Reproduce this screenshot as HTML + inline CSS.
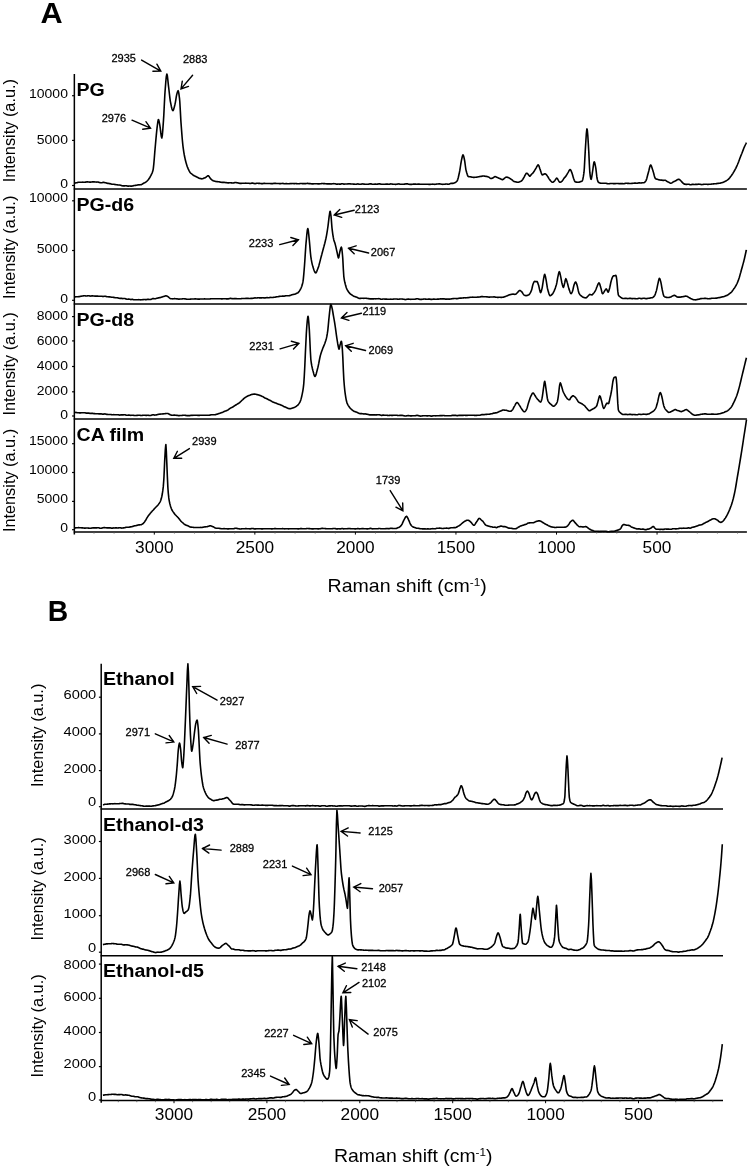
<!DOCTYPE html>
<html><head><meta charset="utf-8"><title>Raman spectra</title>
<style>html,body{margin:0;padding:0;background:#fff}svg{display:block}</style></head>
<body>
<svg width="749" height="1169" viewBox="0 0 749 1169" font-family="Liberation Sans, Arial, Helvetica, sans-serif">
<rect width="749" height="1169" fill="#fff"/>
<defs><filter id="soft" x="0" y="0" width="100%" height="100%" filterUnits="userSpaceOnUse"><feGaussianBlur stdDeviation="0.45"/></filter></defs>
<g filter="url(#soft)">
<text transform="translate(40.6 22.5) scale(1.05 1)" font-size="29.2" text-anchor="start" font-weight="bold" fill="#000">A</text>
<line x1="74.35" y1="74.1" x2="74.35" y2="534.4" stroke="#000" stroke-width="1.5"/>
<line x1="73.75" y1="188.9" x2="746.9" y2="188.9" stroke="#000" stroke-width="1.5"/>
<line x1="73.75" y1="304.0" x2="746.9" y2="304.0" stroke="#000" stroke-width="1.5"/>
<line x1="73.75" y1="418.9" x2="746.9" y2="418.9" stroke="#000" stroke-width="1.5"/>
<line x1="73.75" y1="532.0" x2="746.9" y2="532.0" stroke="#000" stroke-width="1.5"/>
<line x1="72.05" y1="95.7" x2="74.35" y2="95.7" stroke="#000" stroke-width="1.2"/>
<text transform="translate(67.9 98.3) scale(1.1 1)" font-size="12.7" text-anchor="end" fill="#000">10000</text>
<line x1="72.05" y1="140.4" x2="74.35" y2="140.4" stroke="#000" stroke-width="1.2"/>
<text transform="translate(67.9 143.8) scale(1.1 1)" font-size="12.7" text-anchor="end" fill="#000">5000</text>
<line x1="72.05" y1="185.5" x2="74.35" y2="185.5" stroke="#000" stroke-width="1.2"/>
<text transform="translate(67.9 188.1) scale(1.1 1)" font-size="12.7" text-anchor="end" fill="#000">0</text>
<line x1="72.05" y1="200.8" x2="74.35" y2="200.8" stroke="#000" stroke-width="1.2"/>
<text transform="translate(67.9 201.5) scale(1.1 1)" font-size="12.7" text-anchor="end" fill="#000">10000</text>
<line x1="72.05" y1="250.5" x2="74.35" y2="250.5" stroke="#000" stroke-width="1.2"/>
<text transform="translate(67.9 252.6) scale(1.1 1)" font-size="12.7" text-anchor="end" fill="#000">5000</text>
<line x1="72.05" y1="300.3" x2="74.35" y2="300.3" stroke="#000" stroke-width="1.2"/>
<text transform="translate(67.9 303.1) scale(1.1 1)" font-size="12.7" text-anchor="end" fill="#000">0</text>
<line x1="72.05" y1="316.6" x2="74.35" y2="316.6" stroke="#000" stroke-width="1.2"/>
<text transform="translate(67.9 319.5) scale(1.1 1)" font-size="12.7" text-anchor="end" fill="#000">8000</text>
<line x1="72.05" y1="340.9" x2="74.35" y2="340.9" stroke="#000" stroke-width="1.2"/>
<text transform="translate(67.9 344.5) scale(1.1 1)" font-size="12.7" text-anchor="end" fill="#000">6000</text>
<line x1="72.05" y1="366.5" x2="74.35" y2="366.5" stroke="#000" stroke-width="1.2"/>
<text transform="translate(67.9 369.5) scale(1.1 1)" font-size="12.7" text-anchor="end" fill="#000">4000</text>
<line x1="72.05" y1="391.8" x2="74.35" y2="391.8" stroke="#000" stroke-width="1.2"/>
<text transform="translate(67.9 394.6) scale(1.1 1)" font-size="12.7" text-anchor="end" fill="#000">2000</text>
<line x1="72.05" y1="416" x2="74.35" y2="416" stroke="#000" stroke-width="1.2"/>
<text transform="translate(67.9 418.9) scale(1.1 1)" font-size="12.7" text-anchor="end" fill="#000">0</text>
<line x1="72.05" y1="443.7" x2="74.35" y2="443.7" stroke="#000" stroke-width="1.2"/>
<text transform="translate(67.9 445.4) scale(1.1 1)" font-size="12.7" text-anchor="end" fill="#000">15000</text>
<line x1="72.05" y1="472.5" x2="74.35" y2="472.5" stroke="#000" stroke-width="1.2"/>
<text transform="translate(67.9 474.2) scale(1.1 1)" font-size="12.7" text-anchor="end" fill="#000">10000</text>
<line x1="72.05" y1="501.4" x2="74.35" y2="501.4" stroke="#000" stroke-width="1.2"/>
<text transform="translate(67.9 503.2) scale(1.1 1)" font-size="12.7" text-anchor="end" fill="#000">5000</text>
<line x1="72.05" y1="529.7" x2="74.35" y2="529.7" stroke="#000" stroke-width="1.2"/>
<text transform="translate(67.9 531.7) scale(1.1 1)" font-size="12.7" text-anchor="end" fill="#000">0</text>
<text transform="translate(14.8 130.7) scale(1.01 1) rotate(-90)" font-size="16.3" text-anchor="middle" fill="#000">Intensity (a.u.)</text>
<text transform="translate(14.8 247.3) scale(1.01 1) rotate(-90)" font-size="16.3" text-anchor="middle" fill="#000">Intensity (a.u.)</text>
<text transform="translate(14.8 363.9) scale(1.01 1) rotate(-90)" font-size="16.3" text-anchor="middle" fill="#000">Intensity (a.u.)</text>
<text transform="translate(14.8 480.5) scale(1.01 1) rotate(-90)" font-size="16.3" text-anchor="middle" fill="#000">Intensity (a.u.)</text>
<line x1="94.0" y1="532.0" x2="94.0" y2="533.6" stroke="#555" stroke-width="0.8"/>
<line x1="114.1" y1="532.0" x2="114.1" y2="533.6" stroke="#555" stroke-width="0.8"/>
<line x1="134.2" y1="532.0" x2="134.2" y2="533.6" stroke="#555" stroke-width="0.8"/>
<line x1="154.3" y1="532.0" x2="154.3" y2="534.6" stroke="#000" stroke-width="1.0"/>
<text transform="translate(154.3 552.6) scale(1.1 1)" font-size="15.7" text-anchor="middle" fill="#000">3000</text>
<line x1="174.4" y1="532.0" x2="174.4" y2="533.6" stroke="#555" stroke-width="0.8"/>
<line x1="194.5" y1="532.0" x2="194.5" y2="533.6" stroke="#555" stroke-width="0.8"/>
<line x1="214.6" y1="532.0" x2="214.6" y2="533.6" stroke="#555" stroke-width="0.8"/>
<line x1="234.7" y1="532.0" x2="234.7" y2="533.6" stroke="#555" stroke-width="0.8"/>
<line x1="254.85000000000002" y1="532.0" x2="254.85000000000002" y2="534.6" stroke="#000" stroke-width="1.0"/>
<text transform="translate(254.9 552.6) scale(1.1 1)" font-size="15.7" text-anchor="middle" fill="#000">2500</text>
<line x1="275.0" y1="532.0" x2="275.0" y2="533.6" stroke="#555" stroke-width="0.8"/>
<line x1="295.1" y1="532.0" x2="295.1" y2="533.6" stroke="#555" stroke-width="0.8"/>
<line x1="315.2" y1="532.0" x2="315.2" y2="533.6" stroke="#555" stroke-width="0.8"/>
<line x1="335.3" y1="532.0" x2="335.3" y2="533.6" stroke="#555" stroke-width="0.8"/>
<line x1="355.4" y1="532.0" x2="355.4" y2="534.6" stroke="#000" stroke-width="1.0"/>
<text transform="translate(355.4 552.6) scale(1.1 1)" font-size="15.7" text-anchor="middle" fill="#000">2000</text>
<line x1="375.5" y1="532.0" x2="375.5" y2="533.6" stroke="#555" stroke-width="0.8"/>
<line x1="395.6" y1="532.0" x2="395.6" y2="533.6" stroke="#555" stroke-width="0.8"/>
<line x1="415.7" y1="532.0" x2="415.7" y2="533.6" stroke="#555" stroke-width="0.8"/>
<line x1="435.8" y1="532.0" x2="435.8" y2="533.6" stroke="#555" stroke-width="0.8"/>
<line x1="455.95" y1="532.0" x2="455.95" y2="534.6" stroke="#000" stroke-width="1.0"/>
<text transform="translate(455.9 552.6) scale(1.1 1)" font-size="15.7" text-anchor="middle" fill="#000">1500</text>
<line x1="476.1" y1="532.0" x2="476.1" y2="533.6" stroke="#555" stroke-width="0.8"/>
<line x1="496.2" y1="532.0" x2="496.2" y2="533.6" stroke="#555" stroke-width="0.8"/>
<line x1="516.3" y1="532.0" x2="516.3" y2="533.6" stroke="#555" stroke-width="0.8"/>
<line x1="536.4" y1="532.0" x2="536.4" y2="533.6" stroke="#555" stroke-width="0.8"/>
<line x1="556.5" y1="532.0" x2="556.5" y2="534.6" stroke="#000" stroke-width="1.0"/>
<text transform="translate(556.5 552.6) scale(1.1 1)" font-size="15.7" text-anchor="middle" fill="#000">1000</text>
<line x1="576.6" y1="532.0" x2="576.6" y2="533.6" stroke="#555" stroke-width="0.8"/>
<line x1="596.7" y1="532.0" x2="596.7" y2="533.6" stroke="#555" stroke-width="0.8"/>
<line x1="616.8" y1="532.0" x2="616.8" y2="533.6" stroke="#555" stroke-width="0.8"/>
<line x1="636.9" y1="532.0" x2="636.9" y2="533.6" stroke="#555" stroke-width="0.8"/>
<line x1="657.05" y1="532.0" x2="657.05" y2="534.6" stroke="#000" stroke-width="1.0"/>
<text transform="translate(657.0 552.6) scale(1.1 1)" font-size="15.7" text-anchor="middle" fill="#000">500</text>
<line x1="677.2" y1="532.0" x2="677.2" y2="533.6" stroke="#555" stroke-width="0.8"/>
<line x1="697.3" y1="532.0" x2="697.3" y2="533.6" stroke="#555" stroke-width="0.8"/>
<line x1="717.4" y1="532.0" x2="717.4" y2="533.6" stroke="#555" stroke-width="0.8"/>
<line x1="737.5" y1="532.0" x2="737.5" y2="533.6" stroke="#555" stroke-width="0.8"/>
<text transform="translate(327.6 591.7) scale(1.117 1)" font-size="17.5" fill="#000">Raman shift (cm<tspan font-size="10.5" dy="-6">-1</tspan><tspan dy="6">)</tspan></text>
<path d="M74.8 183.1 L75.3 183.0 L75.8 182.9 L76.3 182.8 L76.8 182.7 L77.3 182.6 L77.8 182.4 L78.3 182.3 L78.8 182.3 L79.3 182.2 L79.8 182.2 L80.3 182.2 L80.8 182.2 L81.3 182.2 L81.8 182.2 L82.3 182.2 L82.8 182.1 L83.3 182.2 L83.8 182.2 L84.0 182.2 L84.3 182.2 L84.8 182.2 L85.3 182.1 L85.8 182.1 L86.3 182.0 L86.8 181.9 L87.3 181.9 L87.8 181.9 L88.3 182.0 L88.8 182.0 L89.0 182.0 L89.3 182.1 L89.8 182.1 L90.3 182.1 L90.8 182.1 L91.3 182.0 L91.8 182.0 L92.3 181.9 L92.8 181.9 L93.3 181.9 L93.8 181.9 L94.3 181.9 L94.8 182.0 L95.3 182.0 L95.8 182.0 L96.3 182.0 L96.8 182.1 L97.3 182.0 L97.8 182.0 L98.3 182.1 L98.8 182.2 L99.3 182.4 L99.8 182.6 L100.0 182.6 L100.3 182.7 L100.8 182.8 L101.3 182.7 L101.8 182.7 L102.3 182.6 L102.8 182.4 L103.3 182.4 L103.8 182.4 L104.3 182.5 L104.8 182.6 L105.3 182.7 L105.8 182.8 L106.3 183.0 L106.8 183.1 L107.3 183.2 L107.8 183.4 L108.3 183.4 L108.8 183.5 L109.3 183.6 L109.8 183.6 L110.3 183.8 L110.8 183.9 L111.3 184.1 L111.8 184.3 L112.3 184.3 L112.8 184.3 L113.3 184.3 L113.8 184.3 L114.3 184.4 L114.8 184.5 L115.0 184.5 L115.3 184.5 L115.8 184.6 L116.3 184.7 L116.8 184.7 L117.3 184.8 L117.8 185.0 L118.3 185.0 L118.8 185.0 L119.3 185.0 L119.8 185.0 L120.3 185.2 L120.8 185.3 L121.3 185.5 L121.8 185.7 L122.3 185.8 L122.8 185.9 L123.3 185.9 L123.8 185.9 L124.3 185.9 L124.8 185.9 L125.3 185.8 L125.8 185.7 L126.3 185.8 L126.8 185.9 L127.3 186.0 L127.8 186.1 L128.3 186.1 L128.8 186.1 L129.3 186.0 L129.8 186.0 L130.0 186.0 L130.3 186.1 L130.8 186.1 L131.3 186.1 L131.8 186.1 L132.3 186.0 L132.8 185.9 L133.3 185.7 L133.8 185.6 L134.3 185.5 L134.8 185.5 L135.3 185.4 L135.8 185.4 L136.3 185.3 L136.8 185.3 L137.3 185.1 L137.8 184.9 L138.3 184.9 L138.8 184.8 L139.3 184.8 L139.8 184.9 L140.0 184.8 L140.3 184.8 L140.8 184.8 L141.3 184.6 L141.8 184.5 L142.3 184.1 L142.8 183.8 L143.3 183.4 L143.8 183.0 L144.3 182.9 L144.8 182.7 L145.3 182.4 L145.8 182.1 L146.3 181.7 L146.8 181.2 L147.0 181.1 L147.3 180.8 L147.8 180.2 L148.3 179.7 L148.8 179.0 L149.3 178.3 L149.8 177.5 L150.3 176.6 L150.8 175.7 L151.0 175.3 L151.3 174.7 L151.8 173.7 L152.3 172.6 L152.8 171.0 L153.0 170.3 L153.3 168.6 L153.8 164.1 L154.3 158.2 L154.8 151.9 L155.3 146.2 L155.8 140.6 L156.3 135.1 L156.8 130.1 L157.0 128.4 L157.3 125.9 L157.8 122.0 L158.3 119.6 L158.4 119.5 L158.8 120.2 L159.3 122.5 L159.8 125.1 L160.3 128.6 L160.8 132.9 L161.3 136.5 L161.8 138.0 L162.3 135.6 L162.8 129.9 L163.3 122.9 L163.5 120.1 L163.8 115.2 L164.3 105.0 L164.8 95.2 L165.0 92.2 L165.3 88.2 L165.8 81.8 L166.3 76.6 L166.8 74.1 L166.9 74.0 L167.3 75.4 L167.8 79.5 L168.3 84.4 L168.5 86.1 L168.8 88.5 L169.3 93.0 L169.8 97.4 L170.3 101.1 L170.5 102.2 L170.8 103.7 L171.3 106.2 L171.8 108.3 L172.3 109.9 L172.8 110.6 L172.9 110.6 L173.3 110.2 L173.8 108.9 L174.3 107.1 L174.8 105.0 L175.0 104.2 L175.3 102.8 L175.8 99.8 L176.3 96.7 L176.8 94.2 L177.3 92.4 L177.8 91.0 L178.1 90.7 L178.3 90.9 L178.8 93.1 L179.3 96.8 L179.5 98.4 L179.8 101.8 L180.3 110.4 L180.8 119.6 L181.0 122.6 L181.3 126.7 L181.8 133.4 L182.3 139.5 L182.8 144.6 L183.0 146.4 L183.3 148.7 L183.8 152.1 L184.3 155.0 L184.8 157.5 L185.0 158.4 L185.3 159.7 L185.8 161.7 L186.3 163.6 L186.8 165.2 L187.3 166.7 L187.8 167.9 L188.3 169.1 L188.8 170.1 L189.3 171.1 L189.8 172.0 L190.3 172.7 L190.8 173.2 L191.0 173.4 L191.3 173.6 L191.8 174.0 L192.3 174.4 L192.8 174.8 L193.3 175.2 L193.8 175.5 L194.3 175.8 L194.8 176.0 L195.0 176.1 L195.3 176.3 L195.8 176.5 L196.3 176.8 L196.8 177.1 L197.3 177.3 L197.8 177.6 L198.3 177.8 L198.8 178.1 L199.3 178.2 L199.8 178.4 L200.3 178.5 L200.8 178.6 L201.3 178.8 L201.8 178.9 L202.0 178.8 L202.3 178.8 L202.8 178.7 L203.3 178.4 L203.8 178.1 L204.3 178.0 L204.8 177.9 L205.0 177.8 L205.3 177.7 L205.8 177.4 L206.3 176.9 L206.8 176.5 L207.3 176.1 L207.8 175.8 L208.2 175.7 L208.3 175.7 L208.8 176.1 L209.3 176.8 L209.8 177.6 L210.3 178.4 L210.5 178.6 L210.8 178.9 L211.3 179.4 L211.8 179.8 L212.3 180.2 L212.8 180.5 L213.3 180.8 L213.8 181.0 L214.0 181.0 L214.3 181.1 L214.8 181.3 L215.3 181.4 L215.8 181.5 L216.3 181.5 L216.8 181.6 L217.3 181.6 L217.8 181.7 L218.3 181.7 L218.8 181.8 L219.3 181.9 L219.8 182.0 L220.3 182.1 L220.8 182.2 L221.3 182.3 L221.8 182.4 L222.3 182.4 L222.8 182.4 L223.3 182.4 L223.8 182.3 L224.3 182.4 L224.8 182.5 L225.0 182.5 L225.3 182.5 L225.8 182.6 L226.3 182.6 L226.8 182.7 L227.3 182.8 L227.8 182.9 L228.3 182.9 L228.8 182.9 L229.3 182.8 L229.8 182.7 L230.3 182.8 L230.8 182.8 L231.3 182.9 L231.8 182.9 L232.3 183.0 L232.8 183.0 L233.3 183.0 L233.8 182.9 L234.3 182.8 L234.8 182.6 L235.3 182.5 L235.8 182.5 L236.3 182.6 L236.8 182.7 L237.3 182.8 L237.8 182.9 L238.3 183.0 L238.8 183.1 L239.3 183.3 L239.8 183.4 L240.3 183.4 L240.8 183.4 L241.3 183.4 L241.8 183.3 L242.3 183.3 L242.8 183.3 L243.3 183.3 L243.8 183.3 L244.3 183.2 L244.8 183.2 L245.3 183.2 L245.8 183.1 L246.3 183.2 L246.8 183.2 L247.3 183.3 L247.8 183.3 L248.3 183.3 L248.8 183.3 L249.3 183.4 L249.8 183.5 L250.0 183.5 L250.3 183.5 L250.8 183.4 L251.3 183.2 L251.8 183.1 L252.3 183.1 L252.8 183.1 L253.3 183.2 L253.8 183.4 L254.3 183.5 L254.8 183.6 L255.3 183.6 L255.8 183.5 L256.3 183.4 L256.8 183.3 L257.3 183.3 L257.8 183.3 L258.3 183.4 L258.8 183.4 L259.3 183.4 L259.8 183.4 L260.3 183.5 L260.8 183.5 L261.3 183.6 L261.8 183.6 L262.3 183.6 L262.8 183.6 L263.3 183.5 L263.8 183.4 L264.3 183.4 L264.8 183.4 L265.3 183.5 L265.8 183.5 L266.3 183.5 L266.8 183.5 L267.3 183.5 L267.8 183.5 L268.3 183.5 L268.8 183.5 L269.3 183.5 L269.8 183.5 L270.3 183.5 L270.8 183.6 L271.3 183.6 L271.8 183.6 L272.3 183.6 L272.8 183.6 L273.3 183.5 L273.8 183.4 L274.3 183.4 L274.8 183.4 L275.3 183.4 L275.8 183.4 L276.3 183.5 L276.8 183.5 L277.3 183.5 L277.8 183.5 L278.3 183.5 L278.8 183.5 L279.3 183.6 L279.8 183.6 L280.3 183.6 L280.8 183.6 L281.3 183.5 L281.8 183.5 L282.3 183.5 L282.8 183.4 L283.3 183.5 L283.8 183.6 L284.3 183.7 L284.8 183.7 L285.3 183.7 L285.8 183.6 L286.3 183.6 L286.8 183.6 L287.3 183.7 L287.8 183.7 L288.3 183.7 L288.8 183.7 L289.3 183.7 L289.8 183.6 L290.3 183.6 L290.8 183.5 L291.3 183.5 L291.8 183.6 L292.3 183.5 L292.8 183.5 L293.3 183.5 L293.8 183.6 L294.3 183.6 L294.8 183.6 L295.3 183.5 L295.8 183.5 L296.3 183.6 L296.8 183.6 L297.3 183.7 L297.8 183.7 L298.3 183.8 L298.8 183.8 L299.3 183.7 L299.8 183.6 L300.0 183.6 L300.3 183.5 L300.8 183.5 L301.3 183.5 L301.8 183.5 L302.3 183.6 L302.8 183.6 L303.3 183.6 L303.8 183.6 L304.3 183.6 L304.8 183.6 L305.3 183.6 L305.8 183.6 L306.3 183.5 L306.8 183.5 L307.3 183.4 L307.8 183.4 L308.3 183.5 L308.8 183.6 L309.3 183.6 L309.8 183.6 L310.3 183.6 L310.8 183.7 L311.3 183.8 L311.8 183.9 L312.3 183.9 L312.8 183.9 L313.3 183.9 L313.8 183.8 L314.3 183.8 L314.8 183.7 L315.3 183.7 L315.8 183.7 L316.3 183.8 L316.8 183.8 L317.3 183.8 L317.8 183.9 L318.3 183.9 L318.8 183.9 L319.3 183.9 L319.8 183.8 L320.3 183.8 L320.8 183.7 L321.3 183.6 L321.8 183.5 L322.3 183.5 L322.8 183.5 L323.3 183.6 L323.8 183.6 L324.3 183.6 L324.8 183.6 L325.3 183.7 L325.8 183.7 L326.3 183.8 L326.8 183.9 L327.3 183.9 L327.8 183.9 L328.3 183.9 L328.8 183.9 L329.3 183.9 L329.8 183.9 L330.3 183.9 L330.8 184.0 L331.3 184.0 L331.8 183.9 L332.3 183.8 L332.8 183.7 L333.3 183.7 L333.8 183.6 L334.3 183.7 L334.8 183.7 L335.3 183.8 L335.8 184.0 L336.3 184.1 L336.8 184.2 L337.3 184.1 L337.8 184.1 L338.3 184.0 L338.8 184.0 L339.3 184.1 L339.8 184.1 L340.3 184.1 L340.8 184.1 L341.3 183.9 L341.8 183.8 L342.3 183.8 L342.8 183.8 L343.3 184.0 L343.8 184.1 L344.3 184.1 L344.8 184.0 L345.3 184.0 L345.8 184.0 L346.3 184.0 L346.8 184.0 L347.3 184.0 L347.8 183.9 L348.3 183.9 L348.8 183.8 L349.3 183.8 L349.8 183.9 L350.0 183.9 L350.3 183.9 L350.8 184.0 L351.3 184.0 L351.8 184.0 L352.3 184.0 L352.8 184.0 L353.3 184.1 L353.8 184.1 L354.3 184.1 L354.8 184.2 L355.3 184.2 L355.8 184.3 L356.3 184.2 L356.8 184.1 L357.3 184.0 L357.8 183.9 L358.3 184.0 L358.8 184.1 L359.3 184.2 L359.8 184.2 L360.3 184.2 L360.8 184.2 L361.3 184.1 L361.8 184.0 L362.3 184.0 L362.8 183.9 L363.3 184.0 L363.8 184.1 L364.3 184.1 L364.8 184.2 L365.3 184.2 L365.8 184.2 L366.3 184.2 L366.8 184.3 L367.3 184.3 L367.8 184.3 L368.3 184.2 L368.8 184.1 L369.3 184.0 L369.8 183.9 L370.3 183.9 L370.8 183.8 L371.3 183.9 L371.8 184.1 L372.3 184.2 L372.8 184.3 L373.3 184.3 L373.8 184.2 L374.3 184.2 L374.8 184.1 L375.3 184.1 L375.8 184.1 L376.3 184.2 L376.8 184.2 L377.3 184.1 L377.8 184.1 L378.3 184.0 L378.8 183.9 L379.3 183.9 L379.8 183.9 L380.3 184.0 L380.8 184.1 L381.3 184.2 L381.8 184.2 L382.3 184.2 L382.8 184.2 L383.3 184.2 L383.8 184.2 L384.3 184.2 L384.8 184.3 L385.3 184.2 L385.8 184.1 L386.3 184.1 L386.8 184.0 L387.3 184.1 L387.8 184.1 L388.3 184.2 L388.8 184.2 L389.3 184.2 L389.8 184.1 L390.3 184.0 L390.8 183.9 L391.3 184.0 L391.8 184.0 L392.3 184.1 L392.8 184.2 L393.3 184.2 L393.8 184.2 L394.3 184.3 L394.8 184.3 L395.3 184.4 L395.8 184.4 L396.3 184.3 L396.8 184.3 L397.3 184.1 L397.8 184.0 L398.3 184.0 L398.8 183.9 L399.3 184.0 L399.8 184.1 L400.0 184.2 L400.3 184.2 L400.8 184.3 L401.3 184.3 L401.8 184.3 L402.3 184.3 L402.8 184.2 L403.3 184.2 L403.8 184.2 L404.3 184.1 L404.8 184.1 L405.3 184.0 L405.8 183.9 L406.3 183.9 L406.8 183.8 L407.3 183.9 L407.8 183.9 L408.3 184.1 L408.8 184.2 L409.3 184.3 L409.8 184.4 L410.3 184.4 L410.8 184.4 L411.3 184.4 L411.8 184.4 L412.3 184.3 L412.8 184.2 L413.3 184.1 L413.8 184.1 L414.3 184.1 L414.8 184.1 L415.3 184.1 L415.8 184.1 L416.3 184.2 L416.8 184.2 L417.3 184.2 L417.8 184.1 L418.3 184.1 L418.8 184.1 L419.3 184.1 L419.8 184.2 L420.3 184.2 L420.8 184.2 L421.3 184.2 L421.8 184.2 L422.3 184.2 L422.8 184.3 L423.3 184.2 L423.8 184.2 L424.3 184.2 L424.8 184.2 L425.3 184.2 L425.8 184.3 L426.3 184.3 L426.8 184.3 L427.3 184.3 L427.8 184.2 L428.3 184.3 L428.8 184.4 L429.3 184.4 L429.8 184.4 L430.3 184.4 L430.8 184.3 L431.3 184.3 L431.8 184.2 L432.3 184.2 L432.8 184.1 L433.3 184.2 L433.8 184.2 L434.3 184.3 L434.8 184.4 L435.3 184.3 L435.8 184.2 L436.3 184.1 L436.8 184.0 L437.3 184.0 L437.8 184.0 L438.3 184.0 L438.8 183.9 L439.3 183.9 L439.8 183.9 L440.0 183.9 L440.3 184.0 L440.8 184.0 L441.3 184.2 L441.8 184.3 L442.3 184.3 L442.8 184.4 L443.3 184.3 L443.8 184.3 L444.3 184.2 L444.8 184.2 L445.3 184.1 L445.8 184.0 L446.3 184.0 L446.8 184.0 L447.3 184.1 L447.8 184.2 L448.3 184.2 L448.8 184.2 L449.3 184.0 L449.8 183.9 L450.3 183.6 L450.8 183.4 L451.3 183.4 L451.8 183.3 L452.0 183.3 L452.3 183.4 L452.8 183.4 L453.3 183.2 L453.8 183.1 L454.3 182.9 L454.8 182.7 L455.3 182.5 L455.8 182.3 L456.3 181.8 L456.8 181.3 L457.0 181.1 L457.3 180.6 L457.8 179.3 L458.3 177.5 L458.8 175.3 L459.3 173.0 L459.5 172.1 L459.8 170.5 L460.3 167.4 L460.8 164.0 L461.3 161.1 L461.5 160.1 L461.8 158.8 L462.3 156.5 L462.8 155.1 L463.0 154.9 L463.3 155.2 L463.8 156.7 L464.3 159.0 L464.5 160.0 L464.8 161.7 L465.3 165.5 L465.8 169.1 L466.0 170.1 L466.3 171.2 L466.8 173.0 L467.3 174.6 L467.8 175.9 L468.3 176.5 L468.5 176.6 L468.8 176.6 L469.3 176.7 L469.8 176.7 L470.3 176.8 L470.8 176.9 L471.3 177.0 L471.8 177.1 L472.3 177.2 L472.8 177.3 L473.3 177.4 L473.8 177.4 L474.3 177.4 L474.8 177.3 L475.0 177.3 L475.3 177.3 L475.8 177.2 L476.3 177.2 L476.8 177.1 L477.3 177.0 L477.8 177.0 L478.3 176.8 L478.8 176.7 L479.3 176.6 L479.8 176.5 L480.3 176.5 L480.8 176.4 L481.3 176.4 L481.8 176.3 L482.3 176.1 L482.8 176.0 L483.0 176.0 L483.3 176.0 L483.8 176.0 L484.3 176.1 L484.8 176.3 L485.3 176.3 L485.8 176.4 L486.3 176.4 L486.8 176.5 L487.3 176.6 L487.8 176.7 L488.0 176.8 L488.3 176.9 L488.8 177.1 L489.3 177.5 L489.8 177.9 L490.3 178.2 L490.8 178.4 L491.3 178.5 L491.8 178.4 L492.3 178.3 L492.8 178.1 L493.3 177.7 L493.8 177.3 L494.3 176.9 L494.8 176.6 L495.3 176.6 L495.4 176.6 L495.8 176.8 L496.3 177.0 L496.8 177.3 L497.3 177.5 L497.8 177.6 L498.3 177.9 L498.8 178.2 L499.0 178.2 L499.3 178.4 L499.8 178.6 L500.3 178.8 L500.8 179.0 L501.3 179.3 L501.8 179.5 L502.0 179.6 L502.3 179.6 L502.8 179.6 L503.3 179.3 L503.8 178.9 L504.3 178.4 L504.8 178.0 L505.3 177.6 L505.8 177.3 L506.3 177.2 L506.8 177.1 L507.0 177.1 L507.3 177.2 L507.8 177.4 L508.3 177.6 L508.8 177.8 L509.3 178.1 L509.8 178.4 L510.3 178.7 L510.8 179.0 L511.0 179.1 L511.3 179.3 L511.8 179.7 L512.3 180.1 L512.8 180.6 L513.3 181.0 L513.8 181.4 L514.0 181.4 L514.3 181.5 L514.8 181.7 L515.3 181.8 L515.8 181.9 L516.3 182.0 L516.8 182.1 L517.3 182.2 L517.8 182.2 L518.3 182.2 L518.8 182.1 L519.3 181.9 L519.8 181.7 L520.3 181.5 L520.8 181.3 L521.0 181.2 L521.3 181.1 L521.8 180.7 L522.3 180.1 L522.8 179.4 L523.3 178.5 L523.8 177.6 L524.0 177.3 L524.3 176.8 L524.8 175.7 L525.3 174.8 L525.8 173.9 L526.3 173.3 L526.7 173.2 L526.8 173.2 L527.3 173.4 L527.8 173.9 L528.3 174.6 L528.5 174.8 L528.8 175.2 L529.3 175.9 L529.8 176.3 L530.3 175.9 L530.8 175.2 L531.3 174.5 L531.5 174.3 L531.8 174.0 L532.3 173.6 L532.8 173.2 L533.3 172.6 L533.4 172.4 L533.8 171.8 L534.3 171.0 L534.8 170.1 L535.3 169.3 L535.8 168.5 L536.0 168.2 L536.3 167.7 L536.8 166.7 L537.3 165.8 L537.8 165.0 L538.2 164.9 L538.3 164.9 L538.8 165.6 L539.3 167.0 L539.8 168.5 L540.0 169.1 L540.3 169.9 L540.8 171.5 L541.3 173.1 L541.8 174.3 L542.3 174.9 L542.8 174.8 L543.3 174.6 L543.8 174.2 L544.3 174.0 L544.8 173.8 L545.0 173.8 L545.3 173.8 L545.8 174.2 L546.3 174.6 L546.8 175.2 L547.3 175.9 L547.5 176.2 L547.8 176.6 L548.3 177.5 L548.8 178.4 L549.3 179.2 L549.8 179.8 L550.0 180.1 L550.3 180.4 L550.8 181.0 L551.3 181.5 L551.8 182.0 L552.3 182.2 L552.6 182.3 L552.8 182.3 L553.3 182.1 L553.8 181.6 L554.3 181.2 L554.5 181.0 L554.8 180.7 L555.3 179.9 L555.8 179.1 L556.3 178.4 L556.7 178.1 L556.8 178.1 L557.3 178.5 L557.8 179.4 L558.3 180.2 L558.8 181.1 L559.3 181.9 L559.8 182.2 L560.3 182.2 L560.8 182.0 L561.3 181.7 L561.8 181.4 L562.0 181.2 L562.3 180.9 L562.8 180.2 L563.3 179.4 L563.8 178.6 L564.0 178.3 L564.3 177.9 L564.8 177.4 L565.3 176.9 L565.8 176.3 L566.3 175.5 L566.8 174.7 L567.3 173.8 L567.8 172.9 L568.0 172.6 L568.3 172.1 L568.8 171.2 L569.3 170.3 L569.8 169.7 L570.2 169.5 L570.3 169.6 L570.8 170.2 L571.3 171.3 L571.8 172.6 L572.0 173.1 L572.3 174.0 L572.8 175.8 L573.3 177.6 L573.5 178.2 L573.8 179.0 L574.3 180.3 L574.8 181.4 L575.3 181.9 L575.4 182.0 L575.8 182.0 L576.3 182.1 L576.8 182.1 L577.3 182.2 L577.8 182.2 L578.3 182.3 L578.6 182.3 L578.8 182.3 L579.3 182.1 L579.8 182.0 L580.3 181.7 L580.8 181.5 L581.3 181.4 L581.8 181.2 L582.0 181.1 L582.3 180.8 L582.8 179.4 L583.3 176.9 L583.8 173.7 L584.0 172.2 L584.3 168.6 L584.8 159.2 L585.3 150.1 L585.8 142.0 L586.3 134.2 L586.8 129.4 L587.0 128.9 L587.3 130.0 L587.8 135.5 L588.3 143.6 L588.7 150.2 L588.8 151.9 L589.3 163.3 L589.8 172.2 L590.3 176.3 L590.8 178.9 L591.1 179.4 L591.3 179.1 L591.8 176.7 L592.3 173.3 L592.5 172.0 L592.8 170.0 L593.3 166.1 L593.8 162.9 L594.2 161.9 L594.3 161.9 L594.8 163.1 L595.3 165.4 L595.8 168.1 L596.3 172.1 L596.8 176.7 L597.0 178.0 L597.3 179.4 L597.8 181.2 L598.3 182.2 L598.8 182.6 L599.3 182.8 L599.8 183.0 L600.3 183.1 L600.8 183.2 L601.3 183.2 L601.8 183.2 L602.0 183.2 L602.3 183.2 L602.8 183.2 L603.3 183.3 L603.8 183.3 L604.3 183.3 L604.8 183.3 L605.3 183.3 L605.8 183.3 L606.3 183.4 L606.8 183.5 L607.3 183.6 L607.8 183.7 L608.3 183.7 L608.8 183.7 L609.3 183.7 L609.8 183.6 L610.3 183.5 L610.8 183.5 L611.3 183.5 L611.8 183.5 L612.3 183.5 L612.8 183.5 L613.3 183.6 L613.8 183.6 L614.3 183.6 L614.8 183.6 L615.3 183.6 L615.8 183.5 L616.3 183.5 L616.8 183.5 L617.3 183.5 L617.8 183.5 L618.3 183.5 L618.8 183.6 L619.3 183.6 L619.8 183.7 L620.0 183.7 L620.3 183.6 L620.8 183.6 L621.3 183.6 L621.8 183.5 L622.3 183.6 L622.8 183.6 L623.3 183.7 L623.8 183.7 L624.3 183.6 L624.8 183.5 L625.3 183.4 L625.8 183.3 L626.3 183.3 L626.8 183.3 L627.3 183.4 L627.8 183.4 L628.3 183.4 L628.8 183.4 L629.3 183.5 L629.8 183.5 L630.3 183.5 L630.8 183.5 L631.3 183.5 L631.8 183.4 L632.3 183.4 L632.8 183.3 L633.3 183.2 L633.8 183.2 L634.3 183.1 L634.8 183.0 L635.3 183.1 L635.8 183.1 L636.3 183.2 L636.8 183.3 L637.3 183.2 L637.8 183.1 L638.3 183.0 L638.8 182.9 L639.3 182.9 L639.8 182.9 L640.3 183.0 L640.8 183.0 L641.3 183.0 L641.8 182.9 L642.3 182.8 L642.8 182.7 L643.3 182.7 L643.5 182.7 L643.8 182.7 L644.3 182.5 L644.8 182.2 L645.3 181.6 L645.8 181.0 L646.0 180.6 L646.3 179.9 L646.8 178.4 L647.3 176.5 L647.8 174.5 L648.3 172.7 L648.5 172.0 L648.8 170.9 L649.3 168.8 L649.8 166.8 L650.3 165.3 L650.7 165.0 L650.8 165.0 L651.3 165.8 L651.8 167.3 L652.3 168.8 L652.5 169.4 L652.8 170.3 L653.3 171.9 L653.8 173.8 L654.3 175.8 L654.8 177.4 L655.3 178.5 L655.5 178.7 L655.8 178.9 L656.3 179.0 L656.8 179.2 L657.3 179.3 L657.8 179.4 L658.3 179.6 L658.8 179.7 L659.3 179.9 L659.8 180.0 L660.3 180.0 L660.8 180.1 L661.3 180.1 L661.8 180.1 L662.3 180.3 L662.8 180.4 L663.3 180.4 L663.8 180.4 L664.3 180.3 L664.8 180.2 L665.0 180.2 L665.3 180.3 L665.8 180.5 L666.3 180.9 L666.8 181.3 L667.3 181.6 L667.8 181.9 L668.0 182.0 L668.3 182.1 L668.8 182.3 L669.3 182.6 L669.8 182.9 L670.3 183.1 L670.8 183.2 L671.0 183.2 L671.3 183.1 L671.8 182.9 L672.3 182.6 L672.8 182.2 L673.3 181.9 L673.8 181.6 L674.3 181.4 L674.8 181.2 L675.0 181.2 L675.3 181.0 L675.8 180.8 L676.3 180.4 L676.8 180.0 L677.3 179.7 L677.8 179.5 L678.3 179.3 L678.8 179.3 L679.3 179.5 L679.8 179.8 L680.3 180.3 L680.8 180.8 L681.0 181.0 L681.3 181.3 L681.8 181.9 L682.3 182.4 L682.8 182.9 L683.3 183.4 L683.8 183.8 L684.3 184.0 L684.4 184.1 L684.8 184.1 L685.3 184.3 L685.8 184.4 L686.3 184.4 L686.8 184.4 L687.3 184.3 L687.8 184.2 L688.3 184.2 L688.8 184.3 L689.3 184.4 L689.8 184.6 L690.3 184.7 L690.8 184.7 L691.3 184.6 L691.8 184.5 L692.3 184.4 L692.8 184.4 L693.3 184.4 L693.8 184.5 L694.3 184.5 L694.8 184.5 L695.3 184.4 L695.8 184.4 L696.3 184.4 L696.8 184.4 L697.3 184.4 L697.8 184.3 L698.3 184.2 L698.8 184.1 L699.3 184.2 L699.8 184.2 L700.0 184.3 L700.3 184.3 L700.8 184.5 L701.3 184.5 L701.8 184.6 L702.3 184.5 L702.8 184.5 L703.3 184.4 L703.8 184.3 L704.3 184.3 L704.8 184.3 L705.3 184.2 L705.8 184.2 L706.3 184.2 L706.8 184.3 L707.3 184.4 L707.8 184.5 L708.3 184.4 L708.8 184.3 L709.3 184.2 L709.8 184.2 L710.3 184.2 L710.8 184.2 L711.3 184.1 L711.8 184.0 L712.3 184.0 L712.8 184.0 L713.3 183.9 L713.8 183.9 L714.3 183.8 L714.8 183.7 L715.3 183.7 L715.8 183.7 L716.3 183.6 L716.8 183.6 L717.3 183.5 L717.8 183.4 L718.0 183.4 L718.3 183.4 L718.8 183.3 L719.3 183.3 L719.8 183.2 L720.3 183.1 L720.8 183.0 L721.3 182.8 L721.8 182.7 L722.0 182.6 L722.3 182.6 L722.8 182.4 L723.3 182.2 L723.8 182.0 L724.3 181.7 L724.8 181.5 L725.3 181.2 L725.8 181.0 L726.3 180.7 L726.8 180.4 L727.3 180.1 L727.6 179.9 L727.8 179.7 L728.3 179.3 L728.8 178.9 L729.3 178.3 L729.8 177.7 L730.3 177.0 L730.8 176.3 L731.0 176.1 L731.3 175.7 L731.8 175.0 L732.3 174.3 L732.8 173.6 L733.3 172.7 L733.8 171.9 L734.3 171.0 L734.8 170.1 L735.3 169.2 L735.8 168.3 L736.3 167.2 L736.8 166.1 L737.3 165.0 L737.8 163.8 L738.0 163.3 L738.3 162.6 L738.8 161.3 L739.3 159.9 L739.8 158.5 L740.3 157.2 L740.8 155.9 L741.3 154.7 L741.8 153.5 L742.3 152.2 L742.8 150.9 L743.3 149.6 L743.8 148.3 L744.0 147.8 L744.3 147.1 L744.8 146.0 L745.3 145.0 L745.8 144.0 L746.3 142.9 L746.4 142.7" fill="none" stroke="#000" stroke-width="1.6" stroke-linejoin="round" stroke-linecap="butt"/>
<path d="M74.8 297.1 L75.3 296.9 L75.8 296.8 L76.3 296.7 L76.8 296.7 L77.3 296.7 L77.8 296.7 L78.3 296.7 L78.8 296.6 L79.3 296.6 L79.8 296.5 L80.3 296.4 L80.8 296.3 L81.3 296.2 L81.8 296.1 L82.3 296.0 L82.8 296.0 L83.3 295.9 L83.8 295.8 L84.0 295.8 L84.3 295.8 L84.8 295.8 L85.3 295.9 L85.8 296.0 L86.3 296.0 L86.8 296.0 L87.3 295.9 L87.8 295.8 L88.3 295.8 L88.8 295.8 L89.3 295.9 L89.8 296.0 L90.0 296.0 L90.3 296.0 L90.8 296.1 L91.3 296.0 L91.8 295.9 L92.3 295.9 L92.8 295.9 L93.3 296.0 L93.8 296.0 L94.3 296.0 L94.8 296.1 L95.3 296.1 L95.8 296.1 L96.3 296.1 L96.8 296.1 L97.3 296.1 L97.8 296.1 L98.3 296.2 L98.8 296.3 L99.3 296.3 L99.8 296.3 L100.3 296.2 L100.8 296.2 L101.3 296.3 L101.8 296.3 L102.3 296.4 L102.8 296.5 L103.3 296.5 L103.8 296.4 L104.3 296.3 L104.8 296.2 L105.0 296.3 L105.3 296.3 L105.8 296.4 L106.3 296.5 L106.8 296.7 L107.3 296.8 L107.8 296.8 L108.3 296.8 L108.8 296.9 L109.3 296.9 L109.8 296.9 L110.3 297.0 L110.8 297.0 L111.3 297.2 L111.8 297.3 L112.3 297.3 L112.8 297.3 L113.3 297.4 L113.8 297.4 L114.3 297.5 L114.8 297.6 L115.3 297.7 L115.8 297.7 L116.3 297.7 L116.8 297.8 L117.3 297.8 L117.8 297.9 L118.3 298.0 L118.8 298.2 L119.3 298.3 L119.8 298.4 L120.3 298.4 L120.8 298.3 L121.3 298.4 L121.8 298.4 L122.3 298.5 L122.8 298.6 L123.3 298.5 L123.8 298.5 L124.3 298.5 L124.8 298.5 L125.0 298.6 L125.3 298.7 L125.8 298.9 L126.3 299.0 L126.8 299.2 L127.3 299.2 L127.8 299.2 L128.3 299.1 L128.8 299.0 L129.3 299.2 L129.8 299.3 L130.3 299.4 L130.8 299.6 L131.3 299.5 L131.8 299.4 L132.3 299.4 L132.8 299.4 L133.3 299.6 L133.8 299.7 L134.3 299.7 L134.8 299.8 L135.3 299.8 L135.8 299.8 L136.3 299.8 L136.8 299.8 L137.3 299.8 L137.8 299.7 L138.3 299.7 L138.8 299.6 L139.3 299.7 L139.7 299.7 L139.8 299.7 L140.3 299.8 L140.8 299.9 L141.3 299.8 L141.8 299.8 L142.3 299.7 L142.8 299.6 L143.3 299.6 L143.8 299.5 L144.3 299.5 L144.8 299.5 L145.3 299.6 L145.8 299.6 L146.3 299.6 L146.8 299.5 L147.3 299.4 L147.8 299.3 L148.3 299.4 L148.8 299.4 L149.3 299.5 L149.8 299.5 L150.3 299.5 L150.8 299.4 L151.3 299.2 L151.8 299.0 L152.0 298.9 L152.3 298.7 L152.8 298.5 L153.3 298.6 L153.8 298.6 L154.3 298.7 L154.8 298.7 L155.3 298.7 L155.8 298.6 L156.3 298.4 L156.8 298.3 L157.3 298.2 L157.8 298.0 L158.3 297.9 L158.8 297.9 L159.3 297.8 L159.8 297.6 L160.0 297.6 L160.3 297.6 L160.8 297.4 L161.3 297.3 L161.8 297.1 L162.3 296.9 L162.8 296.7 L163.3 296.5 L163.5 296.5 L163.8 296.4 L164.3 296.2 L164.8 296.1 L165.3 295.9 L165.6 295.8 L165.8 295.8 L166.3 295.9 L166.8 296.1 L167.3 296.3 L167.5 296.4 L167.8 296.5 L168.3 296.9 L168.8 297.3 L169.3 297.8 L169.8 298.2 L170.3 298.5 L170.8 298.7 L171.0 298.7 L171.3 298.8 L171.8 298.8 L172.3 298.8 L172.8 298.9 L173.3 298.8 L173.8 298.7 L174.3 298.6 L174.8 298.6 L175.3 298.7 L175.8 298.8 L176.3 298.8 L176.8 298.9 L177.3 298.9 L177.8 299.0 L178.0 299.0 L178.3 299.1 L178.8 299.1 L179.3 299.1 L179.8 299.0 L180.3 299.0 L180.8 299.0 L181.3 299.0 L181.8 299.0 L182.3 298.9 L182.8 298.8 L183.3 298.8 L183.8 298.8 L184.3 298.8 L184.8 298.9 L185.3 298.9 L185.8 299.0 L186.3 299.1 L186.8 299.2 L187.3 299.2 L187.8 299.2 L188.3 299.2 L188.8 299.2 L189.3 299.2 L189.8 299.2 L190.3 299.1 L190.8 299.1 L191.3 299.0 L191.8 299.0 L192.3 299.0 L192.8 299.0 L193.3 299.0 L193.8 299.0 L194.3 299.0 L194.8 298.9 L195.3 298.9 L195.8 298.9 L196.3 299.0 L196.8 299.0 L197.3 299.0 L197.8 299.1 L198.3 299.1 L198.8 299.1 L199.3 299.1 L199.8 299.1 L200.0 299.0 L200.3 299.0 L200.8 299.0 L201.3 299.0 L201.8 299.0 L202.3 299.0 L202.8 299.0 L203.3 299.0 L203.8 299.0 L204.3 298.9 L204.8 298.9 L205.3 299.0 L205.8 299.0 L206.3 299.0 L206.8 299.0 L207.3 299.0 L207.8 299.0 L208.3 299.0 L208.8 299.0 L209.3 299.0 L209.8 299.0 L210.3 298.9 L210.8 298.8 L211.3 298.8 L211.8 298.7 L212.3 298.7 L212.8 298.7 L213.3 298.7 L213.8 298.7 L214.3 298.8 L214.8 298.8 L215.3 298.8 L215.8 298.8 L216.3 298.8 L216.8 298.8 L217.3 298.8 L217.8 298.8 L218.3 298.8 L218.8 298.8 L219.3 298.8 L219.8 298.8 L220.3 298.8 L220.8 298.8 L221.3 298.9 L221.8 298.9 L222.3 298.9 L222.8 298.8 L223.3 298.8 L223.8 298.7 L224.3 298.7 L224.8 298.8 L225.3 298.8 L225.8 298.8 L226.3 298.9 L226.8 298.9 L227.3 298.9 L227.8 298.9 L228.3 298.9 L228.8 298.8 L229.3 298.6 L229.8 298.5 L230.3 298.4 L230.8 298.4 L231.3 298.5 L231.8 298.6 L232.3 298.6 L232.8 298.7 L233.3 298.7 L233.8 298.6 L234.3 298.6 L234.8 298.5 L235.3 298.6 L235.8 298.6 L236.3 298.6 L236.8 298.7 L237.3 298.7 L237.8 298.7 L238.3 298.8 L238.8 298.8 L239.3 298.8 L239.8 298.8 L240.0 298.8 L240.3 298.7 L240.8 298.7 L241.3 298.6 L241.8 298.5 L242.3 298.5 L242.8 298.5 L243.3 298.5 L243.8 298.5 L244.3 298.5 L244.8 298.5 L245.3 298.5 L245.8 298.4 L246.3 298.4 L246.8 298.4 L247.3 298.4 L247.8 298.4 L248.3 298.4 L248.8 298.5 L249.3 298.5 L249.8 298.5 L250.3 298.5 L250.8 298.4 L251.3 298.4 L251.8 298.4 L252.3 298.4 L252.8 298.3 L253.3 298.2 L253.8 298.1 L254.3 298.0 L254.8 297.9 L255.3 297.9 L255.8 298.0 L256.3 298.0 L256.8 298.0 L257.3 297.9 L257.8 297.8 L258.3 297.8 L258.8 297.8 L259.3 297.9 L259.8 297.9 L260.3 297.9 L260.8 297.9 L261.3 297.9 L261.8 297.9 L262.3 297.8 L262.8 297.8 L263.3 297.8 L263.8 297.9 L264.3 297.9 L264.8 298.0 L265.0 298.0 L265.3 297.9 L265.8 297.8 L266.3 297.7 L266.8 297.6 L267.3 297.6 L267.8 297.7 L268.3 297.7 L268.8 297.7 L269.3 297.6 L269.8 297.5 L270.3 297.5 L270.8 297.4 L271.3 297.5 L271.8 297.5 L272.3 297.5 L272.8 297.5 L273.3 297.4 L273.8 297.3 L274.3 297.2 L274.8 297.2 L275.3 297.1 L275.8 297.0 L276.3 296.9 L276.8 296.8 L277.3 296.7 L277.8 296.7 L278.3 296.6 L278.8 296.5 L279.3 296.4 L279.8 296.4 L280.3 296.3 L280.8 296.3 L281.3 296.3 L281.8 296.2 L282.3 296.1 L282.8 296.1 L283.3 296.1 L283.8 296.2 L284.3 296.1 L284.8 296.0 L285.3 295.9 L285.8 295.8 L286.3 295.8 L286.8 295.8 L287.3 295.8 L287.8 295.8 L288.0 295.8 L288.3 295.8 L288.8 295.7 L289.3 295.6 L289.8 295.6 L290.3 295.4 L290.8 295.2 L291.3 295.0 L291.8 294.8 L292.3 294.7 L292.8 294.5 L293.3 294.5 L293.8 294.4 L294.3 294.3 L294.8 294.2 L295.3 294.0 L295.8 293.8 L296.3 293.5 L296.8 293.3 L297.3 293.1 L297.7 292.9 L297.8 292.9 L298.3 292.4 L298.8 291.9 L299.3 291.2 L299.8 290.3 L300.3 289.5 L300.8 288.6 L301.0 288.2 L301.3 287.5 L301.8 286.2 L302.3 284.6 L302.8 282.5 L303.0 281.4 L303.3 279.3 L303.8 274.2 L304.3 268.0 L304.5 265.5 L304.8 261.3 L305.3 253.4 L305.8 245.9 L306.0 243.5 L306.3 240.2 L306.8 234.7 L307.3 230.3 L307.8 228.5 L308.3 230.5 L308.8 235.1 L309.3 240.2 L309.8 245.6 L310.3 251.6 L310.8 256.5 L310.9 257.2 L311.3 259.7 L311.8 262.3 L312.3 264.6 L312.8 266.4 L313.0 267.1 L313.3 268.0 L313.8 269.6 L314.3 271.0 L314.8 272.1 L315.3 272.7 L315.7 272.9 L315.8 272.9 L316.3 272.3 L316.8 271.3 L317.3 270.0 L317.8 268.7 L318.0 268.2 L318.3 267.4 L318.8 265.9 L319.3 264.0 L319.8 262.1 L320.3 260.1 L320.8 258.1 L321.3 256.2 L321.7 254.7 L321.8 254.4 L322.3 252.5 L322.8 250.6 L323.3 248.8 L323.8 246.9 L324.0 246.2 L324.3 245.0 L324.8 243.2 L325.3 241.1 L325.8 239.0 L326.3 236.6 L326.5 235.6 L326.8 233.9 L327.3 230.9 L327.8 227.5 L328.0 226.1 L328.3 223.7 L328.8 219.3 L329.2 216.2 L329.3 215.5 L329.8 212.1 L330.1 211.2 L330.3 211.6 L330.8 214.6 L331.0 216.1 L331.3 219.3 L331.8 225.9 L332.0 228.1 L332.3 230.6 L332.8 234.3 L333.3 237.4 L333.7 239.4 L333.8 239.9 L334.3 241.4 L334.8 242.8 L335.0 243.5 L335.3 244.6 L335.8 246.6 L336.1 247.9 L336.3 248.8 L336.8 251.1 L337.3 253.3 L337.8 255.8 L338.3 257.7 L338.5 257.9 L338.8 257.3 L339.3 254.7 L339.8 252.0 L340.3 250.0 L340.8 248.1 L341.3 247.1 L341.4 247.1 L341.8 248.5 L342.3 253.0 L342.6 256.2 L342.8 258.9 L343.3 268.6 L343.8 276.3 L344.3 279.8 L344.8 282.3 L345.2 283.9 L345.3 284.3 L345.8 286.1 L346.3 287.7 L346.8 288.9 L347.0 289.3 L347.3 289.9 L347.8 290.8 L348.3 291.5 L348.8 292.2 L349.3 292.9 L349.8 293.4 L350.0 293.6 L350.3 293.9 L350.8 294.3 L351.3 294.6 L351.8 294.9 L352.3 295.3 L352.8 295.6 L353.0 295.7 L353.3 295.9 L353.8 296.2 L354.3 296.4 L354.8 296.5 L355.3 296.7 L355.8 296.9 L356.3 297.1 L356.8 297.3 L357.3 297.5 L357.8 297.8 L358.3 298.0 L358.8 298.2 L359.3 298.4 L359.8 298.5 L360.0 298.4 L360.3 298.4 L360.8 298.4 L361.3 298.3 L361.8 298.2 L362.3 298.2 L362.8 298.3 L363.3 298.3 L363.8 298.4 L364.3 298.3 L364.8 298.2 L365.3 298.2 L365.8 298.2 L366.3 298.3 L366.8 298.4 L367.3 298.5 L367.8 298.5 L368.3 298.6 L368.8 298.6 L369.3 298.8 L369.8 298.9 L370.0 298.9 L370.3 298.9 L370.8 298.9 L371.3 298.9 L371.8 298.9 L372.3 298.9 L372.8 298.9 L373.3 298.9 L373.8 298.9 L374.3 298.8 L374.8 298.8 L375.3 298.8 L375.8 298.9 L376.3 298.8 L376.8 298.8 L377.3 298.7 L377.8 298.7 L378.3 298.7 L378.8 298.6 L379.3 298.7 L379.8 298.8 L380.3 299.0 L380.8 299.2 L381.3 299.3 L381.8 299.3 L382.3 299.2 L382.8 299.0 L383.3 299.0 L383.8 299.0 L384.3 299.0 L384.8 299.1 L385.3 299.1 L385.8 299.1 L386.3 299.1 L386.8 299.1 L387.3 299.2 L387.8 299.2 L388.3 299.3 L388.8 299.3 L389.3 299.3 L389.8 299.2 L390.3 299.2 L390.8 299.1 L391.3 299.2 L391.8 299.2 L392.3 299.2 L392.8 299.2 L393.3 299.1 L393.8 299.0 L394.3 299.0 L394.8 299.0 L395.3 299.0 L395.8 299.0 L396.3 299.0 L396.8 299.0 L397.3 299.1 L397.8 299.2 L398.3 299.2 L398.8 299.2 L399.3 299.1 L399.8 299.0 L400.0 299.0 L400.3 299.0 L400.8 299.0 L401.3 299.0 L401.8 299.0 L402.3 299.0 L402.8 299.1 L403.3 299.2 L403.8 299.3 L404.3 299.4 L404.8 299.5 L405.3 299.5 L405.8 299.6 L406.3 299.4 L406.8 299.3 L407.3 299.2 L407.8 299.1 L408.3 299.1 L408.8 299.1 L409.3 299.2 L409.8 299.2 L410.3 299.3 L410.8 299.4 L411.3 299.3 L411.8 299.3 L412.3 299.3 L412.8 299.2 L413.3 299.2 L413.8 299.2 L414.3 299.2 L414.8 299.2 L415.3 299.1 L415.8 299.0 L416.3 298.9 L416.8 298.8 L417.3 298.8 L417.8 298.8 L418.3 299.0 L418.8 299.1 L419.3 299.3 L419.8 299.4 L420.3 299.4 L420.8 299.5 L421.3 299.4 L421.8 299.4 L422.3 299.3 L422.8 299.2 L423.3 299.1 L423.8 299.0 L424.3 299.0 L424.8 299.0 L425.3 299.1 L425.8 299.1 L426.3 299.2 L426.8 299.2 L427.3 299.2 L427.8 299.2 L428.3 299.1 L428.8 299.1 L429.3 299.1 L429.8 299.1 L430.3 299.3 L430.8 299.4 L431.3 299.4 L431.8 299.5 L432.3 299.3 L432.8 299.2 L433.3 299.1 L433.8 299.1 L434.3 299.1 L434.8 299.2 L435.3 299.2 L435.8 299.2 L436.3 299.2 L436.8 299.2 L437.3 299.1 L437.8 299.1 L438.3 299.1 L438.8 299.1 L439.3 299.0 L439.8 299.0 L440.3 298.9 L440.8 298.9 L441.3 298.9 L441.8 299.0 L442.3 298.9 L442.8 298.9 L443.3 298.9 L443.8 298.8 L444.3 298.9 L444.8 299.0 L445.3 299.1 L445.8 299.1 L446.3 299.1 L446.8 299.1 L447.3 299.1 L447.8 299.0 L448.0 299.0 L448.3 299.1 L448.8 299.1 L449.3 299.1 L449.8 299.1 L450.3 299.0 L450.8 299.0 L451.3 298.9 L451.8 298.8 L452.3 298.7 L452.8 298.6 L453.3 298.6 L453.8 298.5 L454.3 298.5 L454.8 298.5 L455.3 298.5 L455.8 298.5 L456.3 298.6 L456.8 298.6 L457.3 298.6 L457.8 298.5 L458.3 298.4 L458.8 298.2 L459.3 298.2 L459.8 298.1 L460.3 298.1 L460.8 298.1 L461.3 298.1 L461.8 298.0 L462.3 298.0 L462.8 298.0 L463.3 297.9 L463.8 297.9 L464.3 297.8 L464.8 297.8 L465.0 297.8 L465.3 297.8 L465.8 297.9 L466.3 297.8 L466.8 297.8 L467.3 297.7 L467.8 297.6 L468.3 297.6 L468.8 297.5 L469.3 297.5 L469.8 297.4 L470.3 297.3 L470.8 297.3 L471.3 297.2 L471.8 297.2 L472.3 297.2 L472.8 297.1 L473.3 297.2 L473.8 297.2 L474.3 297.2 L474.8 297.2 L475.3 297.3 L475.8 297.3 L476.3 297.2 L476.8 297.2 L477.3 297.1 L477.8 297.0 L478.3 297.0 L478.8 297.1 L479.3 297.0 L479.8 297.0 L480.3 296.9 L480.8 296.8 L481.3 296.6 L481.8 296.5 L482.3 296.6 L482.8 296.6 L483.3 296.7 L483.8 296.8 L484.3 296.8 L484.8 296.8 L485.3 296.8 L485.8 296.8 L486.3 296.8 L486.8 296.9 L487.3 296.9 L487.8 297.0 L488.3 297.0 L488.8 297.1 L489.3 297.1 L489.8 297.1 L490.0 297.1 L490.3 297.0 L490.8 297.0 L491.3 297.0 L491.8 297.0 L492.3 297.0 L492.8 297.0 L493.3 297.0 L493.8 296.9 L494.3 296.9 L494.8 297.0 L495.3 297.1 L495.8 297.2 L496.3 297.3 L496.8 297.3 L497.3 297.4 L497.8 297.4 L498.3 297.4 L498.8 297.3 L499.3 297.3 L499.8 297.2 L500.3 297.3 L500.8 297.4 L501.3 297.4 L501.8 297.4 L502.3 297.3 L502.8 297.2 L503.3 297.1 L503.8 297.1 L504.3 296.9 L504.8 296.8 L505.3 296.5 L505.8 296.3 L506.0 296.2 L506.3 296.1 L506.8 295.9 L507.3 295.7 L507.8 295.5 L508.3 295.2 L508.8 295.0 L509.3 294.9 L509.8 294.8 L510.3 294.6 L510.8 294.5 L511.3 294.4 L511.8 294.3 L512.0 294.2 L512.3 294.2 L512.8 294.1 L513.3 294.1 L513.8 294.2 L514.3 294.3 L514.8 294.4 L515.3 294.3 L515.4 294.3 L515.8 294.2 L516.3 293.7 L516.8 293.2 L517.3 292.7 L517.5 292.5 L517.8 292.3 L518.3 291.6 L518.8 291.0 L519.3 290.6 L519.7 290.5 L519.8 290.5 L520.3 290.6 L520.8 291.0 L521.3 291.4 L521.8 291.9 L522.0 292.1 L522.3 292.5 L522.8 293.3 L523.3 294.1 L523.8 294.8 L524.0 294.9 L524.3 295.1 L524.8 295.4 L525.3 295.5 L525.8 295.6 L526.2 295.6 L526.3 295.6 L526.8 295.5 L527.3 295.4 L527.8 295.2 L528.3 295.0 L528.8 294.8 L529.0 294.7 L529.3 294.4 L529.8 293.7 L530.3 292.9 L530.8 291.8 L531.3 290.7 L531.5 290.2 L531.8 289.3 L532.3 287.0 L532.8 284.9 L533.0 284.3 L533.3 283.5 L533.8 282.3 L534.3 281.5 L534.6 281.4 L534.8 281.4 L535.3 281.5 L535.8 281.6 L536.3 281.6 L536.8 281.6 L537.0 281.5 L537.3 281.7 L537.8 282.9 L538.3 284.5 L538.5 285.1 L538.8 286.1 L539.3 288.4 L539.8 290.6 L540.3 292.3 L540.6 292.6 L540.8 292.5 L541.3 291.3 L541.8 289.4 L542.0 288.6 L542.3 287.1 L542.8 283.8 L543.3 280.5 L543.5 279.4 L543.8 277.7 L544.3 275.1 L544.7 274.3 L544.8 274.4 L545.3 275.9 L545.8 278.4 L546.0 279.4 L546.3 281.1 L546.8 284.4 L547.3 287.5 L547.5 288.5 L547.8 289.7 L548.3 291.6 L548.8 293.3 L549.3 294.7 L549.8 295.6 L550.2 295.8 L550.3 295.7 L550.8 295.5 L551.3 295.1 L551.8 294.6 L552.3 294.1 L552.5 293.9 L552.8 293.5 L553.3 292.7 L553.8 291.7 L554.3 290.6 L554.8 289.3 L555.0 288.9 L555.3 288.1 L555.8 286.6 L556.3 285.0 L556.5 284.2 L556.8 282.9 L557.3 280.0 L557.8 277.2 L558.0 276.3 L558.3 274.9 L558.8 272.7 L559.3 271.7 L559.8 272.7 L560.3 274.9 L560.6 276.2 L560.8 277.1 L561.3 279.8 L561.8 282.5 L562.0 283.3 L562.3 284.5 L562.8 286.3 L563.3 287.3 L563.4 287.4 L563.8 286.6 L564.3 284.6 L564.6 283.3 L564.8 282.5 L565.3 280.0 L565.8 278.7 L566.3 279.4 L566.8 281.0 L567.2 282.3 L567.3 282.6 L567.8 284.5 L568.3 286.6 L568.8 288.4 L569.0 289.1 L569.3 289.9 L569.8 291.3 L570.3 292.6 L570.8 293.5 L571.1 293.6 L571.3 293.6 L571.8 292.9 L572.3 291.7 L572.5 291.2 L572.8 290.3 L573.3 288.0 L573.8 285.8 L574.0 285.1 L574.3 284.3 L574.8 282.9 L575.3 282.1 L575.5 282.0 L575.8 282.1 L576.3 283.1 L576.8 284.4 L577.0 285.0 L577.3 286.0 L577.8 288.3 L578.3 290.7 L578.8 292.6 L579.0 293.1 L579.3 293.7 L579.8 294.5 L580.3 295.1 L580.8 295.6 L581.0 295.7 L581.3 295.9 L581.8 296.3 L582.3 296.7 L582.8 297.0 L583.3 297.3 L583.8 297.5 L584.3 297.6 L584.8 297.7 L585.3 297.8 L585.8 297.9 L586.3 297.8 L586.8 297.4 L587.3 296.8 L587.8 296.3 L588.0 296.1 L588.3 295.8 L588.8 295.2 L589.3 294.7 L589.8 294.4 L590.1 294.4 L590.3 294.5 L590.8 294.7 L591.3 294.8 L591.8 294.9 L592.0 294.9 L592.3 294.8 L592.8 294.2 L593.3 293.6 L593.5 293.3 L593.8 293.0 L594.3 292.4 L594.8 291.6 L595.3 290.8 L595.4 290.7 L595.8 289.8 L596.3 288.5 L596.8 287.1 L597.2 286.2 L597.3 285.9 L597.8 284.7 L598.3 283.6 L598.8 282.9 L599.0 282.9 L599.3 283.1 L599.8 284.3 L600.3 285.9 L600.7 287.2 L600.8 287.5 L601.3 289.6 L601.8 291.8 L602.3 293.4 L602.6 293.7 L602.8 293.6 L603.3 293.1 L603.8 292.3 L604.3 291.4 L604.5 291.2 L604.8 290.7 L605.3 289.9 L605.8 289.2 L606.3 288.9 L606.8 289.5 L607.3 290.7 L607.8 291.8 L608.2 292.1 L608.3 292.1 L608.8 291.0 L609.3 289.3 L609.6 288.2 L609.8 287.4 L610.3 285.0 L610.8 282.5 L611.0 281.7 L611.3 280.6 L611.8 278.9 L612.3 277.6 L612.8 276.5 L613.3 275.9 L613.5 275.8 L613.8 275.9 L614.3 275.8 L614.8 275.7 L615.3 275.5 L615.8 275.4 L615.9 275.4 L616.3 276.6 L616.8 280.0 L617.3 285.6 L617.6 289.1 L617.8 291.2 L618.3 294.9 L618.8 295.7 L619.3 296.3 L619.8 296.6 L620.3 297.0 L620.5 297.1 L620.8 297.4 L621.3 297.7 L621.8 298.0 L622.3 298.3 L622.8 298.5 L623.3 298.5 L623.8 298.5 L624.3 298.5 L624.8 298.4 L625.3 298.4 L625.8 298.4 L626.3 298.4 L626.8 298.5 L627.3 298.5 L627.8 298.6 L628.3 298.5 L628.8 298.5 L629.3 298.4 L629.8 298.4 L630.3 298.4 L630.8 298.4 L631.3 298.5 L631.8 298.6 L632.3 298.6 L632.8 298.6 L633.3 298.5 L633.8 298.5 L634.3 298.5 L634.8 298.6 L635.3 298.6 L635.8 298.7 L636.3 298.7 L636.8 298.8 L637.3 298.7 L637.8 298.6 L638.3 298.5 L638.8 298.3 L639.3 298.3 L639.8 298.3 L640.0 298.3 L640.3 298.4 L640.8 298.6 L641.3 298.6 L641.8 298.6 L642.3 298.5 L642.8 298.4 L643.3 298.3 L643.8 298.3 L644.3 298.3 L644.8 298.4 L645.3 298.5 L645.8 298.6 L646.3 298.6 L646.8 298.6 L647.3 298.5 L647.8 298.4 L648.3 298.3 L648.8 298.2 L649.3 298.2 L649.8 298.1 L650.3 298.0 L650.8 297.9 L651.3 297.8 L651.8 297.7 L651.9 297.7 L652.3 297.7 L652.8 297.5 L653.3 297.1 L653.8 296.7 L654.3 296.1 L654.5 295.8 L654.8 295.3 L655.3 294.1 L655.8 292.6 L656.3 291.0 L656.5 290.3 L656.8 289.1 L657.3 286.6 L657.8 284.2 L658.0 283.3 L658.3 282.0 L658.8 279.7 L659.3 278.4 L659.4 278.4 L659.8 278.7 L660.3 280.1 L660.8 281.9 L661.3 284.3 L661.8 287.3 L662.3 290.0 L662.8 292.4 L663.3 294.6 L663.8 296.0 L663.9 296.1 L664.3 296.5 L664.8 296.9 L665.3 297.1 L665.8 297.3 L666.3 297.4 L666.8 297.4 L667.0 297.4 L667.3 297.5 L667.8 297.5 L668.3 297.5 L668.8 297.5 L669.3 297.4 L669.8 297.3 L670.0 297.3 L670.3 297.1 L670.8 296.9 L671.3 296.7 L671.8 296.4 L672.3 296.1 L672.8 295.9 L673.3 295.6 L673.8 295.5 L674.0 295.4 L674.3 295.4 L674.8 295.4 L675.3 295.7 L675.8 296.0 L676.3 296.4 L676.8 296.8 L677.0 296.9 L677.3 297.0 L677.8 297.1 L678.3 297.1 L678.8 297.1 L679.3 297.2 L679.6 297.1 L679.8 297.1 L680.3 297.1 L680.8 297.0 L681.3 296.9 L681.8 296.9 L682.3 296.8 L682.5 296.8 L682.8 296.8 L683.3 296.6 L683.8 296.5 L684.3 296.4 L684.8 296.2 L685.1 296.2 L685.3 296.1 L685.8 296.1 L686.3 296.2 L686.8 296.3 L687.3 296.5 L687.8 296.8 L688.0 296.9 L688.3 297.0 L688.8 297.4 L689.3 297.7 L689.8 298.1 L690.3 298.3 L690.8 298.6 L691.0 298.7 L691.3 298.8 L691.8 299.0 L692.3 299.2 L692.8 299.4 L693.3 299.6 L693.8 299.7 L694.0 299.7 L694.3 299.8 L694.8 299.8 L695.3 299.9 L695.8 299.8 L696.3 299.7 L696.8 299.6 L697.3 299.5 L697.8 299.4 L698.0 299.4 L698.3 299.3 L698.8 299.3 L699.3 299.1 L699.8 299.0 L700.3 298.8 L700.8 298.6 L701.3 298.6 L701.8 298.5 L702.3 298.5 L702.4 298.5 L702.8 298.5 L703.3 298.5 L703.8 298.5 L704.3 298.4 L704.8 298.3 L705.3 298.4 L705.8 298.4 L706.3 298.5 L706.8 298.5 L707.3 298.6 L707.8 298.7 L708.3 298.7 L708.8 298.7 L709.3 298.7 L709.8 298.6 L710.0 298.6 L710.3 298.6 L710.8 298.5 L711.3 298.4 L711.8 298.3 L712.3 298.3 L712.8 298.3 L713.3 298.3 L713.8 298.3 L714.3 298.3 L714.8 298.3 L715.3 298.2 L715.8 298.1 L716.3 298.1 L716.8 298.1 L717.3 298.0 L717.8 297.8 L718.0 297.8 L718.3 297.7 L718.8 297.6 L719.3 297.6 L719.8 297.5 L720.3 297.4 L720.8 297.2 L721.3 297.1 L721.8 297.0 L722.3 296.9 L722.8 296.8 L723.0 296.8 L723.3 296.7 L723.8 296.6 L724.3 296.4 L724.8 296.2 L725.3 296.0 L725.8 295.8 L726.3 295.6 L726.8 295.5 L727.3 295.2 L727.6 295.1 L727.8 295.0 L728.3 294.6 L728.8 294.2 L729.3 293.8 L729.8 293.4 L730.3 293.0 L730.8 292.7 L731.0 292.5 L731.3 292.2 L731.8 291.7 L732.3 291.0 L732.8 290.3 L733.3 289.6 L733.8 288.8 L734.3 288.2 L734.8 287.5 L735.3 286.7 L735.8 285.8 L736.3 285.0 L736.8 284.0 L737.3 282.9 L737.8 281.7 L738.0 281.2 L738.3 280.4 L738.8 278.9 L739.3 277.4 L739.8 275.7 L740.3 273.9 L740.8 272.2 L741.3 270.3 L741.8 268.5 L742.3 266.7 L742.8 264.9 L743.3 263.1 L743.8 261.2 L744.0 260.4 L744.3 259.2 L744.8 257.0 L745.3 254.8 L745.8 252.5 L746.3 250.3 L746.4 249.8" fill="none" stroke="#000" stroke-width="1.6" stroke-linejoin="round" stroke-linecap="butt"/>
<path d="M74.8 412.6 L75.3 412.5 L75.8 412.4 L76.3 412.5 L76.8 412.6 L77.3 412.7 L77.8 412.8 L78.3 412.8 L78.8 412.8 L79.3 412.9 L79.8 412.9 L80.3 412.9 L80.8 412.9 L81.3 412.8 L81.8 412.7 L82.3 412.7 L82.8 412.7 L83.3 412.7 L83.8 412.7 L84.3 412.7 L84.8 412.8 L85.3 412.9 L85.8 413.0 L86.3 413.1 L86.8 413.1 L87.3 413.1 L87.8 413.0 L88.3 413.1 L88.8 413.1 L89.3 413.3 L89.8 413.4 L90.0 413.4 L90.3 413.4 L90.8 413.5 L91.3 413.4 L91.8 413.4 L92.3 413.4 L92.8 413.4 L93.3 413.5 L93.8 413.6 L94.3 413.6 L94.8 413.6 L95.3 413.7 L95.8 413.7 L96.3 413.7 L96.8 413.7 L97.3 413.7 L97.8 413.7 L98.3 413.8 L98.8 413.9 L99.3 413.9 L99.8 413.9 L100.3 413.9 L100.8 413.9 L101.3 413.9 L101.8 414.0 L102.3 414.1 L102.8 414.2 L103.3 414.1 L103.8 414.1 L104.3 414.0 L104.8 413.9 L105.3 414.0 L105.8 414.1 L106.3 414.2 L106.8 414.4 L107.3 414.4 L107.8 414.5 L108.3 414.5 L108.8 414.5 L109.3 414.5 L109.8 414.5 L110.3 414.5 L110.8 414.5 L111.3 414.6 L111.8 414.7 L112.3 414.7 L112.8 414.7 L113.3 414.7 L113.8 414.6 L114.3 414.7 L114.8 414.8 L115.3 414.8 L115.8 414.7 L116.3 414.7 L116.8 414.7 L117.3 414.7 L117.8 414.7 L118.0 414.7 L118.3 414.8 L118.8 414.9 L119.3 415.0 L119.8 415.1 L120.3 415.0 L120.8 414.9 L121.3 414.9 L121.8 414.9 L122.3 414.9 L122.8 414.9 L123.3 414.9 L123.8 414.8 L124.3 414.8 L124.8 414.8 L125.3 414.9 L125.8 415.0 L126.3 415.2 L126.8 415.3 L127.3 415.3 L127.8 415.2 L128.3 415.1 L128.8 415.0 L129.3 415.1 L129.8 415.2 L130.3 415.3 L130.8 415.4 L131.3 415.3 L131.8 415.2 L132.3 415.2 L132.8 415.2 L133.3 415.3 L133.8 415.4 L134.3 415.5 L134.8 415.5 L135.3 415.5 L135.8 415.5 L136.3 415.5 L136.8 415.4 L137.3 415.4 L137.8 415.3 L138.3 415.3 L138.8 415.2 L139.3 415.3 L139.8 415.3 L140.3 415.4 L140.8 415.5 L141.3 415.5 L141.8 415.5 L142.0 415.4 L142.3 415.4 L142.8 415.3 L143.3 415.2 L143.8 415.2 L144.3 415.2 L144.8 415.3 L145.3 415.3 L145.8 415.4 L146.3 415.4 L146.8 415.4 L147.3 415.3 L147.8 415.3 L148.3 415.3 L148.8 415.4 L149.3 415.5 L149.8 415.5 L150.3 415.5 L150.8 415.5 L151.3 415.3 L151.8 415.1 L152.3 414.9 L152.8 414.7 L153.3 414.8 L153.8 414.9 L154.3 415.0 L154.8 415.1 L155.0 415.1 L155.3 415.0 L155.8 415.0 L156.3 414.9 L156.8 414.7 L157.3 414.6 L157.8 414.5 L158.3 414.4 L158.8 414.3 L159.3 414.2 L159.8 414.1 L160.3 414.1 L160.8 414.0 L161.3 414.0 L161.8 414.0 L162.0 414.0 L162.3 414.0 L162.8 413.9 L163.3 413.9 L163.8 413.8 L164.3 413.7 L164.8 413.7 L165.0 413.6 L165.3 413.6 L165.8 413.5 L166.3 413.5 L166.8 413.5 L167.3 413.5 L167.8 413.5 L168.0 413.6 L168.3 413.7 L168.8 413.9 L169.3 414.2 L169.8 414.5 L170.3 414.8 L170.8 415.0 L171.3 415.1 L171.8 415.2 L172.0 415.2 L172.3 415.2 L172.8 415.3 L173.3 415.2 L173.8 415.1 L174.3 415.1 L174.8 415.1 L175.3 415.2 L175.8 415.3 L176.3 415.3 L176.8 415.4 L177.3 415.4 L177.8 415.5 L178.0 415.5 L178.3 415.6 L178.8 415.6 L179.3 415.6 L179.8 415.5 L180.3 415.5 L180.8 415.5 L181.3 415.5 L181.8 415.5 L182.3 415.4 L182.8 415.3 L183.3 415.2 L183.8 415.2 L184.3 415.3 L184.8 415.3 L185.3 415.4 L185.8 415.4 L186.3 415.5 L186.8 415.6 L187.3 415.6 L187.8 415.6 L188.3 415.6 L188.8 415.6 L189.3 415.6 L189.8 415.6 L190.3 415.5 L190.8 415.4 L191.3 415.4 L191.8 415.3 L192.3 415.3 L192.8 415.4 L193.3 415.3 L193.8 415.3 L194.3 415.3 L194.8 415.3 L195.3 415.3 L195.8 415.3 L196.3 415.3 L196.8 415.3 L197.3 415.3 L197.8 415.4 L198.3 415.4 L198.8 415.4 L199.3 415.4 L199.8 415.4 L200.0 415.3 L200.3 415.3 L200.8 415.3 L201.3 415.3 L201.8 415.2 L202.3 415.3 L202.8 415.3 L203.3 415.3 L203.8 415.2 L204.3 415.2 L204.8 415.2 L205.3 415.2 L205.8 415.2 L206.3 415.2 L206.8 415.3 L207.3 415.2 L207.8 415.2 L208.3 415.2 L208.8 415.2 L209.3 415.2 L209.8 415.1 L210.3 415.0 L210.8 414.9 L211.3 414.8 L211.8 414.8 L212.3 414.7 L212.8 414.7 L213.3 414.7 L213.8 414.7 L214.0 414.7 L214.3 414.7 L214.8 414.7 L215.3 414.6 L215.8 414.6 L216.3 414.4 L216.8 414.3 L217.3 414.1 L217.8 414.0 L218.3 413.8 L218.8 413.6 L219.3 413.4 L219.8 413.2 L220.3 413.1 L220.8 412.9 L221.3 412.8 L221.8 412.6 L222.0 412.5 L222.3 412.4 L222.8 412.2 L223.3 411.9 L223.8 411.6 L224.3 411.5 L224.8 411.3 L225.3 411.1 L225.8 410.9 L226.3 410.7 L226.8 410.5 L227.3 410.2 L227.8 410.0 L228.3 409.7 L228.8 409.3 L229.3 408.9 L229.8 408.5 L230.3 408.2 L230.8 407.8 L231.0 407.8 L231.3 407.7 L231.8 407.5 L232.3 407.3 L232.8 407.1 L233.3 406.7 L233.8 406.3 L234.3 406.0 L234.8 405.6 L235.3 405.3 L235.8 405.0 L236.3 404.7 L236.8 404.4 L237.3 404.1 L237.8 403.8 L238.3 403.5 L238.8 403.2 L239.3 402.8 L239.8 402.5 L240.0 402.3 L240.3 402.0 L240.8 401.5 L241.3 401.0 L241.8 400.5 L242.3 400.0 L242.8 399.6 L243.3 399.1 L243.8 398.6 L244.3 398.2 L244.8 397.8 L245.3 397.4 L245.8 397.1 L246.0 397.0 L246.3 396.8 L246.8 396.5 L247.3 396.3 L247.8 396.0 L248.3 395.8 L248.8 395.6 L249.3 395.4 L249.8 395.2 L250.3 395.0 L250.8 394.7 L251.3 394.6 L251.8 394.4 L252.3 394.4 L252.8 394.3 L253.2 394.2 L253.3 394.2 L253.8 394.1 L254.3 394.1 L254.8 394.0 L255.3 394.2 L255.8 394.3 L256.3 394.4 L256.8 394.6 L257.3 394.6 L257.8 394.7 L258.3 394.9 L258.8 395.0 L259.3 395.2 L259.8 395.4 L260.0 395.4 L260.3 395.5 L260.8 395.7 L261.3 395.9 L261.8 396.2 L262.3 396.4 L262.8 396.6 L263.3 396.9 L263.8 397.3 L264.3 397.6 L264.8 398.0 L265.3 398.2 L265.8 398.3 L266.0 398.4 L266.3 398.5 L266.8 398.7 L267.3 399.0 L267.8 399.3 L268.3 399.6 L268.8 399.9 L269.3 400.1 L269.8 400.3 L270.3 400.6 L270.8 400.8 L271.3 401.1 L271.8 401.4 L272.3 401.7 L272.8 401.9 L273.3 402.2 L273.6 402.3 L273.8 402.4 L274.3 402.5 L274.8 402.7 L275.3 402.9 L275.8 403.1 L276.3 403.3 L276.8 403.5 L277.3 403.7 L277.8 403.9 L278.3 404.1 L278.8 404.2 L279.3 404.4 L279.8 404.6 L280.3 404.8 L280.8 405.1 L281.3 405.3 L281.8 405.4 L282.0 405.5 L282.3 405.6 L282.8 405.9 L283.3 406.2 L283.8 406.5 L284.3 406.7 L284.8 406.9 L285.3 407.0 L285.8 407.2 L286.3 407.5 L286.8 407.7 L287.3 408.0 L287.8 408.2 L288.3 408.4 L288.8 408.6 L289.3 408.6 L289.8 408.7 L290.3 408.7 L290.5 408.6 L290.8 408.6 L291.3 408.4 L291.8 408.2 L292.3 408.1 L292.8 407.9 L293.3 407.7 L293.8 407.6 L294.3 407.4 L294.8 407.2 L295.3 406.9 L295.8 406.6 L296.0 406.5 L296.3 406.3 L296.8 405.9 L297.3 405.5 L297.8 405.1 L298.3 404.6 L298.8 403.9 L299.3 403.1 L299.8 402.3 L300.0 402.0 L300.3 401.3 L300.8 399.9 L301.3 398.1 L301.8 396.0 L302.0 395.1 L302.3 393.7 L302.8 391.1 L303.3 387.8 L303.7 384.4 L303.8 383.3 L304.3 375.7 L304.7 368.3 L304.8 366.3 L305.3 354.9 L305.6 348.3 L305.8 344.2 L306.3 334.0 L306.8 326.2 L307.3 320.6 L307.8 316.8 L308.0 316.3 L308.3 317.4 L308.8 322.7 L309.2 328.0 L309.3 329.4 L309.8 339.2 L310.3 350.5 L310.8 359.0 L310.9 360.0 L311.3 363.0 L311.8 365.9 L312.3 368.2 L312.8 370.2 L313.0 370.9 L313.3 372.0 L313.8 373.9 L314.3 375.5 L314.8 376.4 L315.0 376.5 L315.3 376.2 L315.8 375.2 L316.3 373.5 L316.8 371.6 L317.3 369.7 L317.5 368.9 L317.8 367.8 L318.3 365.6 L318.8 363.2 L319.3 360.5 L319.8 358.0 L320.3 355.8 L320.5 355.1 L320.8 354.0 L321.3 352.5 L321.8 351.1 L322.3 349.7 L322.8 348.3 L323.0 347.8 L323.3 347.1 L323.8 345.9 L324.3 344.7 L324.8 343.5 L325.3 342.0 L325.8 340.5 L326.3 338.7 L326.5 337.9 L326.8 336.5 L327.3 333.7 L327.7 331.1 L327.8 330.3 L328.3 325.4 L328.8 319.9 L329.2 316.0 L329.3 315.1 L329.8 310.3 L330.3 306.1 L330.8 304.3 L331.3 305.1 L331.8 307.0 L332.0 307.9 L332.3 309.2 L332.8 312.0 L333.3 315.0 L333.5 316.2 L333.8 317.9 L334.3 320.7 L334.8 323.7 L334.9 324.3 L335.3 327.0 L335.8 330.7 L336.0 332.2 L336.3 334.3 L336.8 337.8 L337.3 341.0 L337.8 344.0 L338.2 346.0 L338.3 346.5 L338.8 348.8 L339.0 349.2 L339.3 348.6 L339.8 346.1 L340.2 344.3 L340.3 344.0 L340.8 342.3 L341.3 341.2 L341.4 341.2 L341.8 343.1 L342.3 348.7 L342.4 350.0 L342.8 357.1 L343.3 369.1 L343.8 379.1 L344.3 385.5 L344.8 390.6 L345.2 393.7 L345.3 394.4 L345.8 397.6 L346.3 400.3 L346.8 402.3 L347.0 402.9 L347.3 403.7 L347.8 404.7 L348.3 405.6 L348.8 406.3 L349.3 407.0 L349.8 407.7 L350.0 407.9 L350.3 408.3 L350.8 408.8 L351.3 409.2 L351.8 409.6 L352.3 410.1 L352.8 410.5 L353.0 410.6 L353.3 410.8 L353.8 411.2 L354.3 411.4 L354.8 411.5 L355.3 411.7 L355.8 411.9 L356.3 412.1 L356.8 412.3 L357.3 412.5 L357.8 412.7 L358.0 412.8 L358.3 413.0 L358.8 413.2 L359.3 413.4 L359.8 413.6 L360.3 413.6 L360.8 413.6 L361.3 413.6 L361.8 413.6 L362.3 413.7 L362.8 413.8 L363.3 413.9 L363.8 414.0 L364.3 414.0 L364.8 413.9 L365.0 413.9 L365.3 413.9 L365.8 414.0 L366.3 414.1 L366.8 414.3 L367.3 414.3 L367.8 414.4 L368.3 414.5 L368.8 414.6 L369.3 414.7 L369.8 414.9 L370.3 414.9 L370.8 414.9 L371.3 414.9 L371.8 414.9 L372.3 414.9 L372.8 414.9 L373.3 414.9 L373.8 414.9 L374.3 414.9 L374.8 414.9 L375.3 414.9 L375.8 415.0 L376.3 414.9 L376.8 414.9 L377.3 414.8 L377.8 414.8 L378.3 414.8 L378.8 414.8 L379.3 414.8 L379.8 414.9 L380.0 415.0 L380.3 415.1 L380.8 415.3 L381.3 415.4 L381.8 415.5 L382.3 415.3 L382.8 415.1 L383.3 415.1 L383.8 415.1 L384.3 415.2 L384.8 415.3 L385.3 415.3 L385.8 415.3 L386.3 415.3 L386.8 415.3 L387.3 415.4 L387.8 415.4 L388.3 415.5 L388.8 415.5 L389.3 415.4 L389.8 415.4 L390.3 415.3 L390.8 415.3 L391.3 415.4 L391.8 415.4 L392.3 415.4 L392.8 415.4 L393.3 415.3 L393.8 415.2 L394.3 415.3 L394.8 415.3 L395.3 415.3 L395.8 415.3 L396.3 415.3 L396.8 415.3 L397.3 415.4 L397.8 415.5 L398.3 415.5 L398.8 415.5 L399.3 415.5 L399.8 415.4 L400.3 415.4 L400.8 415.3 L401.3 415.4 L401.8 415.4 L402.3 415.4 L402.8 415.5 L403.3 415.6 L403.8 415.7 L404.3 415.8 L404.8 416.0 L405.3 416.0 L405.8 416.0 L406.3 415.9 L406.8 415.8 L407.3 415.7 L407.8 415.6 L408.3 415.6 L408.8 415.6 L409.3 415.7 L409.8 415.8 L410.3 415.9 L410.8 415.9 L411.3 415.9 L411.8 415.9 L412.3 415.8 L412.8 415.8 L413.3 415.8 L413.8 415.8 L414.3 415.8 L414.8 415.8 L415.3 415.7 L415.8 415.6 L416.3 415.5 L416.8 415.4 L417.3 415.4 L417.8 415.5 L418.3 415.6 L418.8 415.8 L419.3 415.9 L419.8 416.0 L420.0 416.0 L420.3 416.1 L420.8 416.1 L421.3 416.0 L421.8 416.0 L422.3 415.9 L422.8 415.8 L423.3 415.7 L423.8 415.7 L424.3 415.7 L424.8 415.7 L425.3 415.7 L425.8 415.8 L426.3 415.8 L426.8 415.9 L427.3 415.9 L427.8 415.9 L428.3 415.8 L428.8 415.7 L429.3 415.7 L429.8 415.8 L430.3 415.9 L430.8 416.1 L431.3 416.1 L431.8 416.1 L432.3 416.0 L432.8 415.9 L433.3 415.8 L433.8 415.7 L434.3 415.8 L434.8 415.8 L435.3 415.8 L435.8 415.9 L436.3 415.8 L436.8 415.8 L437.3 415.8 L437.8 415.8 L438.3 415.8 L438.8 415.7 L439.3 415.7 L439.8 415.6 L440.3 415.6 L440.8 415.6 L441.3 415.6 L441.8 415.6 L442.3 415.6 L442.8 415.5 L443.3 415.5 L443.8 415.5 L444.3 415.6 L444.8 415.7 L445.3 415.7 L445.8 415.8 L446.3 415.8 L446.8 415.7 L447.3 415.7 L447.8 415.7 L448.3 415.7 L448.8 415.7 L449.3 415.7 L449.8 415.7 L450.3 415.7 L450.8 415.7 L451.3 415.6 L451.8 415.5 L452.3 415.4 L452.8 415.4 L453.3 415.4 L453.8 415.3 L454.3 415.4 L454.8 415.4 L455.3 415.4 L455.8 415.4 L456.3 415.5 L456.8 415.6 L457.3 415.6 L457.8 415.6 L458.3 415.5 L458.8 415.4 L459.3 415.4 L459.8 415.3 L460.3 415.4 L460.8 415.4 L461.3 415.4 L461.8 415.4 L462.3 415.4 L462.8 415.4 L463.3 415.4 L463.8 415.3 L464.3 415.3 L464.8 415.3 L465.3 415.4 L465.8 415.4 L466.3 415.4 L466.8 415.4 L467.3 415.4 L467.8 415.3 L468.3 415.3 L468.8 415.3 L469.3 415.3 L469.8 415.2 L470.3 415.2 L470.8 415.2 L471.3 415.2 L471.8 415.2 L472.3 415.2 L472.8 415.2 L473.3 415.3 L473.8 415.3 L474.3 415.4 L474.8 415.4 L475.3 415.4 L475.8 415.5 L476.3 415.4 L476.8 415.4 L477.3 415.3 L477.8 415.3 L478.3 415.3 L478.8 415.3 L479.3 415.2 L479.8 415.2 L480.3 415.1 L480.8 414.9 L481.3 414.7 L481.8 414.6 L482.3 414.6 L482.8 414.6 L483.3 414.6 L483.8 414.7 L484.3 414.6 L484.8 414.5 L485.3 414.5 L485.8 414.4 L486.3 414.4 L486.8 414.4 L487.3 414.3 L487.8 414.3 L488.3 414.3 L488.8 414.2 L489.3 414.2 L489.8 414.1 L490.0 414.1 L490.3 414.0 L490.8 413.9 L491.3 413.8 L491.8 413.7 L492.3 413.6 L492.8 413.5 L493.3 413.3 L493.8 413.1 L494.3 413.1 L494.8 413.0 L495.3 412.9 L495.8 412.9 L496.0 412.9 L496.3 412.8 L496.8 412.7 L497.3 412.5 L497.8 412.3 L498.3 412.0 L498.8 411.8 L499.3 411.5 L499.8 411.3 L500.0 411.2 L500.3 411.1 L500.8 411.0 L501.3 410.8 L501.8 410.6 L502.3 410.3 L502.8 410.1 L503.3 410.0 L503.8 410.0 L504.3 410.1 L504.8 410.2 L505.3 410.2 L505.8 410.2 L506.3 410.3 L506.8 410.4 L507.0 410.5 L507.3 410.6 L507.8 410.7 L508.3 410.9 L508.8 411.1 L509.3 411.2 L509.8 411.3 L510.3 411.3 L510.5 411.3 L510.8 411.3 L511.3 411.0 L511.8 410.5 L512.3 410.0 L512.5 409.8 L512.8 409.3 L513.3 408.4 L513.8 407.3 L514.3 406.4 L514.5 406.1 L514.8 405.6 L515.3 404.7 L515.8 403.7 L516.3 403.0 L516.8 402.6 L517.0 402.5 L517.3 402.6 L517.8 403.0 L518.3 403.6 L518.8 404.3 L519.3 405.1 L519.5 405.4 L519.8 405.8 L520.3 406.7 L520.8 407.6 L521.3 408.4 L521.8 409.2 L522.0 409.4 L522.3 409.8 L522.8 410.5 L523.3 411.1 L523.8 411.6 L524.3 411.8 L524.5 411.8 L524.8 411.8 L525.3 411.3 L525.8 410.6 L526.3 409.8 L526.5 409.5 L526.8 408.8 L527.3 407.3 L527.8 405.4 L528.3 403.6 L528.5 403.0 L528.8 402.1 L529.3 400.5 L529.8 398.9 L530.3 397.5 L530.8 396.3 L531.0 395.9 L531.3 395.3 L531.8 394.3 L532.3 393.4 L532.8 393.0 L532.9 393.0 L533.3 393.1 L533.8 393.6 L534.3 394.4 L534.8 395.2 L535.0 395.5 L535.3 396.0 L535.8 396.8 L536.3 397.6 L536.8 398.3 L537.3 399.0 L537.8 399.5 L538.2 399.9 L538.3 400.0 L538.8 400.6 L539.3 401.1 L539.8 401.6 L540.3 402.0 L540.6 402.1 L540.8 402.0 L541.3 401.0 L541.8 399.2 L542.0 398.4 L542.3 396.8 L542.8 393.3 L543.3 389.6 L543.5 388.2 L543.8 386.0 L544.3 382.4 L544.7 381.2 L544.8 381.3 L545.3 383.8 L545.8 387.6 L545.9 388.2 L546.3 391.0 L546.8 394.7 L547.3 398.2 L547.8 400.3 L548.3 401.3 L548.8 402.2 L549.3 402.8 L549.8 403.4 L550.3 403.8 L550.8 404.2 L551.0 404.4 L551.3 404.7 L551.8 405.1 L552.3 405.6 L552.8 406.0 L553.3 406.2 L553.8 406.2 L554.3 406.0 L554.8 405.6 L555.3 405.0 L555.8 404.5 L556.3 403.8 L556.8 402.9 L557.3 401.7 L557.4 401.4 L557.8 399.6 L558.3 396.3 L558.6 394.1 L558.8 392.4 L559.3 387.5 L559.5 386.1 L559.8 384.4 L560.3 382.8 L560.8 383.6 L561.3 385.4 L561.5 386.1 L561.8 387.1 L562.3 388.9 L562.8 390.6 L563.0 391.2 L563.3 391.9 L563.8 393.0 L564.3 394.0 L564.8 395.0 L565.3 395.8 L565.8 396.6 L566.3 397.4 L566.8 398.1 L567.3 398.7 L567.5 398.9 L567.8 399.1 L568.3 399.4 L568.8 399.7 L569.3 399.8 L569.4 399.8 L569.8 399.5 L570.3 398.6 L570.8 397.7 L571.0 397.4 L571.3 397.1 L571.8 396.6 L572.3 396.1 L572.8 395.8 L573.0 395.8 L573.3 395.8 L573.8 396.1 L574.3 396.5 L574.8 396.9 L575.0 397.0 L575.3 397.3 L575.8 397.8 L576.3 398.6 L576.8 399.3 L577.3 400.2 L577.8 401.0 L578.3 401.7 L578.8 402.3 L579.0 402.4 L579.3 402.6 L579.8 402.8 L580.3 403.0 L580.8 403.2 L581.3 403.4 L581.8 403.7 L582.3 404.0 L582.8 404.4 L583.3 404.7 L583.4 404.7 L583.8 405.1 L584.3 405.5 L584.8 405.9 L585.3 406.5 L585.8 407.2 L586.3 407.7 L586.5 408.0 L586.8 408.3 L587.3 408.9 L587.8 409.5 L588.3 410.1 L588.8 410.5 L589.3 410.8 L589.4 410.8 L589.8 410.8 L590.3 410.6 L590.8 410.2 L591.3 409.8 L591.5 409.7 L591.8 409.6 L592.3 409.3 L592.8 409.0 L593.3 408.8 L593.5 408.6 L593.8 408.5 L594.3 408.2 L594.8 407.8 L595.3 407.5 L595.8 407.0 L596.3 406.5 L596.6 406.1 L596.8 405.7 L597.3 404.1 L597.8 402.1 L598.0 401.4 L598.3 400.3 L598.8 398.3 L599.3 396.5 L599.8 395.8 L600.3 396.6 L600.8 398.3 L601.3 400.0 L601.8 401.8 L602.3 404.1 L602.8 406.2 L603.3 407.8 L603.8 408.4 L604.3 408.0 L604.8 407.0 L605.3 405.9 L605.5 405.5 L605.8 404.9 L606.3 403.9 L606.8 403.2 L607.0 403.1 L607.3 403.2 L607.8 403.4 L608.3 403.6 L608.5 403.6 L608.8 403.2 L609.3 401.3 L609.8 398.8 L610.0 397.9 L610.3 396.7 L610.8 394.5 L611.3 392.0 L611.8 389.2 L612.3 385.6 L612.8 382.0 L613.0 381.0 L613.3 379.8 L613.8 378.1 L614.2 377.4 L614.3 377.4 L614.8 377.3 L615.3 377.1 L615.8 377.0 L615.9 377.0 L616.3 379.1 L616.8 384.8 L617.3 394.1 L617.6 399.9 L617.8 403.4 L618.3 409.7 L618.8 410.9 L619.3 411.8 L619.8 412.3 L620.3 412.8 L620.5 412.9 L620.8 413.2 L621.3 413.6 L621.8 414.0 L622.3 414.2 L622.8 414.4 L623.3 414.5 L623.8 414.5 L624.3 414.5 L624.8 414.4 L625.3 414.4 L625.8 414.4 L626.3 414.4 L626.8 414.5 L627.3 414.5 L627.8 414.6 L628.3 414.5 L628.8 414.5 L629.3 414.4 L629.8 414.4 L630.3 414.4 L630.8 414.4 L631.3 414.5 L631.8 414.6 L632.3 414.6 L632.8 414.6 L633.3 414.5 L633.8 414.5 L634.3 414.5 L634.8 414.6 L635.0 414.6 L635.3 414.6 L635.8 414.7 L636.3 414.7 L636.8 414.8 L637.3 414.7 L637.8 414.6 L638.3 414.4 L638.8 414.3 L639.3 414.2 L639.8 414.2 L640.3 414.4 L640.8 414.5 L641.3 414.5 L641.8 414.5 L642.3 414.3 L642.8 414.2 L643.3 414.2 L643.8 414.1 L644.3 414.2 L644.8 414.2 L645.3 414.3 L645.8 414.4 L646.3 414.4 L646.8 414.4 L647.3 414.3 L647.8 414.1 L648.3 414.0 L648.8 413.9 L649.3 413.7 L649.8 413.4 L650.3 413.1 L650.8 412.8 L651.3 412.4 L651.8 412.1 L652.0 412.0 L652.3 411.8 L652.8 411.5 L653.3 411.2 L653.8 410.8 L654.3 410.3 L654.8 409.6 L655.3 408.9 L655.5 408.6 L655.8 408.0 L656.3 406.7 L656.8 405.1 L657.3 403.3 L657.5 402.6 L657.8 401.4 L658.3 398.9 L658.8 396.6 L659.0 395.8 L659.3 394.8 L659.8 393.2 L660.3 392.6 L660.8 393.3 L661.3 394.8 L661.6 395.8 L661.8 396.5 L662.3 398.7 L662.8 401.3 L663.3 403.8 L663.8 405.8 L663.9 406.1 L664.3 407.1 L664.8 408.3 L665.3 409.1 L665.8 409.8 L666.0 410.0 L666.3 410.3 L666.8 410.8 L667.3 411.4 L667.8 411.8 L668.3 412.2 L668.7 412.3 L668.8 412.4 L669.3 412.3 L669.8 412.2 L670.3 412.0 L670.8 411.7 L671.3 411.5 L671.8 411.2 L672.0 411.2 L672.3 411.1 L672.8 410.8 L673.3 410.5 L673.8 410.2 L674.3 409.9 L674.8 409.6 L675.3 409.6 L675.5 409.6 L675.8 409.6 L676.3 409.9 L676.8 410.2 L677.3 410.4 L677.8 410.6 L678.3 410.8 L678.5 410.8 L678.8 410.8 L679.3 411.0 L679.8 411.2 L680.3 411.4 L680.8 411.5 L681.3 411.6 L681.8 411.5 L682.3 411.3 L682.8 411.1 L683.3 410.9 L683.5 410.8 L683.8 410.7 L684.3 410.4 L684.8 410.1 L685.3 409.8 L685.8 409.7 L686.0 409.6 L686.3 409.6 L686.8 409.8 L687.3 410.1 L687.8 410.4 L688.3 410.9 L688.8 411.3 L689.0 411.4 L689.3 411.6 L689.8 412.0 L690.3 412.5 L690.8 412.9 L691.3 413.4 L691.8 413.8 L692.3 414.2 L692.8 414.6 L693.3 414.8 L693.8 415.0 L694.0 415.0 L694.3 415.1 L694.8 415.2 L695.3 415.2 L695.8 415.2 L696.3 415.1 L696.8 415.0 L697.3 415.0 L697.8 414.9 L698.3 414.9 L698.8 414.8 L699.0 414.8 L699.3 414.7 L699.8 414.6 L700.3 414.5 L700.8 414.3 L701.3 414.2 L701.8 414.2 L702.3 414.1 L702.8 414.1 L703.3 414.0 L703.8 414.0 L704.0 413.9 L704.3 413.9 L704.8 413.8 L705.3 413.9 L705.8 413.9 L706.3 414.0 L706.8 414.1 L707.3 414.2 L707.8 414.3 L708.3 414.3 L708.8 414.3 L709.3 414.3 L709.8 414.3 L710.3 414.2 L710.8 414.2 L711.3 414.1 L711.8 414.1 L712.0 414.1 L712.3 414.1 L712.8 414.1 L713.3 414.1 L713.8 414.2 L714.3 414.2 L714.8 414.2 L715.3 414.2 L715.8 414.2 L716.3 414.2 L716.8 414.2 L717.3 414.1 L717.8 414.0 L718.0 414.0 L718.3 414.0 L718.8 413.9 L719.3 413.8 L719.8 413.7 L720.3 413.6 L720.8 413.4 L721.3 413.2 L721.8 413.1 L722.3 413.0 L722.8 412.8 L723.3 412.7 L723.8 412.5 L724.0 412.4 L724.3 412.3 L724.8 412.0 L725.3 411.8 L725.8 411.6 L726.3 411.4 L726.8 411.2 L727.3 410.9 L727.8 410.6 L728.3 410.2 L728.8 409.8 L729.3 409.3 L729.8 408.8 L730.3 408.3 L730.8 407.8 L731.3 407.1 L731.8 406.4 L732.3 405.4 L732.5 405.1 L732.8 404.4 L733.3 403.5 L733.8 402.4 L734.3 401.4 L734.8 400.3 L735.3 399.2 L735.8 398.0 L736.0 397.5 L736.3 396.8 L736.8 395.5 L737.3 394.0 L737.8 392.4 L738.3 390.7 L738.5 390.0 L738.8 388.9 L739.3 387.1 L739.8 385.1 L740.3 383.0 L740.8 381.0 L741.3 378.8 L741.8 376.6 L742.3 374.6 L742.8 372.5 L743.3 370.5 L743.5 369.7 L743.8 368.5 L744.3 366.4 L744.8 364.4 L745.3 362.2 L745.8 360.2 L746.3 358.2 L746.4 357.8" fill="none" stroke="#000" stroke-width="1.6" stroke-linejoin="round" stroke-linecap="butt"/>
<path d="M74.8 527.9 L75.3 527.9 L75.8 527.9 L76.3 527.8 L76.8 527.8 L77.3 527.7 L77.8 527.7 L78.3 527.6 L78.8 527.6 L79.3 527.7 L79.8 527.7 L80.3 527.8 L80.8 527.8 L81.3 527.8 L81.8 527.9 L82.3 527.9 L82.8 527.9 L83.3 528.0 L83.8 528.0 L84.3 528.1 L84.8 528.1 L85.3 528.1 L85.8 528.0 L86.3 528.0 L86.8 528.0 L87.3 528.0 L87.8 528.0 L88.3 528.1 L88.8 528.1 L89.3 528.2 L89.8 528.2 L90.3 528.2 L90.8 528.2 L91.3 528.1 L91.8 528.0 L92.3 528.0 L92.8 527.9 L93.3 527.9 L93.8 527.9 L94.3 527.9 L94.8 527.9 L95.3 527.9 L95.8 527.9 L96.3 527.9 L96.8 527.9 L97.3 527.8 L97.8 527.7 L98.3 527.8 L98.8 527.8 L99.3 528.0 L99.8 528.2 L100.0 528.2 L100.3 528.3 L100.8 528.3 L101.3 528.2 L101.8 528.1 L102.3 528.0 L102.8 527.8 L103.3 527.7 L103.8 527.6 L104.3 527.6 L104.8 527.6 L105.3 527.7 L105.8 527.7 L106.3 527.8 L106.8 527.9 L107.3 527.9 L107.8 527.9 L108.3 527.9 L108.8 527.9 L109.3 527.9 L109.8 527.9 L110.3 527.9 L110.8 528.0 L111.3 528.1 L111.8 528.2 L112.3 528.1 L112.8 528.1 L113.3 528.0 L113.8 527.9 L114.3 528.0 L114.8 528.0 L115.3 527.9 L115.8 527.9 L116.3 527.9 L116.8 527.9 L117.3 528.0 L117.8 528.0 L118.0 528.0 L118.3 527.9 L118.8 527.9 L119.3 527.8 L119.8 527.8 L120.3 527.8 L120.8 527.9 L121.3 528.0 L121.8 528.1 L122.3 528.0 L122.8 528.0 L123.3 527.9 L123.8 527.9 L124.3 527.8 L124.8 527.7 L125.3 527.5 L125.8 527.4 L126.3 527.3 L126.8 527.3 L127.3 527.3 L127.8 527.3 L128.0 527.3 L128.3 527.3 L128.8 527.2 L129.3 527.1 L129.8 527.0 L130.3 526.9 L130.8 526.9 L131.3 526.8 L131.8 526.7 L132.3 526.5 L132.8 526.4 L133.3 526.2 L133.8 526.0 L134.3 525.9 L134.8 525.8 L135.0 525.7 L135.3 525.7 L135.8 525.7 L136.3 525.5 L136.8 525.4 L137.3 525.2 L137.8 525.1 L138.3 525.0 L138.8 524.9 L139.3 524.9 L139.8 524.9 L140.0 524.8 L140.3 524.8 L140.8 524.7 L141.3 524.6 L141.8 524.5 L142.3 524.1 L142.8 523.8 L143.3 523.4 L143.8 522.8 L144.3 522.2 L144.8 521.5 L145.3 520.7 L145.5 520.4 L145.8 520.0 L146.3 519.1 L146.8 518.2 L147.3 517.4 L147.8 516.6 L148.1 516.1 L148.3 515.9 L148.8 515.2 L149.3 514.6 L149.8 514.0 L150.3 513.3 L150.8 512.7 L151.0 512.5 L151.3 512.1 L151.8 511.6 L152.3 511.0 L152.8 510.5 L153.3 510.0 L153.8 509.4 L154.1 509.1 L154.3 508.8 L154.8 508.2 L155.3 507.8 L155.8 507.3 L156.3 506.8 L156.8 506.3 L157.0 506.1 L157.3 505.8 L157.8 505.3 L158.3 504.6 L158.8 503.9 L159.3 503.2 L159.8 502.4 L160.1 501.9 L160.3 501.5 L160.8 500.3 L161.3 498.6 L161.8 496.5 L162.3 494.0 L162.8 490.7 L163.2 487.4 L163.3 486.4 L163.8 479.7 L164.0 476.3 L164.3 469.6 L164.7 460.4 L164.8 458.7 L165.3 449.9 L165.8 444.7 L165.9 444.6 L166.3 450.7 L166.6 458.2 L166.8 462.9 L167.3 475.3 L167.8 486.1 L168.0 489.3 L168.3 493.1 L168.8 497.9 L169.0 499.3 L169.3 501.1 L169.8 503.5 L170.3 505.4 L170.8 507.1 L171.3 508.5 L171.8 509.7 L172.1 510.3 L172.3 510.6 L172.8 511.4 L173.3 512.1 L173.8 512.8 L174.3 513.5 L174.8 514.2 L175.0 514.4 L175.3 514.8 L175.8 515.3 L176.3 515.8 L176.8 516.3 L177.3 516.7 L177.8 517.3 L178.1 517.6 L178.3 517.8 L178.8 518.4 L179.3 519.0 L179.8 519.7 L180.3 520.4 L180.8 521.1 L181.3 521.5 L181.5 521.7 L181.8 522.0 L182.3 522.4 L182.8 522.8 L183.3 523.3 L183.8 523.8 L184.3 524.2 L184.8 524.6 L185.3 524.8 L185.4 524.9 L185.8 525.0 L186.3 525.2 L186.8 525.4 L187.3 525.6 L187.8 525.8 L188.3 526.1 L188.8 526.3 L189.3 526.6 L189.8 526.9 L190.0 526.9 L190.3 527.0 L190.8 527.1 L191.3 527.1 L191.8 527.2 L192.3 527.2 L192.8 527.3 L193.3 527.4 L193.8 527.5 L194.3 527.5 L194.8 527.5 L195.0 527.5 L195.3 527.5 L195.8 527.5 L196.3 527.5 L196.8 527.5 L197.3 527.5 L197.8 527.5 L198.3 527.5 L198.8 527.5 L199.3 527.5 L199.8 527.5 L200.3 527.5 L200.8 527.4 L201.3 527.5 L201.8 527.5 L202.3 527.4 L202.8 527.3 L203.0 527.3 L203.3 527.2 L203.8 527.0 L204.3 527.0 L204.8 526.9 L205.3 526.9 L205.8 526.8 L206.3 526.8 L206.8 526.7 L207.0 526.7 L207.3 526.6 L207.8 526.5 L208.3 526.3 L208.8 526.2 L209.3 526.0 L209.8 525.8 L210.1 525.8 L210.3 525.8 L210.8 525.9 L211.3 526.1 L211.8 526.3 L212.3 526.5 L212.8 526.6 L213.0 526.7 L213.3 526.8 L213.8 527.1 L214.3 527.4 L214.8 527.7 L215.3 527.9 L215.8 528.1 L216.3 528.2 L216.6 528.3 L216.8 528.3 L217.3 528.3 L217.8 528.2 L218.3 528.3 L218.8 528.3 L219.3 528.4 L219.8 528.5 L220.3 528.5 L220.8 528.6 L221.3 528.7 L221.8 528.8 L222.3 528.8 L222.8 528.7 L223.3 528.7 L223.8 528.6 L224.3 528.6 L224.8 528.7 L225.0 528.7 L225.3 528.7 L225.8 528.7 L226.3 528.8 L226.8 528.8 L227.3 528.9 L227.8 529.0 L228.3 528.9 L228.8 528.9 L229.3 528.8 L229.8 528.7 L230.3 528.7 L230.8 528.7 L231.3 528.8 L231.8 528.8 L232.3 528.8 L232.8 528.8 L233.3 528.8 L233.8 528.7 L234.3 528.5 L234.8 528.4 L235.3 528.3 L235.8 528.2 L236.3 528.3 L236.8 528.4 L237.3 528.5 L237.8 528.6 L238.3 528.7 L238.8 528.8 L239.3 528.9 L239.8 529.0 L240.3 529.0 L240.8 529.0 L241.3 528.9 L241.8 528.8 L242.3 528.8 L242.8 528.8 L243.3 528.8 L243.8 528.8 L244.3 528.7 L244.8 528.7 L245.3 528.6 L245.8 528.6 L246.3 528.6 L246.8 528.7 L247.3 528.7 L247.8 528.7 L248.3 528.7 L248.8 528.8 L249.3 528.8 L249.8 528.9 L250.0 528.9 L250.3 528.9 L250.8 528.8 L251.3 528.6 L251.8 528.5 L252.3 528.5 L252.8 528.5 L253.3 528.6 L253.8 528.8 L254.3 528.9 L254.8 529.0 L255.3 528.9 L255.8 528.9 L256.3 528.8 L256.8 528.7 L257.3 528.7 L257.8 528.7 L258.3 528.7 L258.8 528.8 L259.3 528.8 L259.8 528.8 L260.3 528.8 L260.8 528.8 L261.3 528.9 L261.8 528.9 L262.3 528.9 L262.8 528.9 L263.3 528.8 L263.8 528.7 L264.3 528.7 L264.8 528.7 L265.3 528.7 L265.8 528.8 L266.3 528.8 L266.8 528.8 L267.3 528.8 L267.8 528.8 L268.3 528.8 L268.8 528.7 L269.3 528.7 L269.8 528.7 L270.3 528.8 L270.8 528.8 L271.3 528.9 L271.8 528.9 L272.3 528.9 L272.8 528.8 L273.3 528.7 L273.8 528.7 L274.3 528.6 L274.8 528.6 L275.3 528.6 L275.8 528.6 L276.3 528.7 L276.8 528.7 L277.3 528.8 L277.8 528.8 L278.3 528.7 L278.8 528.7 L279.3 528.8 L279.8 528.8 L280.3 528.8 L280.8 528.8 L281.3 528.7 L281.8 528.7 L282.3 528.6 L282.8 528.6 L283.3 528.7 L283.8 528.8 L284.3 528.8 L284.8 528.9 L285.3 528.8 L285.8 528.8 L286.3 528.8 L286.8 528.8 L287.3 528.8 L287.8 528.8 L288.3 528.9 L288.8 528.9 L289.3 528.8 L289.8 528.8 L290.3 528.7 L290.8 528.7 L291.3 528.7 L291.8 528.7 L292.3 528.7 L292.8 528.7 L293.3 528.7 L293.8 528.7 L294.3 528.7 L294.8 528.7 L295.3 528.7 L295.8 528.7 L296.3 528.7 L296.8 528.7 L297.3 528.8 L297.8 528.9 L298.3 528.9 L298.8 528.9 L299.3 528.8 L299.8 528.7 L300.0 528.7 L300.3 528.6 L300.8 528.5 L301.3 528.6 L301.8 528.6 L302.3 528.7 L302.8 528.7 L303.3 528.7 L303.8 528.7 L304.3 528.7 L304.8 528.7 L305.3 528.7 L305.8 528.7 L306.3 528.6 L306.8 528.5 L307.3 528.5 L307.8 528.5 L308.3 528.5 L308.8 528.6 L309.3 528.6 L309.8 528.6 L310.3 528.7 L310.8 528.7 L311.3 528.8 L311.8 528.9 L312.3 528.9 L312.8 528.9 L313.3 528.9 L313.8 528.8 L314.3 528.8 L314.8 528.7 L315.3 528.7 L315.8 528.7 L316.3 528.7 L316.8 528.8 L317.3 528.8 L317.8 528.9 L318.3 528.9 L318.8 528.9 L319.3 528.8 L319.8 528.8 L320.3 528.7 L320.8 528.6 L321.3 528.5 L321.8 528.4 L322.3 528.4 L322.8 528.4 L323.3 528.5 L323.8 528.5 L324.3 528.5 L324.8 528.5 L325.3 528.6 L325.8 528.6 L326.3 528.7 L326.8 528.8 L327.3 528.8 L327.8 528.8 L328.3 528.8 L328.8 528.7 L329.3 528.8 L329.8 528.8 L330.3 528.8 L330.8 528.8 L331.3 528.8 L331.8 528.8 L332.3 528.7 L332.8 528.6 L333.3 528.5 L333.8 528.5 L334.3 528.5 L334.8 528.5 L335.3 528.6 L335.8 528.8 L336.3 528.9 L336.8 529.0 L337.3 528.9 L337.8 528.9 L338.3 528.8 L338.8 528.8 L339.3 528.8 L339.8 528.9 L340.3 528.9 L340.8 528.8 L341.3 528.7 L341.8 528.5 L342.3 528.5 L342.8 528.6 L343.3 528.7 L343.8 528.9 L344.3 528.8 L344.8 528.8 L345.3 528.7 L345.8 528.7 L346.3 528.7 L346.8 528.7 L347.3 528.7 L347.8 528.6 L348.3 528.6 L348.8 528.5 L349.3 528.5 L349.8 528.6 L350.3 528.6 L350.8 528.7 L351.3 528.7 L351.8 528.7 L352.3 528.7 L352.8 528.7 L353.3 528.7 L353.8 528.8 L354.3 528.8 L354.8 528.9 L355.3 528.9 L355.8 528.9 L356.3 528.8 L356.8 528.7 L357.3 528.6 L357.8 528.5 L358.3 528.6 L358.8 528.7 L359.3 528.8 L359.8 528.9 L360.3 528.8 L360.8 528.8 L361.3 528.7 L361.8 528.6 L362.3 528.6 L362.8 528.6 L363.3 528.6 L363.8 528.7 L364.3 528.7 L364.8 528.8 L365.3 528.8 L365.8 528.8 L366.3 528.8 L366.8 528.9 L367.3 528.9 L367.8 528.9 L368.3 528.8 L368.8 528.7 L369.3 528.6 L369.8 528.5 L370.3 528.4 L370.8 528.4 L371.3 528.5 L371.8 528.7 L372.3 528.8 L372.8 528.9 L373.3 528.8 L373.8 528.8 L374.3 528.7 L374.8 528.7 L375.3 528.7 L375.8 528.7 L376.3 528.7 L376.8 528.8 L377.3 528.7 L377.8 528.7 L378.3 528.6 L378.8 528.5 L379.3 528.5 L379.8 528.5 L380.0 528.5 L380.3 528.6 L380.8 528.7 L381.3 528.7 L381.8 528.8 L382.3 528.7 L382.8 528.7 L383.3 528.7 L383.8 528.7 L384.3 528.8 L384.8 528.8 L385.3 528.7 L385.8 528.6 L386.3 528.6 L386.8 528.5 L387.3 528.5 L387.8 528.6 L388.3 528.6 L388.8 528.7 L389.3 528.6 L389.8 528.5 L390.3 528.4 L390.8 528.3 L391.3 528.3 L391.8 528.4 L392.3 528.4 L392.8 528.5 L393.3 528.5 L393.8 528.5 L394.3 528.5 L394.8 528.5 L395.0 528.5 L395.3 528.5 L395.8 528.5 L396.3 528.4 L396.8 528.2 L397.3 528.0 L397.8 527.8 L398.3 527.6 L398.6 527.5 L398.8 527.4 L399.3 527.2 L399.8 526.8 L400.3 526.4 L400.8 525.9 L401.3 525.3 L401.5 525.0 L401.8 524.6 L402.3 523.6 L402.8 522.4 L403.3 521.3 L403.8 520.2 L404.0 519.9 L404.3 519.3 L404.8 518.4 L405.3 517.5 L405.8 516.7 L406.3 516.4 L406.4 516.3 L406.8 516.5 L407.3 517.2 L407.8 518.1 L408.3 519.2 L408.6 519.9 L408.8 520.3 L409.3 521.4 L409.8 522.7 L410.3 523.9 L410.8 524.8 L411.0 525.1 L411.3 525.5 L411.8 526.0 L412.3 526.4 L412.8 526.7 L413.3 527.1 L413.5 527.1 L413.8 527.3 L414.3 527.4 L414.8 527.6 L415.3 527.8 L415.8 527.9 L416.3 528.1 L416.8 528.2 L417.3 528.3 L417.8 528.3 L418.0 528.3 L418.3 528.3 L418.8 528.4 L419.3 528.5 L419.8 528.6 L420.3 528.7 L420.8 528.7 L421.3 528.8 L421.8 528.8 L422.3 528.9 L422.8 528.9 L423.3 528.9 L423.8 528.9 L424.0 528.9 L424.3 528.9 L424.8 528.9 L425.3 528.9 L425.8 529.0 L426.3 529.0 L426.8 529.0 L427.3 528.9 L427.8 528.9 L428.3 528.9 L428.8 529.0 L429.3 529.0 L429.8 529.0 L430.3 529.0 L430.8 528.9 L431.3 528.8 L431.8 528.8 L432.3 528.7 L432.8 528.6 L433.3 528.7 L433.8 528.7 L434.3 528.7 L434.8 528.8 L435.3 528.7 L435.8 528.6 L436.3 528.4 L436.8 528.3 L437.3 528.3 L437.8 528.3 L438.3 528.2 L438.8 528.2 L439.3 528.1 L439.8 528.1 L440.0 528.1 L440.3 528.2 L440.8 528.2 L441.3 528.3 L441.8 528.5 L442.3 528.5 L442.8 528.5 L443.3 528.5 L443.8 528.4 L444.3 528.3 L444.8 528.3 L445.3 528.2 L445.8 528.2 L446.3 528.1 L446.8 528.1 L447.3 528.2 L447.8 528.3 L448.3 528.4 L448.8 528.5 L449.3 528.3 L449.8 528.1 L450.3 527.9 L450.8 527.7 L451.3 527.7 L451.8 527.7 L452.3 527.7 L452.8 527.8 L453.3 527.7 L453.8 527.6 L454.3 527.6 L454.8 527.6 L455.3 527.6 L455.8 527.5 L456.3 527.3 L456.8 527.0 L457.3 526.7 L457.8 526.4 L458.3 526.1 L458.8 525.9 L459.0 525.8 L459.3 525.6 L459.8 525.2 L460.3 524.9 L460.8 524.4 L461.3 524.0 L461.8 523.5 L462.3 523.1 L462.8 522.7 L463.0 522.5 L463.3 522.3 L463.8 521.9 L464.3 521.6 L464.8 521.3 L465.3 521.0 L465.8 520.8 L466.3 520.5 L466.8 520.3 L467.3 520.2 L467.8 520.2 L468.3 520.3 L468.8 520.5 L469.3 520.8 L469.8 521.2 L470.3 521.6 L470.8 522.1 L471.0 522.3 L471.3 522.6 L471.8 523.2 L472.3 523.9 L472.8 524.5 L473.3 525.0 L473.8 525.3 L474.0 525.3 L474.3 525.2 L474.8 524.7 L475.3 523.9 L475.8 523.0 L476.3 522.2 L476.5 522.0 L476.8 521.6 L477.3 520.8 L477.8 520.0 L478.3 519.2 L478.8 518.6 L479.3 518.4 L479.8 518.6 L480.3 518.9 L480.8 519.5 L481.3 520.0 L481.8 520.5 L482.0 520.6 L482.3 520.8 L482.8 521.2 L483.3 521.9 L483.8 522.6 L484.3 523.4 L484.8 524.1 L485.3 524.6 L485.8 525.1 L486.3 525.4 L486.5 525.5 L486.8 525.6 L487.3 525.8 L487.8 525.9 L488.3 526.0 L488.8 526.2 L489.3 526.3 L489.8 526.5 L490.3 526.6 L490.8 526.7 L491.0 526.7 L491.3 526.7 L491.8 526.8 L492.3 527.0 L492.8 527.2 L493.3 527.2 L493.8 527.2 L494.3 527.2 L494.8 527.1 L495.3 527.3 L495.8 527.5 L496.0 527.5 L496.3 527.6 L496.8 527.6 L497.3 527.3 L497.8 527.0 L498.3 526.8 L498.8 526.7 L499.0 526.6 L499.3 526.6 L499.8 526.5 L500.3 526.3 L500.8 526.1 L501.3 526.1 L501.8 526.2 L502.0 526.3 L502.3 526.4 L502.8 526.5 L503.3 526.6 L503.8 526.6 L504.3 526.6 L504.8 526.6 L505.3 526.8 L505.8 526.9 L506.0 527.0 L506.3 527.1 L506.8 527.3 L507.3 527.6 L507.8 527.8 L508.3 528.0 L508.8 528.1 L509.3 528.1 L509.8 528.2 L510.0 528.2 L510.3 528.2 L510.8 528.3 L511.3 528.3 L511.8 528.4 L512.3 528.5 L512.8 528.6 L513.3 528.7 L513.8 528.7 L514.3 528.8 L514.8 528.8 L515.3 528.8 L515.4 528.8 L515.8 528.8 L516.3 528.5 L516.8 528.2 L517.3 527.9 L517.8 527.6 L518.3 527.2 L518.5 527.1 L518.8 527.0 L519.3 526.7 L519.8 526.4 L520.3 526.1 L520.8 525.9 L521.3 525.7 L521.8 525.6 L522.3 525.4 L522.6 525.4 L522.8 525.3 L523.3 525.2 L523.8 525.0 L524.3 524.8 L524.8 524.6 L525.3 524.5 L525.8 524.4 L526.0 524.3 L526.3 524.2 L526.8 523.9 L527.3 523.5 L527.8 523.2 L528.3 523.0 L528.5 523.0 L528.8 523.0 L529.3 522.9 L529.8 522.9 L530.3 522.8 L530.8 522.7 L531.0 522.7 L531.3 522.8 L531.8 522.8 L532.3 522.8 L532.8 522.8 L533.3 522.7 L533.8 522.6 L534.0 522.5 L534.3 522.4 L534.8 522.1 L535.3 521.9 L535.8 521.6 L536.3 521.4 L536.5 521.4 L536.8 521.3 L537.3 521.2 L537.8 521.0 L538.3 520.9 L538.8 520.9 L539.3 520.9 L539.4 520.9 L539.8 520.9 L540.3 521.1 L540.8 521.3 L541.3 521.6 L541.8 521.8 L542.0 522.0 L542.3 522.2 L542.8 522.5 L543.3 522.8 L543.8 523.1 L544.3 523.4 L544.8 523.8 L545.3 524.0 L545.4 524.1 L545.8 524.3 L546.3 524.5 L546.8 524.7 L547.3 525.0 L547.8 525.3 L548.0 525.4 L548.3 525.6 L548.8 525.9 L549.3 526.1 L549.8 526.3 L550.3 526.6 L550.8 526.8 L551.3 526.9 L551.4 526.9 L551.8 527.0 L552.3 527.0 L552.8 527.1 L553.3 527.2 L553.8 527.3 L554.3 527.4 L554.8 527.5 L555.3 527.5 L555.8 527.5 L556.3 527.4 L556.8 527.3 L557.3 527.2 L557.8 527.2 L558.0 527.2 L558.3 527.2 L558.8 527.3 L559.3 527.2 L559.8 527.2 L560.3 527.2 L560.8 527.2 L561.3 527.2 L561.8 527.2 L562.3 527.2 L562.8 527.2 L563.3 527.2 L563.8 527.2 L564.3 527.2 L564.8 527.1 L565.3 527.1 L565.8 527.0 L566.3 526.8 L566.8 526.5 L567.3 526.1 L567.8 525.6 L568.3 525.0 L568.5 524.7 L568.8 524.4 L569.3 523.6 L569.8 522.7 L570.3 522.0 L570.8 521.5 L571.3 521.1 L571.8 520.7 L572.3 520.3 L572.8 520.2 L573.3 520.5 L573.8 521.0 L574.3 521.7 L574.8 522.4 L575.0 522.6 L575.3 522.9 L575.8 523.4 L576.3 524.0 L576.8 524.6 L577.3 525.1 L577.5 525.3 L577.8 525.5 L578.3 526.0 L578.8 526.4 L579.3 526.7 L579.8 526.8 L580.0 526.8 L580.3 526.7 L580.8 526.6 L581.3 526.7 L581.8 526.8 L582.3 526.9 L582.8 527.0 L583.0 527.0 L583.3 527.0 L583.8 526.9 L584.3 526.8 L584.8 526.7 L585.3 526.6 L585.8 526.6 L586.3 526.7 L586.8 527.0 L587.3 527.4 L587.8 527.8 L588.3 528.2 L588.8 528.6 L589.0 528.7 L589.3 528.9 L589.8 529.2 L590.3 529.5 L590.8 529.8 L591.3 530.0 L591.8 530.2 L592.0 530.3 L592.3 530.4 L592.8 530.5 L593.3 530.8 L593.8 531.0 L594.3 531.2 L594.8 531.3 L595.3 531.3 L595.4 531.3 L595.8 531.3 L596.3 531.2 L596.8 531.2 L597.3 531.3 L597.8 531.3 L598.3 531.4 L598.8 531.4 L599.3 531.4 L599.8 531.5 L600.3 531.4 L600.8 531.4 L601.3 531.4 L601.8 531.3 L602.3 531.3 L602.8 531.3 L603.3 531.3 L603.8 531.4 L604.3 531.3 L604.8 531.3 L605.0 531.3 L605.3 531.3 L605.8 531.3 L606.3 531.4 L606.8 531.5 L607.3 531.6 L607.8 531.7 L608.3 531.7 L608.8 531.7 L609.3 531.6 L609.8 531.6 L610.3 531.5 L610.8 531.4 L611.3 531.4 L611.8 531.4 L612.3 531.4 L612.8 531.4 L613.3 531.4 L613.8 531.3 L614.3 531.2 L614.8 531.1 L615.3 531.0 L615.8 530.8 L616.3 530.6 L616.8 530.4 L617.0 530.4 L617.3 530.3 L617.8 530.1 L618.3 530.0 L618.8 529.8 L619.3 529.6 L619.8 529.3 L620.3 528.9 L620.7 528.5 L620.8 528.4 L621.3 527.4 L621.8 526.3 L622.0 526.0 L622.3 525.6 L622.8 525.1 L623.3 524.6 L623.8 524.5 L624.3 524.5 L624.8 524.7 L625.3 524.9 L625.8 525.0 L626.0 525.0 L626.3 525.1 L626.8 525.2 L627.3 525.2 L627.8 525.3 L628.3 525.4 L628.8 525.4 L629.1 525.5 L629.3 525.6 L629.8 525.8 L630.3 526.2 L630.8 526.6 L631.3 526.9 L631.8 527.2 L632.0 527.2 L632.3 527.3 L632.8 527.5 L633.3 527.7 L633.8 527.9 L634.3 528.0 L634.8 528.2 L635.3 528.4 L635.8 528.6 L636.3 528.8 L636.8 529.0 L637.3 529.0 L637.8 528.9 L638.3 528.9 L638.8 528.8 L639.3 528.9 L639.8 529.0 L640.3 529.1 L640.8 529.2 L641.3 529.2 L641.8 529.2 L642.0 529.1 L642.3 529.1 L642.8 529.1 L643.3 529.1 L643.8 529.2 L644.3 529.4 L644.8 529.6 L645.3 529.6 L645.8 529.7 L646.3 529.6 L646.8 529.4 L647.3 529.3 L647.8 529.1 L648.3 529.1 L648.8 529.0 L649.3 528.9 L649.8 528.6 L650.3 528.4 L650.5 528.3 L650.8 528.2 L651.3 527.8 L651.8 527.4 L652.3 526.9 L652.8 526.6 L653.1 526.5 L653.3 526.5 L653.8 526.8 L654.3 527.5 L654.8 528.1 L655.3 528.5 L655.8 529.0 L656.3 529.2 L656.7 529.3 L656.8 529.3 L657.3 529.3 L657.8 529.2 L658.3 529.3 L658.8 529.3 L659.3 529.4 L659.8 529.5 L660.3 529.4 L660.8 529.4 L661.3 529.3 L661.8 529.3 L662.3 529.4 L662.8 529.5 L663.3 529.4 L663.8 529.4 L664.3 529.2 L664.8 529.0 L665.0 529.0 L665.3 529.0 L665.8 529.0 L666.3 529.1 L666.8 529.1 L667.3 529.1 L667.8 529.1 L668.3 529.1 L668.8 529.1 L669.3 529.2 L669.8 529.2 L670.0 529.2 L670.3 529.2 L670.8 529.3 L671.3 529.2 L671.8 529.1 L672.3 528.9 L672.8 528.8 L673.3 528.7 L673.8 528.7 L674.3 528.8 L674.8 528.8 L675.3 528.9 L675.8 528.9 L676.3 528.9 L676.8 528.8 L677.3 528.8 L677.8 528.7 L678.3 528.6 L678.8 528.5 L679.3 528.4 L679.8 528.3 L680.0 528.3 L680.3 528.3 L680.8 528.3 L681.3 528.3 L681.8 528.4 L682.3 528.3 L682.8 528.2 L683.3 528.2 L683.8 528.1 L684.3 528.2 L684.8 528.2 L685.3 528.3 L685.8 528.3 L686.3 528.3 L686.8 528.3 L687.3 528.1 L687.8 528.0 L688.3 527.9 L688.8 527.9 L689.2 528.0 L689.3 528.0 L689.8 528.1 L690.3 528.1 L690.8 528.0 L691.3 527.8 L691.8 527.5 L692.3 527.3 L692.8 527.2 L693.3 527.1 L693.8 527.0 L694.3 526.9 L694.8 526.7 L695.0 526.7 L695.3 526.6 L695.8 526.4 L696.3 526.3 L696.8 526.1 L697.3 525.9 L697.8 525.7 L698.3 525.5 L698.8 525.3 L699.3 525.1 L699.8 525.0 L700.3 525.0 L700.8 524.9 L701.2 524.8 L701.3 524.8 L701.8 524.7 L702.3 524.4 L702.8 524.1 L703.3 523.8 L703.8 523.5 L704.3 523.2 L704.8 522.9 L705.3 522.7 L705.8 522.4 L706.0 522.3 L706.3 522.2 L706.8 522.0 L707.3 521.8 L707.8 521.6 L708.3 521.3 L708.8 520.9 L709.3 520.6 L709.8 520.3 L710.0 520.3 L710.3 520.1 L710.8 519.9 L711.3 519.6 L711.8 519.3 L712.3 519.1 L712.8 518.9 L713.3 518.8 L713.8 518.8 L713.9 518.7 L714.3 518.7 L714.8 518.8 L715.3 519.0 L715.8 519.3 L716.3 519.5 L716.8 519.8 L717.0 519.9 L717.3 520.0 L717.8 520.4 L718.3 520.9 L718.8 521.4 L719.3 521.8 L719.5 521.9 L719.8 522.1 L720.3 522.3 L720.8 522.4 L720.9 522.4 L721.3 522.3 L721.8 522.1 L722.3 521.7 L722.8 521.3 L723.0 521.1 L723.3 520.8 L723.8 520.2 L724.3 519.5 L724.8 518.8 L725.3 518.1 L725.8 517.3 L726.3 516.5 L726.4 516.3 L726.8 515.6 L727.3 514.7 L727.8 513.7 L728.3 512.6 L728.8 511.5 L729.3 510.4 L729.5 509.9 L729.8 509.2 L730.3 507.9 L730.8 506.5 L731.3 505.2 L731.8 503.7 L732.3 502.1 L732.4 501.8 L732.8 500.4 L733.3 498.5 L733.8 496.4 L734.3 494.2 L734.8 491.8 L735.0 490.8 L735.3 489.3 L735.8 486.5 L736.3 483.5 L736.8 480.4 L737.2 478.0 L737.3 477.4 L737.8 474.5 L738.3 471.6 L738.8 468.7 L739.3 465.7 L739.5 464.4 L739.8 462.6 L740.3 459.5 L740.8 456.5 L741.3 453.4 L741.8 450.3 L742.0 449.0 L742.3 447.1 L742.8 443.8 L743.3 440.5 L743.8 437.2 L744.3 434.0 L744.8 430.8 L745.3 427.6 L745.8 424.4 L746.3 421.0 L746.5 419.7" fill="none" stroke="#000" stroke-width="1.6" stroke-linejoin="round" stroke-linecap="butt"/>
<text transform="translate(76.5 95.6) scale(1.02 1)" font-size="19.2" text-anchor="start" font-weight="bold" fill="#000">PG</text>
<text transform="translate(76.5 211) scale(1.02 1)" font-size="19.2" text-anchor="start" font-weight="bold" fill="#000">PG-d6</text>
<text transform="translate(76.5 326.1) scale(1.02 1)" font-size="19.2" text-anchor="start" font-weight="bold" fill="#000">PG-d8</text>
<text transform="translate(76.5 441) scale(1.02 1)" font-size="19.2" text-anchor="start" font-weight="bold" fill="#000">CA film</text>
<text transform="translate(123.7 62.1) scale(1.08 1)" font-size="10.2" text-anchor="middle" fill="#000" stroke="#000" stroke-width="0.25">2935</text>
<path d="M141.6 60.1 L160.8 71.1 M152.9 71.3 L160.8 71.1 L156.9 64.2" fill="none" stroke="#000" stroke-width="1.4" stroke-linecap="round" stroke-linejoin="miter"/>
<text transform="translate(195.2 63.3) scale(1.08 1)" font-size="10.2" text-anchor="middle" fill="#000" stroke="#000" stroke-width="0.25">2883</text>
<path d="M192.6 75.2 L181.0 88.9 M182.3 81.1 L181.0 88.9 L188.5 86.4" fill="none" stroke="#000" stroke-width="1.4" stroke-linecap="round" stroke-linejoin="miter"/>
<text transform="translate(113.9 121.5) scale(1.08 1)" font-size="10.2" text-anchor="middle" fill="#000" stroke="#000" stroke-width="0.25">2976</text>
<path d="M132.0 120.2 L150.5 128.1 M142.7 129.2 L150.5 128.1 L145.9 121.7" fill="none" stroke="#000" stroke-width="1.4" stroke-linecap="round" stroke-linejoin="miter"/>
<text transform="translate(261 247.1) scale(1.08 1)" font-size="10.2" text-anchor="middle" fill="#000" stroke="#000" stroke-width="0.25">2233</text>
<path d="M279.7 244.6 L298.4 239.8 M292.9 245.4 L298.4 239.8 L290.8 237.5" fill="none" stroke="#000" stroke-width="1.4" stroke-linecap="round" stroke-linejoin="miter"/>
<text transform="translate(367.1 212.7) scale(1.08 1)" font-size="10.2" text-anchor="middle" fill="#000" stroke="#000" stroke-width="0.25">2123</text>
<path d="M354.2 210.2 L334.2 215.0 M339.8 209.5 L334.2 215.0 L341.7 217.4" fill="none" stroke="#000" stroke-width="1.4" stroke-linecap="round" stroke-linejoin="miter"/>
<text transform="translate(383 256.0) scale(1.08 1)" font-size="10.2" text-anchor="middle" fill="#000" stroke="#000" stroke-width="0.25">2067</text>
<path d="M368.6 253.0 L348.6 248.2 M356.1 245.8 L348.6 248.2 L354.2 253.7" fill="none" stroke="#000" stroke-width="1.4" stroke-linecap="round" stroke-linejoin="miter"/>
<text transform="translate(261.6 349.8) scale(1.08 1)" font-size="10.2" text-anchor="middle" fill="#000" stroke="#000" stroke-width="0.25">2231</text>
<path d="M280.1 348.8 L298.9 343.3 M293.5 349.1 L298.9 343.3 L291.3 341.3" fill="none" stroke="#000" stroke-width="1.4" stroke-linecap="round" stroke-linejoin="miter"/>
<text transform="translate(374.3 315.0) scale(1.08 1)" font-size="10.2" text-anchor="middle" fill="#000" stroke="#000" stroke-width="0.25">2119</text>
<path d="M361.4 313.2 L341.4 318.0 M347.0 312.5 L341.4 318.0 L348.9 320.4" fill="none" stroke="#000" stroke-width="1.4" stroke-linecap="round" stroke-linejoin="miter"/>
<text transform="translate(380.8 353.7) scale(1.08 1)" font-size="10.2" text-anchor="middle" fill="#000" stroke="#000" stroke-width="0.25">2069</text>
<path d="M365.5 350.5 L345.7 345.7 M353.2 343.3 L345.7 345.7 L351.3 351.2" fill="none" stroke="#000" stroke-width="1.4" stroke-linecap="round" stroke-linejoin="miter"/>
<text transform="translate(204.3 445.1) scale(1.08 1)" font-size="10.2" text-anchor="middle" fill="#000" stroke="#000" stroke-width="0.25">2939</text>
<path d="M189.4 448.6 L173.8 458.3 M177.4 451.3 L173.8 458.3 L181.7 458.2" fill="none" stroke="#000" stroke-width="1.4" stroke-linecap="round" stroke-linejoin="miter"/>
<text transform="translate(388.1 483.5) scale(1.08 1)" font-size="10.2" text-anchor="middle" fill="#000" stroke="#000" stroke-width="0.25">1739</text>
<path d="M390.2 490.6 L402.9 510.8 M395.9 507.2 L402.9 510.8 L402.7 502.9" fill="none" stroke="#000" stroke-width="1.4" stroke-linecap="round" stroke-linejoin="miter"/>
<text transform="translate(47.7 621.2) scale(0.95 1)" font-size="29.8" text-anchor="start" font-weight="bold" fill="#000">B</text>
<line x1="101.2" y1="663.7" x2="101.2" y2="1102.8" stroke="#000" stroke-width="1.5"/>
<line x1="100.60000000000001" y1="808.9" x2="723.0" y2="808.9" stroke="#000" stroke-width="1.5"/>
<line x1="100.60000000000001" y1="955.7" x2="723.0" y2="955.7" stroke="#000" stroke-width="1.5"/>
<line x1="100.60000000000001" y1="1100.6" x2="723.0" y2="1100.6" stroke="#000" stroke-width="1.5"/>
<line x1="98.9" y1="697.2" x2="101.2" y2="697.2" stroke="#000" stroke-width="1.2"/>
<text transform="translate(96.2 699.4) scale(1.155 1)" font-size="12.7" text-anchor="end" fill="#000">6000</text>
<line x1="98.9" y1="733.9" x2="101.2" y2="733.9" stroke="#000" stroke-width="1.2"/>
<text transform="translate(96.2 735.9) scale(1.155 1)" font-size="12.7" text-anchor="end" fill="#000">4000</text>
<line x1="98.9" y1="770.6" x2="101.2" y2="770.6" stroke="#000" stroke-width="1.2"/>
<text transform="translate(96.2 772.6) scale(1.155 1)" font-size="12.7" text-anchor="end" fill="#000">2000</text>
<line x1="98.9" y1="806.7" x2="101.2" y2="806.7" stroke="#000" stroke-width="1.2"/>
<text transform="translate(96.2 805.5) scale(1.155 1)" font-size="12.7" text-anchor="end" fill="#000">0</text>
<line x1="98.9" y1="841.5" x2="101.2" y2="841.5" stroke="#000" stroke-width="1.2"/>
<text transform="translate(96.2 843.9) scale(1.155 1)" font-size="12.7" text-anchor="end" fill="#000">3000</text>
<line x1="98.9" y1="878.4" x2="101.2" y2="878.4" stroke="#000" stroke-width="1.2"/>
<text transform="translate(96.2 880.7) scale(1.155 1)" font-size="12.7" text-anchor="end" fill="#000">2000</text>
<line x1="98.9" y1="915.7" x2="101.2" y2="915.7" stroke="#000" stroke-width="1.2"/>
<text transform="translate(96.2 917.8) scale(1.155 1)" font-size="12.7" text-anchor="end" fill="#000">1000</text>
<line x1="98.9" y1="952.2" x2="101.2" y2="952.2" stroke="#000" stroke-width="1.2"/>
<text transform="translate(96.2 951.7) scale(1.155 1)" font-size="12.7" text-anchor="end" fill="#000">0</text>
<line x1="98.9" y1="964.1" x2="101.2" y2="964.1" stroke="#000" stroke-width="1.2"/>
<text transform="translate(96.2 968.8) scale(1.155 1)" font-size="12.7" text-anchor="end" fill="#000">8000</text>
<line x1="98.9" y1="998.3" x2="101.2" y2="998.3" stroke="#000" stroke-width="1.2"/>
<text transform="translate(96.2 1001.4) scale(1.155 1)" font-size="12.7" text-anchor="end" fill="#000">6000</text>
<line x1="98.9" y1="1032.5" x2="101.2" y2="1032.5" stroke="#000" stroke-width="1.2"/>
<text transform="translate(96.2 1034.9) scale(1.155 1)" font-size="12.7" text-anchor="end" fill="#000">4000</text>
<line x1="98.9" y1="1066.6" x2="101.2" y2="1066.6" stroke="#000" stroke-width="1.2"/>
<text transform="translate(96.2 1068.4) scale(1.155 1)" font-size="12.7" text-anchor="end" fill="#000">2000</text>
<line x1="98.9" y1="1100" x2="101.2" y2="1100" stroke="#000" stroke-width="1.2"/>
<text transform="translate(96.2 1101.3) scale(1.155 1)" font-size="12.7" text-anchor="end" fill="#000">0</text>
<text transform="translate(42.8 735.3) scale(1.01 1) rotate(-90)" font-size="16.3" text-anchor="middle" fill="#000">Intensity (a.u.)</text>
<text transform="translate(42.8 889) scale(1.01 1) rotate(-90)" font-size="16.3" text-anchor="middle" fill="#000">Intensity (a.u.)</text>
<text transform="translate(42.8 1026) scale(1.01 1) rotate(-90)" font-size="16.3" text-anchor="middle" fill="#000">Intensity (a.u.)</text>
<line x1="118.3" y1="1100.6" x2="118.3" y2="1102.1999999999998" stroke="#555" stroke-width="0.8"/>
<line x1="136.8" y1="1100.6" x2="136.8" y2="1102.1999999999998" stroke="#555" stroke-width="0.8"/>
<line x1="155.4" y1="1100.6" x2="155.4" y2="1102.1999999999998" stroke="#555" stroke-width="0.8"/>
<line x1="174.0" y1="1100.6" x2="174.0" y2="1103.1999999999998" stroke="#000" stroke-width="1.0"/>
<text transform="translate(174.0 1119.8) scale(1.1 1)" font-size="15.7" text-anchor="middle" fill="#000">3000</text>
<line x1="192.6" y1="1100.6" x2="192.6" y2="1102.1999999999998" stroke="#555" stroke-width="0.8"/>
<line x1="211.2" y1="1100.6" x2="211.2" y2="1102.1999999999998" stroke="#555" stroke-width="0.8"/>
<line x1="229.7" y1="1100.6" x2="229.7" y2="1102.1999999999998" stroke="#555" stroke-width="0.8"/>
<line x1="248.3" y1="1100.6" x2="248.3" y2="1102.1999999999998" stroke="#555" stroke-width="0.8"/>
<line x1="266.9" y1="1100.6" x2="266.9" y2="1103.1999999999998" stroke="#000" stroke-width="1.0"/>
<text transform="translate(266.9 1119.8) scale(1.1 1)" font-size="15.7" text-anchor="middle" fill="#000">2500</text>
<line x1="285.5" y1="1100.6" x2="285.5" y2="1102.1999999999998" stroke="#555" stroke-width="0.8"/>
<line x1="304.1" y1="1100.6" x2="304.1" y2="1102.1999999999998" stroke="#555" stroke-width="0.8"/>
<line x1="322.6" y1="1100.6" x2="322.6" y2="1102.1999999999998" stroke="#555" stroke-width="0.8"/>
<line x1="341.2" y1="1100.6" x2="341.2" y2="1102.1999999999998" stroke="#555" stroke-width="0.8"/>
<line x1="359.79999999999995" y1="1100.6" x2="359.79999999999995" y2="1103.1999999999998" stroke="#000" stroke-width="1.0"/>
<text transform="translate(359.8 1119.8) scale(1.1 1)" font-size="15.7" text-anchor="middle" fill="#000">2000</text>
<line x1="378.4" y1="1100.6" x2="378.4" y2="1102.1999999999998" stroke="#555" stroke-width="0.8"/>
<line x1="397.0" y1="1100.6" x2="397.0" y2="1102.1999999999998" stroke="#555" stroke-width="0.8"/>
<line x1="415.5" y1="1100.6" x2="415.5" y2="1102.1999999999998" stroke="#555" stroke-width="0.8"/>
<line x1="434.1" y1="1100.6" x2="434.1" y2="1102.1999999999998" stroke="#555" stroke-width="0.8"/>
<line x1="452.7" y1="1100.6" x2="452.7" y2="1103.1999999999998" stroke="#000" stroke-width="1.0"/>
<text transform="translate(452.7 1119.8) scale(1.1 1)" font-size="15.7" text-anchor="middle" fill="#000">1500</text>
<line x1="471.3" y1="1100.6" x2="471.3" y2="1102.1999999999998" stroke="#555" stroke-width="0.8"/>
<line x1="489.9" y1="1100.6" x2="489.9" y2="1102.1999999999998" stroke="#555" stroke-width="0.8"/>
<line x1="508.4" y1="1100.6" x2="508.4" y2="1102.1999999999998" stroke="#555" stroke-width="0.8"/>
<line x1="527.0" y1="1100.6" x2="527.0" y2="1102.1999999999998" stroke="#555" stroke-width="0.8"/>
<line x1="545.5999999999999" y1="1100.6" x2="545.5999999999999" y2="1103.1999999999998" stroke="#000" stroke-width="1.0"/>
<text transform="translate(545.6 1119.8) scale(1.1 1)" font-size="15.7" text-anchor="middle" fill="#000">1000</text>
<line x1="564.2" y1="1100.6" x2="564.2" y2="1102.1999999999998" stroke="#555" stroke-width="0.8"/>
<line x1="582.8" y1="1100.6" x2="582.8" y2="1102.1999999999998" stroke="#555" stroke-width="0.8"/>
<line x1="601.3" y1="1100.6" x2="601.3" y2="1102.1999999999998" stroke="#555" stroke-width="0.8"/>
<line x1="619.9" y1="1100.6" x2="619.9" y2="1102.1999999999998" stroke="#555" stroke-width="0.8"/>
<line x1="638.5" y1="1100.6" x2="638.5" y2="1103.1999999999998" stroke="#000" stroke-width="1.0"/>
<text transform="translate(638.5 1119.8) scale(1.1 1)" font-size="15.7" text-anchor="middle" fill="#000">500</text>
<line x1="657.1" y1="1100.6" x2="657.1" y2="1102.1999999999998" stroke="#555" stroke-width="0.8"/>
<line x1="675.7" y1="1100.6" x2="675.7" y2="1102.1999999999998" stroke="#555" stroke-width="0.8"/>
<line x1="694.2" y1="1100.6" x2="694.2" y2="1102.1999999999998" stroke="#555" stroke-width="0.8"/>
<line x1="712.8" y1="1100.6" x2="712.8" y2="1102.1999999999998" stroke="#555" stroke-width="0.8"/>
<text transform="translate(334.0 1162.3) scale(1.112 1)" font-size="17.5" fill="#000">Raman shift (cm<tspan font-size="10.5" dy="-6">-1</tspan><tspan dy="6">)</tspan></text>
<path d="M102.9 804.7 L103.4 804.7 L103.9 804.6 L104.4 804.4 L104.9 804.3 L105.4 804.3 L105.9 804.2 L106.4 804.2 L106.9 804.2 L107.4 804.1 L107.9 804.1 L108.4 804.0 L108.9 804.0 L109.4 803.9 L109.9 803.9 L110.4 803.9 L110.9 803.8 L111.4 803.8 L111.9 803.8 L112.0 803.8 L112.4 803.8 L112.9 803.9 L113.4 803.8 L113.9 803.8 L114.4 803.7 L114.9 803.6 L115.4 803.7 L115.9 803.7 L116.4 803.8 L116.9 803.8 L117.4 803.8 L117.9 803.8 L118.4 803.7 L118.9 803.7 L119.4 803.6 L119.9 803.5 L120.4 803.5 L120.9 803.5 L121.0 803.5 L121.4 803.5 L121.9 803.4 L122.4 803.4 L122.9 803.4 L123.4 803.5 L123.9 803.7 L124.4 803.8 L124.9 803.9 L125.4 803.9 L125.9 804.0 L126.4 804.0 L126.9 804.0 L127.4 804.0 L127.9 804.0 L128.4 804.0 L128.9 804.0 L129.4 804.2 L129.9 804.4 L130.4 804.4 L130.9 804.5 L131.4 804.4 L131.9 804.3 L132.0 804.3 L132.4 804.4 L132.9 804.4 L133.4 804.5 L133.9 804.6 L134.4 804.7 L134.9 804.7 L135.4 804.8 L135.9 804.9 L136.4 805.0 L136.9 805.2 L137.4 805.2 L137.9 805.3 L138.4 805.3 L138.9 805.4 L139.4 805.5 L139.9 805.5 L140.4 805.6 L140.9 805.7 L141.4 805.8 L141.9 805.8 L142.4 805.9 L142.9 806.0 L143.4 806.1 L143.9 806.3 L144.4 806.3 L144.9 806.2 L145.4 806.2 L145.9 806.1 L146.4 806.1 L146.9 806.1 L147.4 806.1 L147.9 806.2 L148.4 806.1 L148.9 806.1 L149.4 806.1 L149.9 806.1 L150.4 806.2 L150.9 806.2 L151.4 806.2 L151.9 806.1 L152.4 806.0 L152.9 805.9 L153.4 805.9 L153.9 805.8 L154.4 805.8 L154.9 805.7 L155.4 805.6 L155.9 805.5 L156.0 805.4 L156.4 805.4 L156.9 805.3 L157.4 805.1 L157.9 805.0 L158.4 804.9 L158.9 804.7 L159.4 804.6 L159.9 804.5 L160.4 804.3 L160.9 804.1 L161.4 803.9 L161.9 803.6 L162.0 803.6 L162.4 803.5 L162.9 803.4 L163.4 803.3 L163.9 803.2 L164.4 802.9 L164.9 802.5 L165.4 802.3 L165.9 802.0 L166.4 801.8 L166.9 801.6 L167.0 801.5 L167.4 801.3 L167.9 801.0 L168.4 800.7 L168.9 800.5 L169.4 800.1 L169.9 799.7 L170.4 799.3 L170.9 798.7 L171.4 798.1 L171.9 797.3 L172.0 797.1 L172.4 796.4 L172.9 795.0 L173.4 793.4 L173.9 791.6 L174.4 789.5 L174.5 789.0 L174.9 786.9 L175.4 783.3 L175.9 779.2 L176.0 778.4 L176.4 774.5 L176.9 768.8 L177.2 765.1 L177.4 762.4 L177.9 754.7 L178.3 749.9 L178.4 749.1 L178.9 745.2 L179.4 743.1 L179.5 743.1 L179.9 744.1 L180.4 747.5 L180.6 749.0 L180.9 752.2 L181.4 759.1 L181.6 761.2 L181.9 763.6 L182.4 767.0 L182.7 767.7 L182.9 767.1 L183.4 761.3 L183.8 755.1 L183.9 753.5 L184.4 743.7 L184.9 732.2 L185.0 730.0 L185.4 720.6 L185.9 708.4 L186.0 705.9 L186.4 695.8 L186.8 686.0 L186.9 683.7 L187.4 670.6 L187.9 663.7 L188.4 672.1 L188.8 684.1 L188.9 687.2 L189.4 706.6 L189.5 710.0 L189.9 721.9 L190.4 734.0 L190.5 735.9 L190.9 743.0 L191.4 749.8 L191.7 751.2 L191.9 750.9 L192.4 748.7 L192.9 745.4 L193.0 744.8 L193.4 742.0 L193.9 737.7 L194.4 733.2 L194.8 730.0 L194.9 729.3 L195.4 725.7 L195.9 722.9 L196.0 722.6 L196.4 721.3 L196.9 720.2 L197.1 720.1 L197.4 721.0 L197.9 725.0 L198.2 728.0 L198.4 730.4 L198.9 739.3 L199.4 749.8 L199.9 759.3 L200.1 762.2 L200.4 765.8 L200.9 771.0 L201.4 775.3 L201.5 776.1 L201.9 779.1 L202.4 782.5 L202.9 785.4 L203.1 786.2 L203.4 787.4 L203.9 789.1 L204.4 790.5 L204.9 791.7 L205.4 792.8 L205.5 793.0 L205.9 793.8 L206.4 794.8 L206.9 795.6 L207.4 796.4 L207.9 797.1 L208.1 797.3 L208.4 797.6 L208.9 798.1 L209.4 798.5 L209.9 798.8 L210.4 799.1 L210.9 799.4 L211.0 799.4 L211.4 799.7 L211.9 800.0 L212.4 800.3 L212.9 800.5 L213.4 800.6 L213.9 800.7 L214.1 800.6 L214.4 800.6 L214.9 800.4 L215.4 800.3 L215.9 800.2 L216.4 800.1 L216.9 800.1 L217.0 800.1 L217.4 800.0 L217.9 799.9 L218.4 799.7 L218.9 799.5 L219.4 799.4 L219.9 799.3 L220.1 799.3 L220.4 799.3 L220.9 799.3 L221.4 799.2 L221.9 799.1 L222.4 798.9 L222.9 798.8 L223.4 798.7 L223.5 798.7 L223.9 798.6 L224.4 798.4 L224.9 798.3 L225.4 798.0 L225.9 797.8 L226.4 797.6 L226.9 797.6 L227.1 797.6 L227.4 797.7 L227.9 798.0 L228.4 798.6 L228.9 799.2 L229.4 799.8 L229.9 800.3 L230.0 800.4 L230.4 800.8 L230.9 801.3 L231.4 802.1 L231.9 802.7 L232.4 803.4 L232.9 803.8 L233.1 803.9 L233.4 804.0 L233.9 804.2 L234.4 804.3 L234.9 804.3 L235.4 804.3 L235.9 804.3 L236.4 804.3 L236.9 804.3 L237.4 804.3 L237.9 804.3 L238.4 804.3 L238.9 804.4 L239.4 804.5 L239.9 804.6 L240.0 804.6 L240.4 804.7 L240.9 804.7 L241.4 804.6 L241.9 804.5 L242.4 804.6 L242.9 804.6 L243.4 804.8 L243.9 804.9 L244.4 804.9 L244.9 804.9 L245.4 804.8 L245.9 804.8 L246.4 804.8 L246.9 804.8 L247.4 804.8 L247.9 804.7 L248.4 804.7 L248.9 804.7 L249.4 804.8 L249.9 804.8 L250.0 804.8 L250.4 804.8 L250.9 804.9 L251.4 804.9 L251.9 805.0 L252.4 805.1 L252.9 805.2 L253.4 805.3 L253.9 805.3 L254.4 805.2 L254.9 805.1 L255.4 805.0 L255.9 805.0 L256.4 805.0 L256.9 805.1 L257.4 805.1 L257.9 805.1 L258.4 805.1 L258.9 805.1 L259.4 805.2 L259.9 805.3 L260.4 805.3 L260.9 805.3 L261.4 805.2 L261.9 805.0 L262.4 805.1 L262.9 805.1 L263.4 805.2 L263.9 805.3 L264.4 805.3 L264.9 805.3 L265.4 805.4 L265.9 805.4 L266.4 805.4 L266.9 805.4 L267.4 805.4 L267.9 805.4 L268.4 805.3 L268.9 805.3 L269.4 805.3 L269.9 805.2 L270.4 805.2 L270.9 805.3 L271.4 805.3 L271.9 805.3 L272.4 805.3 L272.9 805.4 L273.4 805.5 L273.9 805.6 L274.4 805.6 L274.9 805.6 L275.4 805.6 L275.9 805.5 L276.4 805.6 L276.9 805.6 L277.4 805.7 L277.9 805.7 L278.4 805.7 L278.9 805.6 L279.4 805.6 L279.9 805.6 L280.4 805.6 L280.9 805.6 L281.4 805.6 L281.9 805.5 L282.4 805.5 L282.9 805.6 L283.4 805.7 L283.9 805.7 L284.4 805.7 L284.9 805.7 L285.4 805.7 L285.9 805.7 L286.4 805.7 L286.9 805.8 L287.4 805.8 L287.9 805.8 L288.4 805.9 L288.9 806.1 L289.4 806.1 L289.9 806.1 L290.4 806.0 L290.9 805.8 L291.4 805.7 L291.9 805.6 L292.4 805.6 L292.9 805.6 L293.4 805.6 L293.9 805.6 L294.4 805.7 L294.9 805.8 L295.4 805.9 L295.9 806.0 L296.4 806.0 L296.9 806.0 L297.4 806.0 L297.9 806.0 L298.4 805.9 L298.9 805.9 L299.4 805.8 L299.9 805.7 L300.0 805.7 L300.4 805.8 L300.9 805.8 L301.4 805.8 L301.9 805.8 L302.4 805.7 L302.9 805.7 L303.4 805.7 L303.9 805.7 L304.4 805.7 L304.9 805.8 L305.4 805.9 L305.9 805.9 L306.4 805.8 L306.9 805.6 L307.4 805.6 L307.9 805.5 L308.4 805.7 L308.9 805.8 L309.4 805.9 L309.9 805.9 L310.4 805.9 L310.9 805.8 L311.4 805.7 L311.9 805.7 L312.4 805.6 L312.9 805.6 L313.4 805.7 L313.9 805.8 L314.4 805.8 L314.9 805.9 L315.4 805.9 L315.9 805.9 L316.4 805.8 L316.9 805.8 L317.4 805.8 L317.9 805.8 L318.4 805.9 L318.9 806.0 L319.4 806.1 L319.9 806.2 L320.4 806.1 L320.9 806.1 L321.4 805.9 L321.9 805.8 L322.4 805.8 L322.9 805.8 L323.4 805.8 L323.9 805.8 L324.4 805.8 L324.9 805.8 L325.4 805.9 L325.9 806.1 L326.4 806.2 L326.9 806.3 L327.4 806.2 L327.9 806.1 L328.4 806.0 L328.9 805.9 L329.4 805.9 L329.9 805.9 L330.4 805.9 L330.9 805.8 L331.4 805.8 L331.9 805.8 L332.4 805.9 L332.9 805.9 L333.4 806.0 L333.9 806.0 L334.4 806.0 L334.9 805.9 L335.4 806.1 L335.9 806.2 L336.4 806.2 L336.9 806.2 L337.4 806.1 L337.9 806.0 L338.4 806.0 L338.9 805.9 L339.4 805.9 L339.9 805.9 L340.4 805.9 L340.9 805.9 L341.4 805.9 L341.9 806.0 L342.4 806.0 L342.9 805.9 L343.4 805.8 L343.9 805.7 L344.4 805.7 L344.9 805.7 L345.4 805.7 L345.9 805.8 L346.4 805.7 L346.9 805.7 L347.4 805.7 L347.9 805.7 L348.4 805.7 L348.9 805.8 L349.4 805.8 L349.9 805.9 L350.4 806.0 L350.9 806.1 L351.4 806.1 L351.9 806.1 L352.4 806.0 L352.9 806.0 L353.4 806.0 L353.9 805.9 L354.4 805.9 L354.9 805.8 L355.4 805.9 L355.9 805.9 L356.4 806.1 L356.9 806.2 L357.4 806.2 L357.9 806.2 L358.4 806.1 L358.9 806.0 L359.4 806.0 L359.9 806.0 L360.0 806.0 L360.4 806.0 L360.9 806.0 L361.4 806.0 L361.9 806.0 L362.4 806.0 L362.9 806.1 L363.4 806.2 L363.9 806.3 L364.4 806.4 L364.9 806.4 L365.4 806.2 L365.9 806.1 L366.4 806.0 L366.9 805.8 L367.4 805.7 L367.9 805.7 L368.4 805.6 L368.9 805.5 L369.4 805.6 L369.9 805.7 L370.4 805.7 L370.9 805.8 L371.4 805.8 L371.9 805.7 L372.4 805.6 L372.9 805.6 L373.4 805.7 L373.9 805.7 L374.4 805.7 L374.9 805.7 L375.4 805.7 L375.9 805.7 L376.4 805.7 L376.9 805.7 L377.4 805.8 L377.9 805.8 L378.4 806.0 L378.9 806.1 L379.4 806.1 L379.9 806.1 L380.4 806.0 L380.9 805.9 L381.4 805.9 L381.9 805.8 L382.4 805.9 L382.9 805.9 L383.4 805.9 L383.9 805.9 L384.4 805.8 L384.9 805.7 L385.4 805.7 L385.9 805.7 L386.4 805.7 L386.9 805.8 L387.4 805.8 L387.9 805.8 L388.4 805.7 L388.9 805.7 L389.4 805.8 L389.9 805.8 L390.4 805.8 L390.9 805.8 L391.4 805.8 L391.9 805.8 L392.4 805.9 L392.9 806.0 L393.4 806.0 L393.9 806.0 L394.4 805.9 L394.9 805.9 L395.4 805.9 L395.9 806.0 L396.4 806.0 L396.9 806.1 L397.4 805.9 L397.9 805.8 L398.4 805.6 L398.9 805.4 L399.4 805.5 L399.9 805.5 L400.4 805.6 L400.9 805.7 L401.4 805.8 L401.9 805.9 L402.4 806.0 L402.9 806.0 L403.4 806.0 L403.9 805.9 L404.4 805.9 L404.9 805.8 L405.4 805.8 L405.9 805.8 L406.4 805.8 L406.9 805.8 L407.4 805.8 L407.9 805.8 L408.4 805.8 L408.9 805.7 L409.4 805.8 L409.9 805.9 L410.4 805.9 L410.9 805.9 L411.4 805.9 L411.9 805.8 L412.4 805.8 L412.9 805.7 L413.4 805.6 L413.9 805.5 L414.4 805.6 L414.9 805.6 L415.4 805.7 L415.9 805.7 L416.4 805.8 L416.9 805.8 L417.4 805.8 L417.9 805.8 L418.4 805.8 L418.9 805.7 L419.4 805.6 L419.9 805.6 L420.0 805.5 L420.4 805.5 L420.9 805.4 L421.4 805.4 L421.9 805.4 L422.4 805.4 L422.9 805.5 L423.4 805.5 L423.9 805.5 L424.4 805.5 L424.9 805.6 L425.4 805.5 L425.9 805.5 L426.4 805.5 L426.9 805.5 L427.4 805.5 L427.9 805.6 L428.4 805.6 L428.9 805.6 L429.4 805.6 L429.9 805.5 L430.4 805.5 L430.9 805.5 L431.4 805.5 L431.9 805.5 L432.4 805.4 L432.9 805.4 L433.4 805.2 L433.9 805.1 L434.4 804.9 L434.9 804.8 L435.4 804.8 L435.9 804.9 L436.0 804.9 L436.4 804.9 L436.9 805.0 L437.4 804.8 L437.9 804.7 L438.4 804.6 L438.9 804.5 L439.4 804.6 L439.9 804.6 L440.4 804.6 L440.9 804.6 L441.4 804.5 L441.9 804.3 L442.4 804.2 L442.9 804.0 L443.4 803.9 L443.9 803.7 L444.4 803.6 L444.9 803.6 L445.0 803.6 L445.4 803.6 L445.9 803.6 L446.4 803.5 L446.9 803.4 L447.4 803.1 L447.9 802.9 L448.4 802.8 L448.9 802.6 L449.4 802.5 L449.9 802.4 L450.4 802.1 L450.5 802.1 L450.9 801.8 L451.4 801.4 L451.9 800.9 L452.4 800.5 L452.9 800.0 L453.0 799.9 L453.4 799.4 L453.9 798.6 L454.4 797.9 L454.8 797.4 L454.9 797.3 L455.4 796.9 L455.9 796.6 L456.4 796.2 L456.5 796.1 L456.9 795.6 L457.4 795.1 L457.9 794.3 L458.4 793.4 L458.5 793.2 L458.9 792.1 L459.4 790.3 L459.9 788.6 L460.0 788.4 L460.4 787.3 L460.9 786.0 L461.3 785.7 L461.4 785.7 L461.9 786.6 L462.4 787.9 L462.6 788.5 L462.9 789.5 L463.4 791.7 L463.9 793.6 L464.0 793.9 L464.4 795.0 L464.9 796.3 L465.4 797.4 L465.9 798.2 L466.1 798.5 L466.4 798.8 L466.9 799.2 L467.4 799.6 L467.9 800.0 L468.4 800.4 L468.9 800.7 L469.4 800.9 L469.9 801.1 L470.0 801.1 L470.4 801.1 L470.9 801.2 L471.4 801.3 L471.9 801.4 L472.4 801.5 L472.9 801.7 L473.4 801.8 L473.9 801.9 L474.4 802.1 L474.9 802.3 L475.4 802.5 L475.9 802.6 L476.4 802.7 L476.9 802.8 L477.4 802.8 L477.9 802.9 L478.4 803.0 L478.9 803.1 L479.4 803.1 L479.9 803.2 L480.4 803.3 L480.9 803.4 L481.4 803.5 L481.9 803.6 L482.4 803.6 L482.9 803.6 L483.4 803.7 L483.9 803.7 L484.4 803.8 L484.9 803.9 L485.4 804.0 L485.9 804.1 L486.4 804.1 L486.9 804.2 L487.4 804.2 L487.7 804.3 L487.9 804.3 L488.4 804.1 L488.9 803.9 L489.4 803.6 L489.9 803.2 L490.4 802.9 L490.5 802.9 L490.9 802.5 L491.4 801.9 L491.9 801.3 L492.4 800.7 L492.5 800.6 L492.9 800.2 L493.4 799.7 L493.9 799.3 L494.4 799.2 L494.9 799.4 L495.4 799.9 L495.9 800.5 L496.0 800.6 L496.4 801.0 L496.9 801.7 L497.4 802.4 L497.9 803.0 L498.0 803.1 L498.4 803.5 L498.9 803.9 L499.4 804.3 L499.7 804.3 L499.9 804.3 L500.4 804.5 L500.9 804.6 L501.4 804.6 L501.9 804.7 L502.4 804.7 L502.9 804.7 L503.4 804.8 L503.9 804.9 L504.4 805.0 L504.9 805.2 L505.0 805.2 L505.4 805.2 L505.9 805.2 L506.4 805.2 L506.9 805.2 L507.4 805.2 L507.9 805.2 L508.4 805.1 L508.9 805.1 L509.4 805.0 L509.9 805.0 L510.4 805.0 L510.9 805.0 L511.4 805.0 L511.9 805.0 L512.4 805.0 L512.9 805.0 L513.0 805.0 L513.4 805.0 L513.9 805.0 L514.4 804.9 L514.9 804.9 L515.4 804.7 L515.9 804.5 L516.4 804.3 L516.9 804.0 L517.4 803.9 L517.9 803.7 L518.0 803.7 L518.4 803.5 L518.9 803.4 L519.4 803.1 L519.9 802.9 L520.4 802.5 L520.9 802.1 L521.4 801.7 L521.9 801.3 L522.4 800.9 L522.6 800.7 L522.9 800.4 L523.4 799.6 L523.9 798.7 L524.4 797.7 L524.5 797.5 L524.9 796.4 L525.4 794.7 L525.9 793.2 L526.0 793.0 L526.4 792.2 L526.9 791.4 L527.4 791.1 L527.9 791.6 L528.4 792.4 L528.8 793.2 L528.9 793.4 L529.4 794.8 L529.9 796.4 L530.3 797.6 L530.4 797.8 L530.9 799.0 L531.4 799.7 L531.7 799.9 L531.9 799.8 L532.4 799.1 L532.9 798.1 L533.0 798.0 L533.4 797.1 L533.9 795.6 L534.4 794.4 L534.5 794.2 L534.9 793.5 L535.4 792.7 L535.9 792.3 L536.0 792.3 L536.4 792.4 L536.9 792.9 L537.4 793.7 L537.5 793.9 L537.9 794.8 L538.4 796.5 L538.9 798.1 L539.0 798.4 L539.4 799.6 L539.9 800.9 L540.4 801.9 L540.6 802.2 L540.9 802.5 L541.4 802.9 L541.9 803.2 L542.4 803.6 L542.9 803.9 L543.4 804.1 L543.9 804.3 L544.4 804.4 L544.9 804.5 L545.0 804.5 L545.4 804.6 L545.9 804.6 L546.4 804.7 L546.9 804.8 L547.4 804.9 L547.9 805.0 L548.4 805.1 L548.9 805.2 L549.4 805.3 L549.9 805.4 L550.4 805.5 L550.9 805.6 L551.4 805.6 L551.9 805.6 L552.4 805.6 L552.9 805.5 L553.4 805.4 L553.9 805.3 L554.4 805.4 L554.9 805.4 L555.4 805.4 L555.9 805.5 L556.4 805.5 L556.9 805.4 L557.4 805.4 L557.9 805.3 L558.0 805.3 L558.4 805.2 L558.9 805.2 L559.4 805.1 L559.9 805.0 L560.4 804.9 L560.9 804.7 L561.4 804.5 L561.9 804.3 L562.4 804.1 L562.9 803.9 L563.4 803.5 L563.9 802.5 L564.4 800.0 L564.8 797.1 L564.9 796.0 L565.4 784.8 L565.6 780.0 L565.9 773.1 L566.3 764.9 L566.4 763.2 L566.9 756.2 L567.0 755.9 L567.4 759.8 L567.7 764.9 L567.9 768.6 L568.4 779.9 L568.5 782.0 L568.9 790.9 L569.3 797.2 L569.4 797.8 L569.9 800.5 L570.4 802.0 L570.6 802.3 L570.9 802.6 L571.4 803.0 L571.9 803.2 L572.4 803.5 L572.9 803.7 L573.0 803.8 L573.4 804.0 L573.9 804.3 L574.4 804.4 L574.9 804.6 L575.4 804.9 L575.9 805.1 L576.4 805.4 L576.9 805.6 L577.4 805.7 L577.9 805.7 L578.4 805.7 L578.6 805.7 L578.9 805.7 L579.4 805.5 L579.9 805.4 L580.4 805.4 L580.9 805.3 L581.4 805.4 L581.9 805.6 L582.4 805.8 L582.9 806.0 L583.4 806.1 L583.9 806.2 L584.4 806.1 L584.9 806.1 L585.4 805.9 L585.9 805.7 L586.4 805.7 L586.9 805.6 L587.4 805.6 L587.9 805.7 L588.4 805.7 L588.9 805.7 L589.4 805.6 L589.9 805.6 L590.4 805.7 L590.9 805.7 L591.4 805.8 L591.9 805.8 L592.4 805.9 L592.9 805.9 L593.4 805.9 L593.9 805.9 L594.4 805.9 L594.9 805.8 L595.4 805.8 L595.9 805.7 L596.4 805.7 L596.9 805.6 L597.4 805.7 L597.9 805.7 L598.4 805.7 L598.9 805.7 L599.4 805.7 L599.9 805.8 L600.0 805.8 L600.4 805.8 L600.9 805.9 L601.4 805.8 L601.9 805.7 L602.4 805.5 L602.9 805.4 L603.4 805.4 L603.9 805.4 L604.4 805.6 L604.9 805.7 L605.4 805.8 L605.9 805.8 L606.4 805.7 L606.9 805.6 L607.4 805.5 L607.9 805.5 L608.4 805.6 L608.9 805.8 L609.4 805.9 L609.9 806.1 L610.4 805.9 L610.9 805.8 L611.4 805.8 L611.9 805.7 L612.4 805.7 L612.9 805.7 L613.4 805.6 L613.9 805.6 L614.4 805.5 L614.9 805.5 L615.4 805.6 L615.9 805.6 L616.4 805.6 L616.9 805.6 L617.4 805.6 L617.9 805.6 L618.4 805.6 L618.9 805.5 L619.4 805.5 L619.9 805.4 L620.4 805.4 L620.9 805.5 L621.4 805.5 L621.9 805.5 L622.4 805.5 L622.9 805.5 L623.4 805.5 L623.9 805.4 L624.4 805.4 L624.9 805.4 L625.4 805.4 L625.9 805.4 L626.4 805.5 L626.9 805.6 L627.4 805.6 L627.9 805.6 L628.4 805.5 L628.9 805.5 L629.4 805.4 L629.9 805.3 L630.4 805.2 L630.9 805.2 L631.4 805.2 L631.9 805.2 L632.4 805.3 L632.9 805.4 L633.4 805.5 L633.9 805.6 L634.4 805.5 L634.9 805.5 L635.4 805.4 L635.9 805.3 L636.4 805.2 L636.9 805.2 L637.4 805.1 L637.9 805.0 L638.4 805.0 L638.7 805.0 L638.9 804.9 L639.4 805.0 L639.9 805.0 L640.4 804.9 L640.9 804.7 L641.4 804.4 L641.9 804.1 L642.4 803.9 L642.9 803.6 L643.0 803.6 L643.4 803.4 L643.9 803.2 L644.4 802.9 L644.9 802.7 L645.4 802.3 L645.9 801.9 L646.4 801.6 L646.5 801.5 L646.9 801.2 L647.4 800.9 L647.9 800.5 L648.4 800.3 L648.9 800.1 L649.4 799.9 L649.9 799.9 L650.2 799.8 L650.4 799.8 L650.9 799.9 L651.4 800.3 L651.9 800.8 L652.4 801.4 L652.9 801.9 L653.0 802.0 L653.4 802.3 L653.9 802.7 L654.4 803.1 L654.9 803.5 L655.4 803.9 L655.9 804.2 L656.4 804.5 L656.9 804.7 L657.4 804.8 L657.9 804.9 L658.4 805.0 L658.9 805.2 L659.4 805.3 L659.9 805.4 L660.4 805.5 L660.9 805.6 L661.4 805.6 L661.9 805.7 L662.4 805.7 L662.9 805.7 L663.4 805.7 L663.9 805.7 L664.4 805.7 L664.9 805.7 L665.0 805.8 L665.4 805.8 L665.9 805.8 L666.4 805.9 L666.9 806.0 L667.4 806.1 L667.9 806.2 L668.4 806.3 L668.9 806.3 L669.4 806.2 L669.9 806.1 L670.4 806.1 L670.9 806.1 L671.4 806.2 L671.9 806.3 L672.4 806.4 L672.9 806.5 L673.4 806.4 L673.9 806.4 L674.4 806.3 L674.9 806.2 L675.4 806.2 L675.9 806.1 L676.4 806.2 L676.9 806.2 L677.0 806.2 L677.4 806.3 L677.9 806.3 L678.4 806.3 L678.9 806.4 L679.4 806.4 L679.9 806.4 L680.4 806.2 L680.9 806.1 L681.4 806.0 L681.9 805.9 L682.4 806.0 L682.9 806.1 L683.4 806.1 L683.9 806.2 L684.4 806.2 L684.9 806.3 L685.4 806.2 L685.9 806.2 L686.4 806.1 L686.9 805.9 L687.4 805.8 L687.9 805.7 L688.4 805.6 L688.9 805.6 L689.4 805.5 L689.9 805.5 L690.0 805.5 L690.4 805.5 L690.9 805.6 L691.4 805.6 L691.9 805.7 L692.4 805.5 L692.9 805.4 L693.4 805.3 L693.9 805.2 L694.4 805.2 L694.9 805.2 L695.4 805.1 L695.9 805.0 L696.4 804.9 L696.9 804.7 L697.4 804.6 L697.9 804.5 L698.4 804.4 L698.9 804.3 L699.4 804.1 L699.9 803.9 L700.4 803.7 L700.9 803.4 L701.0 803.4 L701.4 803.2 L701.9 803.0 L702.4 802.8 L702.9 802.7 L703.4 802.6 L703.9 802.4 L704.4 802.2 L704.9 801.9 L705.4 801.5 L705.9 801.1 L706.0 801.1 L706.4 800.7 L706.9 800.2 L707.4 799.7 L707.9 799.1 L708.4 798.5 L708.9 797.8 L709.4 797.2 L709.9 796.5 L710.0 796.3 L710.4 795.8 L710.9 795.0 L711.4 794.1 L711.9 793.1 L712.4 792.0 L712.9 790.8 L713.2 790.1 L713.4 789.6 L713.9 788.3 L714.4 786.9 L714.9 785.5 L715.4 784.1 L715.9 782.6 L716.0 782.3 L716.4 781.1 L716.9 779.4 L717.4 777.7 L717.9 775.9 L718.0 775.5 L718.4 774.0 L718.9 772.0 L719.4 769.8 L719.9 767.7 L720.3 765.9 L720.4 765.5 L720.9 763.3 L721.4 761.0 L721.9 758.6 L722.1 757.6" fill="none" stroke="#000" stroke-width="1.6" stroke-linejoin="round" stroke-linecap="butt"/>
<path d="M102.9 944.6 L103.4 944.5 L103.9 944.4 L104.4 944.3 L104.9 944.2 L105.4 944.1 L105.9 944.0 L106.4 943.9 L106.9 943.9 L107.4 943.9 L107.9 943.8 L108.4 943.8 L108.9 943.7 L109.4 943.7 L109.9 943.7 L110.4 943.7 L110.9 943.7 L111.3 943.6 L111.4 943.6 L111.9 943.5 L112.4 943.5 L112.9 943.5 L113.4 943.6 L113.9 943.6 L114.4 943.7 L114.9 943.7 L115.4 943.8 L115.9 943.8 L116.4 944.0 L116.9 944.1 L117.4 944.2 L117.9 944.2 L118.4 944.2 L118.9 944.2 L119.4 944.2 L119.9 944.3 L120.0 944.3 L120.4 944.3 L120.9 944.3 L121.4 944.3 L121.9 944.4 L122.4 944.6 L122.9 944.7 L123.4 944.9 L123.9 945.0 L124.4 944.9 L124.9 944.9 L125.4 944.8 L125.9 944.8 L126.4 944.8 L126.9 944.9 L127.4 944.9 L127.9 945.0 L128.4 945.0 L128.9 945.1 L129.4 945.2 L129.9 945.4 L130.4 945.6 L130.5 945.6 L130.9 945.7 L131.4 945.9 L131.9 946.1 L132.4 946.1 L132.9 946.2 L133.4 946.3 L133.9 946.4 L134.4 946.6 L134.9 946.8 L135.4 946.9 L135.9 947.0 L136.4 947.0 L136.9 947.0 L137.4 947.1 L137.9 947.2 L138.4 947.5 L138.9 947.7 L139.4 948.0 L139.9 948.2 L140.4 948.5 L140.9 948.7 L141.4 948.8 L141.9 949.0 L142.4 949.1 L142.9 949.1 L143.4 949.3 L143.9 949.4 L144.4 949.6 L144.9 949.7 L145.0 949.8 L145.4 949.9 L145.9 950.0 L146.4 950.0 L146.9 950.1 L147.4 950.2 L147.9 950.3 L148.4 950.5 L148.9 950.6 L149.4 950.8 L149.9 951.0 L150.4 951.1 L150.9 951.3 L151.4 951.5 L151.9 951.6 L152.4 951.7 L152.9 951.8 L153.4 952.0 L153.9 952.2 L154.4 952.3 L154.9 952.5 L155.4 952.5 L155.9 952.6 L156.4 952.4 L156.9 952.3 L157.0 952.3 L157.4 952.2 L157.9 952.1 L158.4 952.2 L158.9 952.2 L159.4 952.2 L159.9 952.2 L160.4 952.2 L160.9 952.1 L161.4 952.1 L161.9 952.0 L162.4 951.8 L162.9 951.7 L163.4 951.5 L163.9 951.4 L164.0 951.3 L164.4 951.2 L164.9 951.0 L165.4 950.8 L165.9 950.6 L166.4 950.4 L166.9 950.2 L167.4 950.0 L167.9 949.7 L168.4 949.5 L168.9 949.1 L169.0 949.1 L169.4 948.8 L169.9 948.4 L170.4 947.8 L170.9 947.2 L171.4 946.4 L171.9 945.6 L172.4 944.6 L172.5 944.4 L172.9 943.6 L173.4 942.5 L173.9 941.3 L174.4 939.9 L174.9 938.1 L175.0 937.7 L175.4 935.6 L175.9 931.9 L176.4 927.5 L176.5 926.5 L176.9 922.0 L177.4 915.1 L177.6 912.3 L177.9 907.7 L178.4 899.6 L178.7 895.2 L178.9 892.3 L179.4 884.7 L179.9 881.0 L180.4 884.9 L180.9 892.0 L181.0 893.2 L181.4 897.9 L181.9 903.5 L182.2 906.1 L182.4 907.4 L182.9 910.2 L183.2 911.4 L183.4 912.0 L183.9 913.3 L184.1 913.4 L184.4 913.3 L184.9 912.9 L185.4 912.4 L185.9 911.9 L186.0 911.8 L186.4 911.6 L186.9 911.3 L187.4 910.8 L187.9 910.3 L188.4 909.3 L188.5 909.1 L188.9 907.6 L189.4 904.3 L189.9 900.0 L190.3 896.2 L190.4 895.2 L190.9 888.3 L191.4 880.1 L191.9 872.4 L192.4 865.7 L192.9 859.3 L193.4 853.3 L193.5 852.2 L193.9 847.2 L194.4 840.7 L194.9 835.7 L195.3 834.2 L195.4 834.4 L195.9 839.0 L196.4 847.3 L196.7 852.3 L196.9 855.9 L197.4 866.5 L197.9 877.0 L198.1 880.4 L198.4 884.6 L198.9 890.7 L199.4 896.2 L199.5 897.2 L199.9 901.5 L200.4 906.5 L200.9 910.9 L201.1 912.5 L201.4 914.5 L201.9 917.6 L202.4 920.2 L202.9 922.6 L203.0 923.0 L203.4 924.6 L203.9 926.5 L204.4 928.3 L204.9 929.9 L205.1 930.6 L205.4 931.4 L205.9 932.9 L206.4 934.2 L206.9 935.5 L207.4 936.7 L207.5 936.9 L207.9 937.8 L208.4 938.8 L208.9 939.8 L209.4 940.5 L209.9 941.2 L210.1 941.4 L210.4 941.8 L210.9 942.4 L211.4 943.1 L211.9 943.7 L212.4 944.4 L212.9 945.0 L213.4 945.6 L213.5 945.7 L213.9 946.1 L214.4 946.5 L214.9 947.0 L215.4 947.3 L215.9 947.6 L216.4 947.8 L216.9 947.9 L217.1 948.0 L217.4 948.0 L217.9 948.1 L218.4 948.2 L218.9 948.1 L219.4 948.0 L219.9 947.8 L220.0 947.7 L220.4 947.4 L220.9 946.9 L221.4 946.4 L221.9 945.8 L222.4 945.4 L222.9 945.0 L223.0 944.9 L223.4 944.7 L223.9 944.4 L224.4 944.0 L224.9 943.7 L225.4 943.5 L225.9 943.4 L226.1 943.4 L226.4 943.6 L226.9 944.0 L227.4 944.5 L227.9 945.1 L228.4 945.5 L228.5 945.5 L228.9 945.8 L229.4 946.4 L229.9 947.0 L230.4 947.6 L230.9 948.3 L231.4 948.7 L231.9 949.0 L232.1 949.0 L232.4 949.0 L232.9 949.0 L233.4 949.1 L233.9 949.2 L234.4 949.4 L234.9 949.6 L235.4 949.7 L235.9 949.7 L236.4 949.8 L236.9 949.8 L237.4 949.8 L237.9 949.8 L238.4 949.8 L238.9 949.8 L239.4 949.9 L239.9 950.1 L240.0 950.1 L240.4 950.2 L240.9 950.4 L241.4 950.3 L241.9 950.3 L242.4 950.3 L242.9 950.3 L243.4 950.4 L243.9 950.5 L244.4 950.6 L244.9 950.7 L245.4 950.8 L245.9 950.8 L246.4 950.7 L246.9 950.7 L247.4 950.8 L247.9 950.9 L248.4 950.9 L248.9 951.0 L249.4 950.9 L249.9 950.9 L250.1 950.9 L250.4 950.9 L250.9 950.9 L251.4 950.8 L251.9 950.8 L252.4 950.7 L252.9 950.6 L253.4 950.7 L253.9 950.7 L254.4 950.8 L254.9 951.0 L255.4 951.1 L255.9 951.1 L256.4 951.0 L256.9 950.9 L257.4 950.8 L257.9 950.8 L258.4 950.8 L258.9 950.8 L259.4 950.8 L259.9 950.8 L260.4 950.8 L260.9 950.8 L261.4 950.8 L261.9 950.8 L262.4 950.8 L262.9 950.8 L263.4 950.8 L263.9 950.7 L264.4 950.7 L264.9 950.8 L265.0 950.8 L265.4 950.9 L265.9 950.9 L266.4 950.9 L266.9 950.9 L267.4 950.8 L267.9 950.7 L268.4 950.6 L268.9 950.6 L269.4 950.5 L269.9 950.5 L270.4 950.5 L270.9 950.5 L271.4 950.5 L271.9 950.6 L272.4 950.7 L272.9 950.8 L273.4 950.7 L273.9 950.7 L274.4 950.5 L274.9 950.4 L275.4 950.3 L275.9 950.2 L276.4 950.2 L276.9 950.2 L277.4 950.1 L277.9 950.1 L278.4 950.1 L278.9 950.1 L279.4 950.2 L279.9 950.3 L280.2 950.4 L280.4 950.4 L280.9 950.4 L281.4 950.2 L281.9 950.1 L282.4 950.0 L282.9 949.9 L283.4 949.9 L283.9 949.8 L284.4 949.8 L284.9 949.7 L285.4 949.7 L285.9 949.7 L286.4 949.6 L286.9 949.5 L287.4 949.4 L287.9 949.2 L288.4 949.1 L288.9 949.0 L289.4 949.0 L289.9 949.1 L290.4 949.0 L290.9 948.9 L291.4 948.7 L291.9 948.5 L292.0 948.5 L292.4 948.3 L292.9 948.1 L293.4 948.0 L293.9 947.9 L294.4 947.8 L294.9 947.7 L295.4 947.5 L295.9 947.3 L296.4 947.1 L296.9 946.8 L297.4 946.6 L297.9 946.4 L298.0 946.3 L298.4 946.1 L298.9 945.9 L299.4 945.7 L299.9 945.4 L300.4 945.0 L300.9 944.7 L301.4 944.1 L301.9 943.6 L302.0 943.5 L302.4 943.1 L302.9 942.7 L303.4 942.3 L303.9 941.9 L304.4 941.4 L304.9 940.7 L305.4 940.0 L305.9 939.0 L306.0 938.8 L306.4 937.3 L306.9 934.0 L307.4 929.8 L307.9 925.4 L308.0 924.6 L308.4 920.6 L308.9 915.8 L309.0 915.2 L309.4 912.8 L309.9 910.9 L310.0 910.8 L310.4 911.6 L310.9 913.7 L311.2 915.0 L311.4 915.9 L311.9 918.4 L312.4 919.9 L312.9 916.7 L313.4 910.2 L313.9 901.2 L314.4 890.3 L314.9 879.8 L315.4 869.4 L315.8 862.2 L315.9 860.5 L316.4 851.7 L316.9 845.4 L317.1 844.7 L317.4 848.1 L317.9 862.2 L318.1 868.2 L318.4 877.8 L318.9 895.2 L319.1 900.5 L319.4 906.6 L319.9 914.4 L320.0 915.6 L320.4 919.7 L320.9 923.6 L321.1 924.6 L321.4 925.8 L321.9 927.3 L322.4 928.6 L322.9 929.7 L323.0 929.8 L323.4 930.5 L323.9 931.1 L324.4 931.7 L324.9 932.3 L325.1 932.5 L325.4 932.8 L325.9 933.4 L326.4 933.9 L326.9 934.3 L327.4 934.7 L327.9 934.9 L328.1 934.9 L328.4 934.9 L328.9 934.7 L329.4 934.3 L329.9 933.9 L330.3 933.6 L330.4 933.5 L330.9 933.1 L331.4 932.5 L331.9 931.6 L332.1 931.2 L332.4 930.1 L332.9 926.7 L333.2 924.1 L333.4 922.0 L333.9 914.3 L334.1 910.5 L334.4 903.4 L334.9 888.5 L335.0 885.4 L335.4 871.6 L335.7 860.4 L335.9 851.4 L336.4 824.5 L336.9 810.2 L337.4 814.7 L337.9 822.9 L338.0 824.4 L338.4 830.0 L338.9 837.4 L339.1 840.3 L339.4 844.8 L339.9 852.2 L340.1 855.2 L340.4 860.0 L340.9 867.9 L341.1 870.3 L341.4 873.3 L341.9 877.4 L342.3 880.2 L342.4 880.9 L342.9 884.0 L343.4 886.8 L343.7 888.4 L343.9 889.4 L344.4 891.5 L344.9 893.7 L345.0 894.2 L345.4 896.3 L345.9 899.2 L346.1 900.3 L346.4 902.3 L346.9 906.0 L347.4 908.2 L347.5 908.3 L347.9 902.1 L348.2 895.1 L348.4 890.6 L348.9 879.3 L349.1 877.8 L349.4 883.2 L349.8 897.1 L349.9 900.3 L350.4 917.9 L350.5 920.4 L350.9 928.4 L351.4 935.4 L351.9 940.6 L352.4 944.1 L352.5 944.5 L352.9 945.7 L353.4 946.8 L353.9 947.5 L354.0 947.6 L354.4 948.1 L354.9 948.6 L355.4 949.0 L355.9 949.2 L356.1 949.3 L356.4 949.4 L356.9 949.6 L357.4 949.7 L357.9 949.9 L358.4 949.9 L358.9 949.9 L359.4 949.8 L359.9 949.8 L360.4 949.9 L360.9 949.9 L361.4 949.9 L361.9 950.0 L362.4 950.0 L362.9 950.0 L363.4 950.1 L363.9 950.2 L364.4 950.2 L364.9 950.2 L365.0 950.2 L365.4 950.2 L365.9 950.1 L366.4 950.2 L366.9 950.2 L367.4 950.3 L367.9 950.3 L368.4 950.4 L368.9 950.4 L369.4 950.4 L369.9 950.4 L370.4 950.4 L370.9 950.4 L371.4 950.4 L371.9 950.4 L372.4 950.4 L372.9 950.4 L373.4 950.5 L373.9 950.5 L374.4 950.5 L374.9 950.5 L375.4 950.5 L375.9 950.5 L376.4 950.5 L376.9 950.5 L377.4 950.5 L377.9 950.4 L378.4 950.4 L378.9 950.4 L379.4 950.5 L379.9 950.6 L380.4 950.7 L380.9 950.7 L381.4 950.7 L381.9 950.7 L382.4 950.7 L382.9 950.8 L383.4 950.8 L383.9 950.8 L384.4 950.7 L384.9 950.7 L385.4 950.7 L385.9 950.6 L386.4 950.5 L386.9 950.5 L387.4 950.5 L387.9 950.6 L388.4 950.6 L388.9 950.6 L389.4 950.6 L389.9 950.6 L390.4 950.6 L390.9 950.6 L391.4 950.6 L391.9 950.6 L392.4 950.6 L392.9 950.6 L393.4 950.6 L393.9 950.7 L394.4 950.7 L394.9 950.7 L395.4 950.6 L395.9 950.5 L396.4 950.5 L396.9 950.4 L397.4 950.5 L397.9 950.6 L398.4 950.6 L398.9 950.6 L399.4 950.6 L399.9 950.6 L400.0 950.6 L400.4 950.7 L400.9 950.8 L401.4 950.8 L401.9 950.9 L402.4 950.9 L402.9 950.9 L403.4 950.8 L403.9 950.7 L404.4 950.7 L404.9 950.6 L405.4 950.6 L405.9 950.6 L406.4 950.6 L406.9 950.7 L407.4 950.7 L407.9 950.8 L408.4 950.8 L408.9 950.9 L409.4 951.0 L409.9 951.0 L410.4 950.9 L410.9 950.8 L411.4 950.8 L411.9 950.7 L412.4 950.7 L412.9 950.8 L413.4 950.9 L413.9 950.9 L414.4 950.9 L414.9 950.9 L415.4 950.8 L415.9 950.8 L416.4 950.7 L416.9 950.7 L417.4 950.7 L417.9 950.7 L418.4 950.7 L418.9 950.8 L419.4 950.9 L419.9 950.9 L420.4 950.9 L420.9 950.9 L421.4 950.8 L421.9 950.8 L422.4 950.8 L422.9 950.9 L423.4 951.0 L423.9 951.1 L424.4 951.1 L424.9 951.1 L425.4 951.1 L425.9 951.0 L426.4 951.1 L426.9 951.1 L427.4 951.2 L427.9 951.3 L428.4 951.3 L428.9 951.3 L429.4 951.2 L429.9 951.1 L430.0 951.0 L430.4 951.0 L430.9 950.9 L431.4 950.9 L431.9 950.9 L432.4 950.9 L432.9 950.8 L433.4 950.7 L433.9 950.7 L434.4 950.7 L434.9 950.7 L435.4 950.6 L435.9 950.5 L436.4 950.4 L436.9 950.3 L437.4 950.4 L437.9 950.5 L438.4 950.5 L438.9 950.5 L439.4 950.4 L439.9 950.4 L440.4 950.4 L440.9 950.4 L441.4 950.2 L441.9 950.1 L442.4 950.0 L442.9 949.9 L443.4 950.0 L443.9 950.0 L444.0 949.9 L444.4 949.7 L444.9 949.5 L445.4 949.2 L445.9 948.8 L446.4 948.7 L446.9 948.5 L447.4 948.2 L447.9 947.9 L448.4 947.6 L448.9 947.3 L449.0 947.2 L449.4 947.0 L449.9 946.7 L450.4 946.3 L450.9 945.9 L451.4 945.5 L451.9 945.0 L452.4 944.5 L452.9 943.1 L453.4 940.7 L453.9 938.0 L454.2 936.5 L454.4 935.4 L454.9 932.4 L455.4 929.6 L455.9 928.0 L456.0 928.0 L456.4 928.7 L456.9 931.0 L457.4 934.1 L457.8 936.2 L457.9 936.7 L458.4 939.2 L458.9 941.8 L459.4 943.7 L459.7 944.3 L459.9 944.4 L460.4 944.9 L460.9 945.2 L461.4 945.4 L461.9 945.6 L462.4 945.7 L462.9 945.8 L463.0 945.9 L463.4 946.0 L463.9 946.2 L464.4 946.2 L464.9 946.3 L465.4 946.4 L465.9 946.4 L466.4 946.5 L466.9 946.5 L467.4 946.5 L467.9 946.6 L468.0 946.6 L468.4 946.7 L468.9 946.9 L469.4 946.9 L469.9 947.0 L470.4 947.1 L470.9 947.1 L471.4 947.2 L471.9 947.3 L472.4 947.5 L472.9 947.6 L473.4 947.7 L473.9 947.9 L474.4 948.0 L474.9 948.1 L475.4 948.2 L475.9 948.4 L476.4 948.5 L476.9 948.7 L477.4 948.8 L477.9 948.9 L478.4 948.8 L478.9 948.7 L479.4 948.7 L479.9 948.7 L480.4 948.7 L480.9 948.8 L481.4 948.8 L481.9 948.8 L482.4 948.8 L482.9 948.9 L483.4 949.0 L483.9 949.1 L484.4 949.2 L484.9 949.3 L485.4 949.3 L485.9 949.3 L486.4 949.2 L486.9 949.2 L487.3 949.2 L487.4 949.1 L487.9 949.0 L488.4 948.8 L488.9 948.5 L489.4 948.2 L489.9 947.9 L490.4 947.6 L490.9 947.3 L491.4 946.9 L491.5 946.8 L491.9 946.5 L492.4 946.0 L492.9 945.5 L493.4 944.9 L493.9 944.3 L494.4 943.6 L494.5 943.4 L494.9 942.5 L495.4 940.6 L495.9 938.6 L496.4 936.8 L496.5 936.5 L496.9 935.3 L497.4 933.9 L497.9 933.0 L498.1 932.9 L498.4 933.1 L498.9 934.1 L499.4 935.5 L499.8 936.7 L499.9 937.0 L500.4 938.7 L500.9 940.8 L501.4 942.8 L501.9 944.6 L502.4 946.0 L502.9 946.6 L503.4 946.9 L503.9 947.1 L504.4 947.3 L504.9 947.5 L505.4 947.7 L505.9 947.9 L506.4 948.0 L506.9 948.1 L507.4 948.1 L507.9 948.1 L508.0 948.1 L508.4 948.2 L508.9 948.3 L509.4 948.4 L509.9 948.6 L510.4 948.6 L510.9 948.7 L511.4 948.7 L511.9 948.6 L512.4 948.6 L512.9 948.5 L513.4 948.5 L513.7 948.4 L513.9 948.4 L514.4 948.2 L514.9 947.8 L515.4 947.3 L515.9 946.7 L516.0 946.6 L516.4 946.1 L516.9 945.3 L517.4 944.2 L517.9 942.5 L518.0 942.1 L518.4 938.9 L518.9 932.5 L519.2 928.4 L519.4 925.3 L519.9 916.5 L520.2 914.2 L520.4 915.3 L520.9 923.2 L521.2 928.1 L521.4 930.7 L521.9 937.6 L522.4 942.5 L522.6 943.2 L522.9 943.5 L523.4 943.8 L523.9 943.9 L524.4 944.1 L524.9 944.3 L525.0 944.3 L525.4 944.3 L525.9 944.2 L526.4 943.8 L526.9 943.3 L527.4 942.7 L527.8 942.2 L527.9 942.0 L528.4 940.5 L528.9 938.2 L529.4 935.2 L529.9 931.8 L530.4 928.2 L530.5 927.5 L530.9 924.2 L531.4 919.5 L531.8 916.0 L531.9 915.2 L532.4 911.0 L532.9 908.3 L533.0 908.2 L533.4 909.5 L533.9 912.7 L534.2 914.4 L534.4 915.4 L534.9 918.1 L535.4 919.3 L535.9 915.6 L536.4 908.7 L536.6 906.4 L536.9 903.3 L537.4 898.2 L537.8 896.4 L537.9 896.5 L538.4 899.9 L538.9 905.9 L539.3 910.3 L539.4 911.3 L539.9 916.4 L540.4 921.6 L540.9 926.5 L541.4 930.3 L541.9 933.2 L542.4 935.6 L542.9 937.5 L543.0 937.9 L543.4 939.2 L543.9 940.6 L544.4 941.9 L544.9 942.8 L545.0 943.0 L545.4 943.5 L545.9 944.1 L546.4 944.7 L546.9 945.2 L547.4 945.6 L547.9 945.9 L548.0 945.9 L548.4 946.2 L548.9 946.5 L549.4 946.8 L549.9 947.1 L550.4 947.2 L550.9 947.3 L551.0 947.3 L551.4 947.2 L551.9 946.8 L552.4 946.0 L552.9 945.1 L553.0 944.9 L553.4 943.7 L553.9 941.5 L554.4 938.5 L554.6 936.9 L554.9 933.1 L555.4 923.6 L555.6 920.0 L555.9 914.0 L556.4 905.6 L556.5 905.3 L556.9 909.2 L557.4 918.7 L557.5 920.3 L557.9 926.8 L558.4 934.7 L558.9 939.8 L559.4 941.7 L559.9 943.0 L560.4 944.0 L560.5 944.1 L560.9 944.8 L561.4 945.6 L561.9 946.3 L562.4 946.9 L562.9 947.4 L563.0 947.4 L563.4 947.6 L563.9 947.8 L564.4 948.0 L564.9 948.1 L565.4 948.2 L565.9 948.3 L566.4 948.6 L566.9 948.8 L567.4 949.1 L567.9 949.4 L568.4 949.5 L568.9 949.6 L569.4 949.5 L569.9 949.4 L570.0 949.4 L570.4 949.3 L570.9 949.3 L571.4 949.4 L571.9 949.5 L572.4 949.7 L572.9 949.8 L573.4 950.0 L573.9 950.1 L574.4 950.1 L574.9 950.2 L575.4 950.2 L575.9 950.3 L576.2 950.3 L576.4 950.3 L576.9 950.4 L577.4 950.3 L577.9 950.2 L578.4 950.0 L578.9 949.8 L579.4 949.7 L579.9 949.5 L580.4 949.2 L580.9 948.9 L581.4 948.6 L581.9 948.4 L582.0 948.3 L582.4 948.2 L582.9 948.0 L583.4 947.6 L583.9 947.1 L584.4 946.6 L584.9 945.9 L585.4 945.3 L585.9 944.5 L586.4 943.6 L586.9 942.5 L587.0 942.2 L587.4 940.1 L587.9 935.2 L588.4 928.3 L588.6 925.3 L588.9 919.3 L589.4 905.5 L589.8 895.1 L589.9 892.7 L590.4 880.0 L590.9 873.3 L591.4 879.9 L591.9 892.8 L592.0 895.3 L592.4 907.2 L592.9 922.9 L593.0 925.3 L593.4 934.1 L593.9 943.0 L594.2 945.2 L594.4 945.7 L594.9 946.5 L595.4 947.1 L595.9 947.4 L596.4 947.8 L596.9 948.2 L597.0 948.3 L597.4 948.6 L597.9 949.0 L598.4 949.2 L598.9 949.4 L599.4 949.5 L599.9 949.6 L600.2 949.7 L600.4 949.8 L600.9 949.9 L601.4 950.0 L601.9 950.0 L602.4 950.0 L602.9 950.0 L603.4 950.0 L603.9 950.1 L604.4 950.2 L604.9 950.3 L605.4 950.4 L605.9 950.4 L606.4 950.5 L606.9 950.5 L607.4 950.5 L607.9 950.5 L608.4 950.5 L608.9 950.5 L609.4 950.5 L609.9 950.6 L610.0 950.6 L610.4 950.8 L610.9 950.9 L611.4 950.9 L611.9 951.0 L612.4 950.9 L612.9 950.9 L613.4 951.0 L613.9 951.1 L614.4 951.1 L614.9 951.2 L615.4 951.1 L615.9 951.1 L616.4 951.1 L616.9 951.1 L617.4 951.1 L617.9 951.2 L618.4 951.1 L618.9 951.1 L619.4 951.1 L619.9 951.2 L620.4 951.1 L620.9 951.1 L621.4 951.1 L621.9 951.1 L622.4 951.2 L622.9 951.3 L623.4 951.3 L623.9 951.2 L624.4 951.1 L624.9 951.0 L625.4 951.0 L625.9 951.0 L626.4 951.0 L626.9 951.0 L627.4 951.0 L627.9 951.0 L628.4 951.0 L628.9 950.9 L629.4 950.8 L629.9 950.6 L630.4 950.6 L630.9 950.6 L631.4 950.7 L631.9 950.8 L632.4 950.9 L632.9 951.0 L633.4 951.0 L633.9 950.9 L634.4 950.7 L634.9 950.5 L635.0 950.5 L635.4 950.4 L635.9 950.2 L636.4 950.1 L636.9 949.9 L637.4 949.9 L637.9 949.9 L638.4 949.8 L638.9 949.8 L639.4 949.8 L639.9 949.7 L640.4 949.7 L640.9 949.7 L641.4 949.6 L641.9 949.6 L642.4 949.6 L642.9 949.5 L643.4 949.4 L643.9 949.3 L644.4 949.2 L644.9 949.1 L645.4 949.1 L645.9 949.0 L646.4 948.8 L646.9 948.6 L647.4 948.5 L647.9 948.4 L648.3 948.3 L648.4 948.3 L648.9 948.2 L649.4 948.1 L649.9 947.9 L650.4 947.6 L650.9 947.3 L651.4 947.0 L651.9 946.6 L652.0 946.5 L652.4 946.3 L652.9 945.9 L653.4 945.4 L653.9 944.9 L654.4 944.3 L654.9 943.8 L655.4 943.4 L655.5 943.4 L655.9 943.1 L656.4 942.8 L656.9 942.5 L657.4 942.1 L657.9 941.9 L658.4 941.7 L658.9 941.8 L659.4 942.1 L659.9 942.5 L660.4 943.1 L660.9 943.7 L661.0 943.8 L661.4 944.2 L661.9 945.0 L662.4 945.7 L662.9 946.5 L663.4 947.4 L663.9 948.2 L664.4 948.9 L664.9 949.5 L665.1 949.6 L665.4 949.8 L665.9 950.1 L666.4 950.2 L666.9 950.4 L667.4 950.4 L667.9 950.4 L668.4 950.5 L668.9 950.6 L669.4 950.8 L669.9 951.0 L670.0 951.0 L670.4 951.1 L670.9 951.2 L671.4 951.4 L671.9 951.5 L672.4 951.6 L672.9 951.7 L673.4 951.7 L673.9 951.7 L674.4 951.7 L674.9 951.7 L675.4 951.7 L675.9 951.7 L676.4 951.8 L676.9 951.8 L677.1 951.9 L677.4 951.9 L677.9 952.1 L678.4 952.1 L678.9 952.1 L679.4 952.0 L679.9 951.8 L680.4 951.7 L680.9 951.7 L681.4 951.7 L681.9 951.7 L682.4 951.6 L682.9 951.5 L683.4 951.4 L683.9 951.4 L684.4 951.3 L684.9 951.3 L685.4 951.2 L685.9 951.1 L686.4 950.9 L686.9 950.7 L687.0 950.7 L687.4 950.6 L687.9 950.5 L688.4 950.5 L688.9 950.5 L689.4 950.4 L689.9 950.3 L690.4 950.2 L690.9 950.0 L691.4 950.0 L691.9 949.9 L692.4 949.9 L692.9 949.9 L693.4 950.0 L693.9 950.0 L694.4 949.8 L694.9 949.6 L695.4 949.4 L695.9 949.1 L696.4 948.9 L696.9 948.7 L697.4 948.4 L697.9 948.1 L698.4 947.8 L698.9 947.4 L699.4 947.0 L699.9 946.7 L700.4 946.3 L700.9 945.9 L701.4 945.5 L701.9 945.0 L702.0 944.9 L702.4 944.5 L702.9 944.0 L703.4 943.3 L703.9 942.7 L704.4 942.1 L704.9 941.4 L705.4 940.7 L705.9 940.0 L706.4 939.3 L706.9 938.6 L707.2 938.2 L707.4 937.9 L707.9 937.0 L708.4 935.9 L708.9 934.7 L709.4 933.4 L709.9 932.0 L710.4 930.7 L710.5 930.4 L710.9 929.3 L711.4 927.9 L711.9 926.3 L712.4 924.6 L712.9 922.7 L713.2 921.5 L713.4 920.6 L713.9 918.3 L714.4 915.9 L714.9 913.3 L715.4 910.5 L715.8 908.2 L715.9 907.6 L716.4 904.4 L716.9 900.9 L717.4 897.2 L717.9 893.3 L718.0 892.5 L718.4 889.1 L718.9 884.5 L719.4 879.5 L719.6 877.5 L719.9 874.6 L720.4 869.4 L720.9 863.8 L721.4 857.4 L721.9 850.4 L722.3 844.3" fill="none" stroke="#000" stroke-width="1.6" stroke-linejoin="round" stroke-linecap="butt"/>
<path d="M102.9 1095.2 L103.4 1095.1 L103.9 1095.1 L104.4 1095.0 L104.9 1094.9 L105.4 1094.8 L105.9 1094.7 L106.4 1094.7 L106.9 1094.7 L107.4 1094.7 L107.9 1094.6 L108.4 1094.6 L108.9 1094.5 L109.4 1094.5 L109.9 1094.5 L110.4 1094.5 L110.9 1094.5 L111.4 1094.4 L111.9 1094.3 L112.0 1094.3 L112.4 1094.3 L112.9 1094.3 L113.4 1094.3 L113.9 1094.4 L114.4 1094.4 L114.9 1094.4 L115.4 1094.4 L115.9 1094.5 L116.4 1094.5 L116.9 1094.6 L117.4 1094.7 L117.9 1094.7 L118.4 1094.6 L118.9 1094.6 L119.4 1094.6 L119.9 1094.6 L120.4 1094.5 L120.9 1094.5 L121.0 1094.5 L121.4 1094.5 L121.9 1094.5 L122.4 1094.7 L122.9 1094.9 L123.4 1095.0 L123.9 1095.1 L124.4 1095.0 L124.9 1095.0 L125.4 1094.9 L125.9 1094.9 L126.4 1095.0 L126.9 1095.1 L127.4 1095.1 L127.9 1095.2 L128.4 1095.2 L128.9 1095.3 L129.4 1095.4 L129.9 1095.6 L130.0 1095.6 L130.4 1095.7 L130.9 1095.9 L131.4 1096.1 L131.9 1096.2 L132.4 1096.2 L132.9 1096.2 L133.4 1096.3 L133.9 1096.4 L134.4 1096.5 L134.9 1096.7 L135.4 1096.8 L135.9 1096.8 L136.4 1096.7 L136.9 1096.7 L137.4 1096.7 L137.9 1096.8 L138.4 1097.0 L138.9 1097.2 L139.4 1097.4 L139.9 1097.5 L140.2 1097.6 L140.4 1097.7 L140.9 1097.8 L141.4 1097.9 L141.9 1098.0 L142.4 1098.0 L142.9 1098.0 L143.4 1098.1 L143.9 1098.1 L144.4 1098.3 L144.9 1098.4 L145.4 1098.5 L145.9 1098.6 L146.4 1098.6 L146.9 1098.6 L147.4 1098.6 L147.9 1098.6 L148.4 1098.7 L148.9 1098.8 L149.4 1098.8 L149.9 1098.9 L150.4 1099.0 L150.9 1099.1 L151.4 1099.2 L151.9 1099.2 L152.4 1099.2 L152.9 1099.3 L153.4 1099.4 L153.9 1099.5 L154.4 1099.6 L154.6 1099.6 L154.9 1099.7 L155.4 1099.7 L155.9 1099.6 L156.4 1099.5 L156.9 1099.4 L157.4 1099.3 L157.9 1099.2 L158.4 1099.4 L158.9 1099.5 L159.4 1099.5 L159.9 1099.6 L160.4 1099.6 L160.9 1099.7 L161.4 1099.7 L161.9 1099.8 L162.4 1099.7 L162.9 1099.7 L163.4 1099.7 L163.9 1099.7 L164.4 1099.6 L164.9 1099.6 L165.4 1099.5 L165.9 1099.4 L166.4 1099.5 L166.9 1099.5 L167.4 1099.5 L167.9 1099.5 L168.4 1099.5 L168.9 1099.4 L169.4 1099.5 L169.9 1099.6 L170.4 1099.7 L170.9 1099.7 L171.4 1099.8 L171.9 1099.8 L172.4 1099.8 L172.9 1099.8 L173.4 1099.8 L173.9 1099.9 L174.4 1100.0 L174.9 1100.1 L175.0 1100.1 L175.4 1100.1 L175.9 1100.0 L176.4 1099.9 L176.9 1099.8 L177.4 1099.7 L177.9 1099.6 L178.4 1099.6 L178.9 1099.6 L179.4 1099.6 L179.9 1099.6 L180.4 1099.6 L180.9 1099.6 L181.4 1099.6 L181.9 1099.7 L182.4 1099.8 L182.9 1099.8 L183.4 1099.7 L183.9 1099.7 L184.4 1099.7 L184.9 1099.6 L185.4 1099.7 L185.9 1099.7 L186.4 1099.8 L186.9 1099.9 L187.4 1099.9 L187.9 1099.9 L188.4 1099.7 L188.9 1099.6 L189.4 1099.5 L189.9 1099.5 L190.4 1099.6 L190.9 1099.6 L191.4 1099.7 L191.9 1099.7 L192.4 1099.6 L192.9 1099.6 L193.4 1099.6 L193.9 1099.6 L194.4 1099.6 L194.9 1099.6 L195.4 1099.6 L195.9 1099.6 L196.4 1099.6 L196.9 1099.7 L197.4 1099.7 L197.9 1099.6 L198.4 1099.6 L198.9 1099.6 L199.4 1099.6 L199.9 1099.6 L200.4 1099.6 L200.9 1099.6 L201.4 1099.7 L201.9 1099.8 L202.4 1099.8 L202.9 1099.8 L203.4 1099.7 L203.9 1099.7 L204.4 1099.7 L204.9 1099.7 L205.4 1099.6 L205.9 1099.6 L206.4 1099.6 L206.9 1099.6 L207.4 1099.7 L207.9 1099.8 L208.4 1099.8 L208.9 1099.8 L209.4 1099.7 L209.9 1099.5 L210.4 1099.4 L210.9 1099.4 L211.4 1099.4 L211.9 1099.4 L212.4 1099.5 L212.9 1099.5 L213.4 1099.6 L213.9 1099.6 L214.4 1099.6 L214.9 1099.6 L215.4 1099.5 L215.9 1099.5 L216.4 1099.4 L216.9 1099.4 L217.4 1099.5 L217.9 1099.6 L218.4 1099.7 L218.9 1099.8 L219.4 1099.8 L219.9 1099.7 L220.0 1099.7 L220.4 1099.6 L220.9 1099.5 L221.4 1099.4 L221.9 1099.3 L222.4 1099.3 L222.9 1099.3 L223.4 1099.3 L223.9 1099.4 L224.4 1099.3 L224.9 1099.3 L225.4 1099.3 L225.9 1099.3 L226.4 1099.5 L226.9 1099.6 L227.4 1099.7 L227.9 1099.7 L228.4 1099.6 L228.9 1099.6 L229.4 1099.5 L229.9 1099.5 L230.4 1099.5 L230.9 1099.6 L231.4 1099.6 L231.9 1099.5 L232.4 1099.4 L232.9 1099.2 L233.4 1099.2 L233.9 1099.2 L234.4 1099.3 L234.9 1099.4 L235.4 1099.4 L235.9 1099.3 L236.4 1099.3 L236.9 1099.3 L237.4 1099.2 L237.9 1099.2 L238.4 1099.1 L238.9 1099.0 L239.4 1099.1 L239.9 1099.2 L240.4 1099.3 L240.9 1099.3 L241.4 1099.3 L241.9 1099.2 L242.4 1099.1 L242.9 1099.0 L243.4 1099.1 L243.9 1099.1 L244.4 1099.2 L244.9 1099.2 L245.4 1099.1 L245.9 1099.1 L246.4 1099.0 L246.9 1099.0 L247.4 1099.0 L247.9 1099.1 L248.4 1099.1 L248.9 1099.1 L249.4 1099.0 L249.9 1098.9 L250.4 1098.9 L250.9 1098.9 L251.4 1098.8 L251.9 1098.8 L252.4 1098.7 L252.9 1098.6 L253.4 1098.6 L253.9 1098.6 L254.4 1098.8 L254.9 1098.9 L255.4 1099.0 L255.9 1099.0 L256.4 1098.9 L256.9 1098.7 L257.4 1098.7 L257.9 1098.7 L258.4 1098.6 L258.9 1098.6 L259.4 1098.6 L259.9 1098.6 L260.0 1098.6 L260.4 1098.6 L260.9 1098.6 L261.4 1098.6 L261.9 1098.6 L262.4 1098.5 L262.9 1098.5 L263.4 1098.5 L263.9 1098.4 L264.4 1098.4 L264.9 1098.4 L265.4 1098.5 L265.9 1098.6 L266.4 1098.5 L266.9 1098.5 L267.4 1098.4 L267.9 1098.2 L268.4 1098.2 L268.9 1098.1 L269.4 1098.0 L269.9 1097.9 L270.4 1097.9 L270.9 1097.9 L271.4 1097.9 L271.9 1097.9 L272.4 1098.0 L272.9 1098.1 L273.4 1098.0 L273.9 1098.0 L274.4 1097.8 L274.9 1097.6 L275.0 1097.6 L275.4 1097.5 L275.9 1097.4 L276.4 1097.4 L276.9 1097.3 L277.4 1097.2 L277.9 1097.2 L278.4 1097.2 L278.9 1097.2 L279.4 1097.3 L279.9 1097.4 L280.4 1097.4 L280.9 1097.4 L281.4 1097.2 L281.9 1097.0 L282.4 1096.9 L282.9 1096.8 L283.4 1096.8 L283.9 1096.7 L284.4 1096.6 L284.9 1096.6 L285.4 1096.5 L285.9 1096.4 L286.4 1096.3 L286.9 1096.2 L287.4 1095.9 L287.9 1095.6 L288.4 1095.4 L288.9 1095.2 L289.4 1095.0 L289.9 1094.8 L290.0 1094.7 L290.4 1094.5 L290.9 1094.2 L291.4 1093.8 L291.9 1093.3 L292.4 1092.8 L292.9 1092.1 L293.4 1091.4 L293.9 1090.7 L294.3 1090.3 L294.4 1090.3 L294.9 1090.0 L295.4 1089.7 L295.9 1089.5 L296.0 1089.5 L296.4 1089.6 L296.9 1090.0 L297.4 1090.6 L297.9 1091.0 L298.0 1091.1 L298.4 1091.5 L298.9 1092.0 L299.4 1092.6 L299.9 1093.1 L300.4 1093.4 L300.9 1093.5 L301.4 1093.4 L301.9 1093.2 L302.4 1093.1 L302.9 1092.9 L303.4 1092.8 L303.9 1092.7 L304.0 1092.7 L304.4 1092.6 L304.9 1092.4 L305.4 1092.3 L305.9 1092.1 L306.4 1091.8 L306.9 1091.5 L307.4 1091.0 L307.9 1090.4 L308.4 1089.7 L308.9 1088.9 L309.4 1088.1 L309.5 1087.9 L309.9 1087.2 L310.4 1086.2 L310.9 1084.9 L311.4 1083.5 L311.7 1082.5 L311.9 1081.7 L312.4 1079.2 L312.9 1076.0 L313.4 1072.3 L313.5 1071.5 L313.9 1068.0 L314.4 1062.9 L314.8 1058.6 L314.9 1057.4 L315.4 1051.4 L315.9 1045.3 L316.3 1041.5 L316.4 1040.7 L316.9 1036.9 L317.4 1034.0 L317.7 1033.4 L317.9 1033.7 L318.4 1037.3 L318.9 1042.6 L319.0 1043.7 L319.4 1049.1 L319.9 1056.8 L320.1 1059.0 L320.4 1061.2 L320.9 1064.2 L321.4 1066.7 L321.5 1067.2 L321.9 1069.1 L322.4 1071.3 L322.9 1073.2 L323.0 1073.4 L323.4 1074.4 L323.9 1075.4 L324.4 1076.3 L324.9 1076.9 L325.0 1077.1 L325.4 1077.6 L325.9 1078.2 L326.4 1078.7 L326.9 1079.1 L327.3 1079.2 L327.4 1079.2 L327.9 1078.8 L328.4 1077.8 L328.7 1077.1 L328.9 1076.5 L329.4 1073.5 L329.7 1070.7 L329.9 1067.1 L330.4 1050.4 L330.9 1022.5 L331.4 995.2 L331.6 985.3 L331.9 969.3 L332.3 956.3 L332.4 957.6 L332.9 984.7 L333.0 990.3 L333.4 1014.6 L333.8 1034.6 L333.9 1037.6 L334.4 1049.3 L334.8 1055.7 L334.9 1057.0 L335.4 1063.2 L335.9 1067.5 L336.2 1068.4 L336.4 1067.5 L336.9 1060.7 L337.2 1055.6 L337.4 1051.2 L337.9 1037.7 L338.1 1034.7 L338.4 1033.1 L338.9 1031.3 L339.0 1030.6 L339.4 1025.4 L339.8 1018.6 L339.9 1016.9 L340.4 1006.8 L340.9 998.1 L341.2 996.2 L341.4 997.6 L341.9 1008.5 L342.3 1018.5 L342.4 1020.7 L342.9 1034.0 L343.4 1044.3 L343.6 1045.5 L343.9 1041.9 L344.4 1027.0 L344.7 1018.5 L344.9 1013.6 L345.4 1000.9 L345.8 996.2 L345.9 996.7 L346.4 1008.1 L346.8 1020.4 L346.9 1023.2 L347.4 1038.5 L347.7 1046.5 L347.9 1050.8 L348.4 1060.4 L348.9 1068.4 L349.4 1075.4 L349.9 1081.1 L350.1 1082.7 L350.4 1084.4 L350.9 1086.5 L351.2 1087.5 L351.4 1088.0 L351.9 1089.1 L352.4 1089.9 L352.5 1090.0 L352.9 1090.5 L353.4 1091.2 L353.9 1091.7 L354.4 1092.2 L354.9 1092.6 L355.0 1092.7 L355.4 1093.0 L355.9 1093.3 L356.4 1093.7 L356.9 1094.1 L357.4 1094.4 L357.9 1094.7 L358.4 1094.8 L358.5 1094.8 L358.9 1094.9 L359.4 1094.9 L359.9 1095.0 L360.4 1095.2 L360.9 1095.3 L361.4 1095.4 L361.9 1095.5 L362.4 1095.6 L362.9 1095.6 L363.0 1095.6 L363.4 1095.6 L363.9 1095.7 L364.4 1095.7 L364.9 1095.7 L365.4 1095.7 L365.9 1095.6 L366.4 1095.7 L366.9 1095.7 L367.4 1095.7 L367.9 1095.8 L368.1 1095.8 L368.4 1095.8 L368.9 1095.9 L369.4 1096.0 L369.9 1096.2 L370.4 1096.3 L370.9 1096.5 L371.4 1096.6 L371.9 1096.7 L372.0 1096.8 L372.4 1096.8 L372.9 1096.9 L373.4 1097.0 L373.9 1097.1 L374.4 1097.2 L374.9 1097.2 L375.4 1097.3 L375.9 1097.3 L376.4 1097.4 L376.9 1097.5 L377.4 1097.4 L377.9 1097.4 L378.4 1097.4 L378.9 1097.4 L379.4 1097.6 L379.9 1097.7 L380.2 1097.8 L380.4 1097.8 L380.9 1097.9 L381.4 1097.9 L381.9 1097.9 L382.4 1098.0 L382.9 1098.0 L383.4 1098.0 L383.9 1098.0 L384.4 1098.0 L384.9 1098.0 L385.4 1098.0 L385.9 1097.9 L386.4 1097.9 L386.9 1097.9 L387.4 1098.0 L387.9 1098.0 L388.4 1098.0 L388.9 1098.1 L389.4 1098.1 L389.9 1098.1 L390.4 1098.1 L390.9 1098.1 L391.4 1098.1 L391.9 1098.1 L392.4 1098.1 L392.9 1098.2 L393.4 1098.2 L393.9 1098.3 L394.4 1098.3 L394.9 1098.3 L395.4 1098.2 L395.9 1098.2 L396.4 1098.1 L396.9 1098.1 L397.4 1098.2 L397.9 1098.3 L398.4 1098.3 L398.9 1098.3 L399.4 1098.3 L399.9 1098.4 L400.4 1098.5 L400.9 1098.5 L401.4 1098.6 L401.9 1098.6 L402.4 1098.6 L402.9 1098.7 L403.4 1098.6 L403.9 1098.5 L404.4 1098.5 L404.9 1098.4 L405.4 1098.4 L405.9 1098.4 L406.4 1098.4 L406.9 1098.5 L407.4 1098.5 L407.9 1098.6 L408.4 1098.7 L408.9 1098.7 L409.4 1098.8 L409.9 1098.8 L410.4 1098.8 L410.9 1098.7 L411.4 1098.6 L411.9 1098.5 L412.4 1098.6 L412.9 1098.7 L413.4 1098.7 L413.9 1098.8 L414.4 1098.7 L414.9 1098.7 L415.4 1098.7 L415.9 1098.6 L416.4 1098.6 L416.9 1098.5 L417.4 1098.5 L417.9 1098.5 L418.4 1098.6 L418.9 1098.6 L419.4 1098.7 L419.9 1098.8 L420.0 1098.7 L420.4 1098.7 L420.9 1098.7 L421.4 1098.7 L421.9 1098.6 L422.4 1098.6 L422.9 1098.7 L423.4 1098.8 L423.9 1098.9 L424.4 1098.9 L424.9 1098.9 L425.4 1098.9 L425.9 1098.9 L426.4 1098.9 L426.9 1098.9 L427.4 1099.0 L427.9 1099.1 L428.4 1099.1 L428.9 1099.1 L429.4 1099.0 L429.9 1098.9 L430.4 1098.8 L430.9 1098.7 L431.4 1098.7 L431.9 1098.7 L432.4 1098.7 L432.9 1098.6 L433.4 1098.6 L433.9 1098.6 L434.4 1098.6 L434.9 1098.6 L435.4 1098.5 L435.9 1098.5 L436.4 1098.4 L436.9 1098.4 L437.4 1098.5 L437.9 1098.7 L438.4 1098.7 L438.9 1098.8 L439.4 1098.8 L439.9 1098.8 L440.4 1098.8 L440.9 1098.9 L441.4 1098.8 L441.9 1098.7 L442.4 1098.7 L442.9 1098.8 L443.4 1098.8 L443.9 1098.9 L444.4 1098.8 L444.9 1098.7 L445.4 1098.6 L445.9 1098.4 L446.4 1098.5 L446.9 1098.6 L447.4 1098.6 L447.9 1098.6 L448.4 1098.6 L448.9 1098.6 L449.4 1098.6 L449.9 1098.6 L450.4 1098.5 L450.9 1098.5 L451.4 1098.6 L451.9 1098.6 L452.4 1098.7 L452.9 1098.9 L453.4 1098.9 L453.9 1098.9 L454.4 1098.8 L454.9 1098.7 L455.4 1098.6 L455.9 1098.5 L456.4 1098.5 L456.9 1098.5 L457.4 1098.5 L457.9 1098.6 L458.4 1098.6 L458.9 1098.5 L459.4 1098.5 L459.9 1098.5 L460.4 1098.6 L460.9 1098.6 L461.4 1098.6 L461.9 1098.6 L462.4 1098.6 L462.9 1098.6 L463.4 1098.7 L463.9 1098.7 L464.4 1098.7 L464.9 1098.7 L465.4 1098.6 L465.9 1098.6 L466.4 1098.5 L466.9 1098.5 L467.4 1098.5 L467.9 1098.5 L468.4 1098.5 L468.9 1098.6 L469.4 1098.6 L469.9 1098.5 L470.4 1098.5 L470.9 1098.5 L471.4 1098.5 L471.9 1098.5 L472.4 1098.6 L472.9 1098.6 L473.4 1098.7 L473.9 1098.7 L474.4 1098.8 L474.9 1098.8 L475.4 1098.8 L475.9 1098.9 L476.4 1099.0 L476.9 1099.1 L477.4 1099.1 L477.9 1099.1 L478.4 1098.9 L478.9 1098.8 L479.4 1098.7 L479.9 1098.6 L480.0 1098.6 L480.4 1098.6 L480.9 1098.6 L481.4 1098.5 L481.9 1098.5 L482.4 1098.5 L482.9 1098.5 L483.4 1098.5 L483.9 1098.6 L484.4 1098.7 L484.9 1098.7 L485.4 1098.7 L485.9 1098.6 L486.4 1098.6 L486.9 1098.5 L487.4 1098.5 L487.9 1098.4 L488.4 1098.4 L488.9 1098.3 L489.4 1098.4 L489.9 1098.4 L490.4 1098.4 L490.9 1098.5 L491.4 1098.5 L491.9 1098.5 L492.4 1098.4 L492.9 1098.4 L493.4 1098.5 L493.9 1098.6 L494.4 1098.6 L494.9 1098.7 L495.4 1098.7 L495.9 1098.6 L496.4 1098.5 L496.9 1098.5 L497.4 1098.4 L497.9 1098.3 L498.4 1098.2 L498.9 1098.2 L499.4 1098.2 L499.9 1098.1 L500.4 1098.2 L500.9 1098.2 L501.4 1098.1 L501.9 1098.1 L502.4 1098.0 L502.9 1097.9 L503.4 1097.9 L503.9 1097.9 L504.1 1097.9 L504.4 1097.9 L504.9 1097.9 L505.4 1097.8 L505.9 1097.6 L506.4 1097.4 L506.9 1097.1 L507.4 1096.6 L507.9 1096.2 L508.0 1096.1 L508.4 1095.6 L508.9 1094.7 L509.4 1093.7 L509.9 1092.6 L510.3 1091.8 L510.4 1091.6 L510.9 1090.4 L511.4 1089.3 L511.9 1088.6 L512.0 1088.6 L512.4 1088.9 L512.9 1090.1 L513.4 1091.4 L513.6 1091.8 L513.9 1092.4 L514.4 1093.5 L514.9 1094.6 L515.4 1095.5 L515.9 1096.1 L516.1 1096.2 L516.4 1096.1 L516.9 1095.9 L517.4 1095.6 L517.9 1095.0 L518.4 1094.4 L518.5 1094.2 L518.9 1093.5 L519.4 1092.1 L519.9 1090.4 L520.4 1088.6 L520.8 1087.3 L520.9 1087.0 L521.4 1085.3 L521.9 1083.4 L522.4 1082.0 L522.9 1081.4 L523.4 1082.1 L523.9 1083.9 L524.4 1086.1 L524.8 1087.5 L524.9 1087.8 L525.4 1089.5 L525.9 1091.2 L526.4 1092.7 L526.9 1094.0 L527.4 1094.9 L527.9 1095.4 L528.1 1095.4 L528.4 1095.3 L528.9 1094.8 L529.4 1093.9 L529.9 1092.9 L530.4 1091.7 L530.5 1091.5 L530.9 1090.6 L531.4 1089.3 L531.9 1088.0 L532.4 1086.7 L532.5 1086.5 L532.9 1085.5 L533.4 1084.3 L533.9 1083.0 L534.0 1082.7 L534.4 1081.3 L534.9 1079.3 L535.4 1077.9 L535.6 1077.7 L535.9 1078.3 L536.4 1080.9 L536.9 1084.1 L537.2 1085.7 L537.4 1086.6 L537.9 1088.9 L538.4 1091.0 L538.9 1092.5 L539.0 1092.7 L539.4 1093.5 L539.9 1094.3 L540.4 1095.1 L540.9 1095.7 L541.4 1096.1 L541.5 1096.2 L541.9 1096.4 L542.4 1096.6 L542.9 1096.7 L543.4 1096.8 L543.9 1096.8 L544.4 1096.8 L544.5 1096.8 L544.9 1096.6 L545.4 1096.1 L545.9 1095.2 L546.4 1094.1 L546.9 1092.7 L547.0 1092.4 L547.4 1090.5 L547.9 1086.7 L548.4 1082.2 L548.6 1080.5 L548.9 1077.3 L549.4 1070.8 L549.9 1065.2 L550.3 1063.4 L550.4 1063.5 L550.9 1066.7 L551.4 1072.0 L551.8 1075.7 L551.9 1076.4 L552.4 1080.0 L552.9 1083.3 L553.4 1085.5 L553.9 1086.9 L554.4 1088.0 L554.9 1088.9 L555.4 1089.7 L555.5 1089.8 L555.9 1090.4 L556.4 1091.1 L556.9 1091.8 L557.4 1092.4 L557.9 1092.8 L558.2 1092.8 L558.4 1092.8 L558.9 1092.5 L559.4 1091.7 L559.9 1090.7 L560.4 1089.7 L560.5 1089.4 L560.9 1088.3 L561.4 1086.4 L561.9 1084.2 L562.4 1082.0 L562.5 1081.6 L562.9 1079.7 L563.4 1077.1 L563.9 1075.6 L564.0 1075.5 L564.4 1076.6 L564.9 1079.8 L565.3 1082.6 L565.4 1083.2 L565.9 1087.1 L566.4 1090.8 L566.6 1091.6 L566.9 1092.4 L567.4 1093.7 L567.9 1094.6 L568.4 1095.2 L568.9 1095.7 L569.0 1095.7 L569.4 1095.9 L569.9 1096.0 L570.4 1096.2 L570.9 1096.3 L571.4 1096.6 L571.9 1096.8 L572.4 1097.1 L572.9 1097.2 L573.4 1097.4 L573.8 1097.4 L573.9 1097.4 L574.4 1097.4 L574.9 1097.4 L575.4 1097.4 L575.9 1097.4 L576.4 1097.5 L576.9 1097.6 L577.4 1097.6 L577.9 1097.5 L578.4 1097.5 L578.9 1097.5 L579.4 1097.5 L579.9 1097.5 L580.0 1097.5 L580.4 1097.5 L580.9 1097.4 L581.4 1097.4 L581.9 1097.4 L582.4 1097.4 L582.9 1097.5 L583.4 1097.4 L583.9 1097.3 L584.4 1097.1 L584.9 1097.0 L585.4 1097.0 L585.8 1097.0 L585.9 1097.0 L586.4 1096.9 L586.9 1096.7 L587.4 1096.4 L587.9 1095.9 L588.4 1095.3 L588.8 1094.8 L588.9 1094.7 L589.4 1093.9 L589.9 1093.0 L590.4 1092.0 L590.9 1090.7 L591.1 1090.2 L591.4 1088.9 L591.9 1085.7 L592.4 1081.7 L592.8 1078.6 L592.9 1077.8 L593.4 1072.8 L593.9 1068.1 L594.4 1065.9 L594.9 1068.0 L595.4 1072.6 L595.9 1077.6 L596.0 1078.4 L596.4 1082.0 L596.9 1086.7 L597.4 1090.4 L597.6 1091.3 L597.9 1092.1 L598.4 1093.2 L598.9 1094.0 L599.4 1094.7 L599.9 1095.1 L600.0 1095.2 L600.4 1095.5 L600.9 1095.9 L601.4 1096.2 L601.9 1096.4 L602.4 1096.6 L602.9 1096.7 L603.4 1097.0 L603.9 1097.2 L604.4 1097.4 L604.9 1097.6 L605.4 1097.8 L605.9 1097.9 L606.4 1098.0 L606.9 1098.0 L607.4 1098.0 L607.5 1098.0 L607.9 1097.9 L608.4 1097.9 L608.9 1097.9 L609.4 1097.9 L609.9 1098.0 L610.4 1098.1 L610.9 1098.2 L611.4 1098.2 L611.9 1098.2 L612.4 1098.2 L612.9 1098.1 L613.4 1098.2 L613.9 1098.2 L614.4 1098.2 L614.9 1098.3 L615.4 1098.2 L615.9 1098.1 L616.4 1098.1 L616.9 1098.1 L617.4 1098.1 L617.9 1098.1 L618.4 1098.1 L618.9 1098.0 L619.4 1098.0 L619.9 1098.0 L620.4 1098.0 L620.9 1098.0 L621.4 1098.0 L621.9 1098.0 L622.4 1098.1 L622.9 1098.2 L623.4 1098.2 L623.9 1098.1 L624.4 1098.1 L624.9 1098.0 L625.4 1098.0 L625.9 1098.0 L626.4 1098.1 L626.9 1098.1 L627.4 1098.2 L627.9 1098.2 L628.4 1098.2 L628.9 1098.2 L629.4 1098.1 L629.9 1098.0 L630.0 1098.0 L630.4 1098.0 L630.9 1098.1 L631.4 1098.2 L631.9 1098.4 L632.4 1098.5 L632.9 1098.7 L633.4 1098.7 L633.9 1098.7 L634.4 1098.6 L634.9 1098.4 L635.4 1098.3 L635.9 1098.1 L636.4 1098.1 L636.9 1098.0 L637.4 1098.0 L637.9 1098.0 L638.4 1098.0 L638.9 1098.0 L639.4 1098.1 L639.9 1098.1 L640.4 1098.1 L640.9 1098.1 L641.4 1098.1 L641.9 1098.2 L642.4 1098.2 L642.9 1098.2 L643.4 1098.2 L643.9 1098.1 L644.4 1098.1 L644.9 1098.1 L645.4 1098.1 L645.9 1098.1 L646.4 1098.0 L646.9 1098.0 L647.4 1097.9 L647.9 1097.9 L648.3 1097.9 L648.4 1097.9 L648.9 1097.9 L649.4 1097.9 L649.9 1097.9 L650.4 1097.7 L650.9 1097.6 L651.4 1097.4 L651.9 1097.2 L652.4 1097.0 L652.9 1096.9 L653.0 1096.9 L653.4 1096.8 L653.9 1096.6 L654.4 1096.4 L654.9 1096.1 L655.4 1095.9 L655.9 1095.7 L656.4 1095.6 L656.5 1095.6 L656.9 1095.5 L657.4 1095.2 L657.9 1095.0 L658.4 1094.8 L658.9 1094.6 L659.4 1094.5 L659.9 1094.6 L660.4 1094.9 L660.9 1095.3 L661.4 1095.6 L661.9 1096.0 L662.0 1096.1 L662.4 1096.3 L662.9 1096.6 L663.4 1097.1 L663.9 1097.5 L664.4 1097.9 L664.9 1098.1 L665.1 1098.2 L665.4 1098.3 L665.9 1098.5 L666.4 1098.5 L666.9 1098.6 L667.4 1098.5 L667.9 1098.5 L668.4 1098.5 L668.9 1098.6 L669.4 1098.7 L669.9 1098.9 L670.4 1099.0 L670.9 1099.1 L671.4 1099.1 L671.9 1099.2 L672.4 1099.3 L672.9 1099.3 L673.4 1099.3 L673.9 1099.3 L674.4 1099.3 L674.9 1099.2 L675.4 1099.2 L675.9 1099.1 L676.4 1099.2 L676.9 1099.2 L677.1 1099.3 L677.4 1099.3 L677.9 1099.5 L678.4 1099.5 L678.9 1099.6 L679.4 1099.4 L679.9 1099.3 L680.4 1099.3 L680.9 1099.2 L681.4 1099.3 L681.9 1099.3 L682.4 1099.3 L682.9 1099.3 L683.4 1099.3 L683.9 1099.3 L684.4 1099.3 L684.9 1099.3 L685.4 1099.2 L685.9 1099.2 L686.4 1099.0 L686.9 1098.9 L687.4 1098.8 L687.9 1098.8 L688.4 1098.8 L688.9 1098.9 L689.4 1098.8 L689.9 1098.7 L690.0 1098.7 L690.4 1098.7 L690.9 1098.6 L691.4 1098.6 L691.9 1098.6 L692.4 1098.6 L692.9 1098.7 L693.4 1098.8 L693.9 1098.9 L694.4 1098.8 L694.9 1098.8 L695.4 1098.6 L695.9 1098.4 L696.4 1098.3 L696.9 1098.2 L697.4 1098.1 L697.9 1098.0 L698.4 1098.0 L698.8 1097.9 L698.9 1097.9 L699.4 1097.8 L699.9 1097.7 L700.4 1097.6 L700.9 1097.5 L701.4 1097.3 L701.9 1097.1 L702.4 1096.8 L702.9 1096.5 L703.4 1096.2 L703.9 1095.8 L704.0 1095.8 L704.4 1095.5 L704.9 1095.2 L705.4 1094.9 L705.9 1094.6 L706.4 1094.3 L706.9 1094.0 L707.4 1093.7 L707.9 1093.4 L708.4 1092.9 L708.9 1092.4 L709.4 1091.7 L709.9 1091.0 L710.4 1090.3 L710.9 1089.7 L711.4 1089.0 L711.5 1088.9 L711.9 1088.3 L712.4 1087.5 L712.9 1086.6 L713.4 1085.5 L713.9 1084.3 L714.4 1083.1 L714.9 1081.7 L715.4 1080.2 L715.9 1078.5 L716.4 1076.9 L716.5 1076.5 L716.9 1075.1 L717.4 1073.4 L717.9 1071.4 L718.4 1069.3 L718.5 1068.9 L718.9 1067.0 L719.4 1064.4 L719.9 1061.5 L720.4 1058.4 L720.5 1057.8 L720.9 1055.1 L721.4 1051.5 L721.9 1047.5 L722.3 1044.2" fill="none" stroke="#000" stroke-width="1.6" stroke-linejoin="round" stroke-linecap="butt"/>
<text transform="translate(102.9 684.5) scale(1.02 1)" font-size="19.2" text-anchor="start" font-weight="bold" fill="#000">Ethanol</text>
<text transform="translate(102.9 831.2) scale(1.02 1)" font-size="19.2" text-anchor="start" font-weight="bold" fill="#000">Ethanol-d3</text>
<text transform="translate(102.9 977.4) scale(1.02 1)" font-size="19.2" text-anchor="start" font-weight="bold" fill="#000">Ethanol-d5</text>
<text transform="translate(137.8 735.5) scale(1.08 1)" font-size="10.2" text-anchor="middle" fill="#000" stroke="#000" stroke-width="0.25">2971</text>
<path d="M155.3 733.8 L173.8 741.9 M166.0 742.9 L173.8 741.9 L169.2 735.5" fill="none" stroke="#000" stroke-width="1.4" stroke-linecap="round" stroke-linejoin="miter"/>
<text transform="translate(232.1 705.4) scale(1.08 1)" font-size="10.2" text-anchor="middle" fill="#000" stroke="#000" stroke-width="0.25">2927</text>
<path d="M217.1 700.1 L192.7 686.7 M200.6 686.4 L192.7 686.7 L196.7 693.5" fill="none" stroke="#000" stroke-width="1.4" stroke-linecap="round" stroke-linejoin="miter"/>
<text transform="translate(247.4 748.8) scale(1.08 1)" font-size="10.2" text-anchor="middle" fill="#000" stroke="#000" stroke-width="0.25">2877</text>
<path d="M227.1 744.1 L203.7 737.5 M211.3 735.4 L203.7 737.5 L209.1 743.3" fill="none" stroke="#000" stroke-width="1.4" stroke-linecap="round" stroke-linejoin="miter"/>
<text transform="translate(138 875.8) scale(1.08 1)" font-size="10.2" text-anchor="middle" fill="#000" stroke="#000" stroke-width="0.25">2968</text>
<path d="M155.3 874.5 L173.8 882.9 M166.0 883.8 L173.8 882.9 L169.3 876.4" fill="none" stroke="#000" stroke-width="1.4" stroke-linecap="round" stroke-linejoin="miter"/>
<text transform="translate(241.9 851.8) scale(1.08 1)" font-size="10.2" text-anchor="middle" fill="#000" stroke="#000" stroke-width="0.25">2889</text>
<path d="M221.1 850.1 L202.5 848.5 M209.6 845.0 L202.5 848.5 L208.9 853.1" fill="none" stroke="#000" stroke-width="1.4" stroke-linecap="round" stroke-linejoin="miter"/>
<text transform="translate(275 868.2) scale(1.08 1)" font-size="10.2" text-anchor="middle" fill="#000" stroke="#000" stroke-width="0.25">2231</text>
<path d="M292.4 866.1 L311.0 874.7 M303.1 875.6 L311.0 874.7 L306.6 868.2" fill="none" stroke="#000" stroke-width="1.4" stroke-linecap="round" stroke-linejoin="miter"/>
<text transform="translate(380.6 835.1) scale(1.08 1)" font-size="10.2" text-anchor="middle" fill="#000" stroke="#000" stroke-width="0.25">2125</text>
<path d="M360.1 833.0 L341.1 831.4 M348.2 827.9 L341.1 831.4 L347.5 836.0" fill="none" stroke="#000" stroke-width="1.4" stroke-linecap="round" stroke-linejoin="miter"/>
<text transform="translate(390.9 891.8) scale(1.08 1)" font-size="10.2" text-anchor="middle" fill="#000" stroke="#000" stroke-width="0.25">2057</text>
<path d="M372.5 888.7 L353.7 887.1 M360.8 883.6 L353.7 887.1 L360.1 891.7" fill="none" stroke="#000" stroke-width="1.4" stroke-linecap="round" stroke-linejoin="miter"/>
<text transform="translate(373.5 970.5) scale(1.08 1)" font-size="10.2" text-anchor="middle" fill="#000" stroke="#000" stroke-width="0.25">2148</text>
<path d="M356.9 968.7 L338.1 966.3 M345.3 963.1 L338.1 966.3 L344.3 971.2" fill="none" stroke="#000" stroke-width="1.4" stroke-linecap="round" stroke-linejoin="miter"/>
<text transform="translate(374.2 986.9) scale(1.08 1)" font-size="10.2" text-anchor="middle" fill="#000" stroke="#000" stroke-width="0.25">2102</text>
<path d="M359.0 982.4 L342.9 992.8 M346.4 985.7 L342.9 992.8 L350.8 992.5" fill="none" stroke="#000" stroke-width="1.4" stroke-linecap="round" stroke-linejoin="miter"/>
<text transform="translate(385.5 1035.9) scale(1.08 1)" font-size="10.2" text-anchor="middle" fill="#000" stroke="#000" stroke-width="0.25">2075</text>
<path d="M368.1 1034.1 L349.4 1019.7 M357.2 1020.6 L349.4 1019.7 L352.3 1027.1" fill="none" stroke="#000" stroke-width="1.4" stroke-linecap="round" stroke-linejoin="miter"/>
<text transform="translate(276.4 1037.3) scale(1.08 1)" font-size="10.2" text-anchor="middle" fill="#000" stroke="#000" stroke-width="0.25">2227</text>
<path d="M293.6 1035.3 L311.7 1043.7 M303.8 1044.5 L311.7 1043.7 L307.3 1037.2" fill="none" stroke="#000" stroke-width="1.4" stroke-linecap="round" stroke-linejoin="miter"/>
<text transform="translate(253.4 1077.3) scale(1.08 1)" font-size="10.2" text-anchor="middle" fill="#000" stroke="#000" stroke-width="0.25">2345</text>
<path d="M270.5 1076.1 L289.2 1084.5 M281.4 1085.4 L289.2 1084.5 L284.7 1078.0" fill="none" stroke="#000" stroke-width="1.4" stroke-linecap="round" stroke-linejoin="miter"/>
</g>
</svg>
</body></html>
